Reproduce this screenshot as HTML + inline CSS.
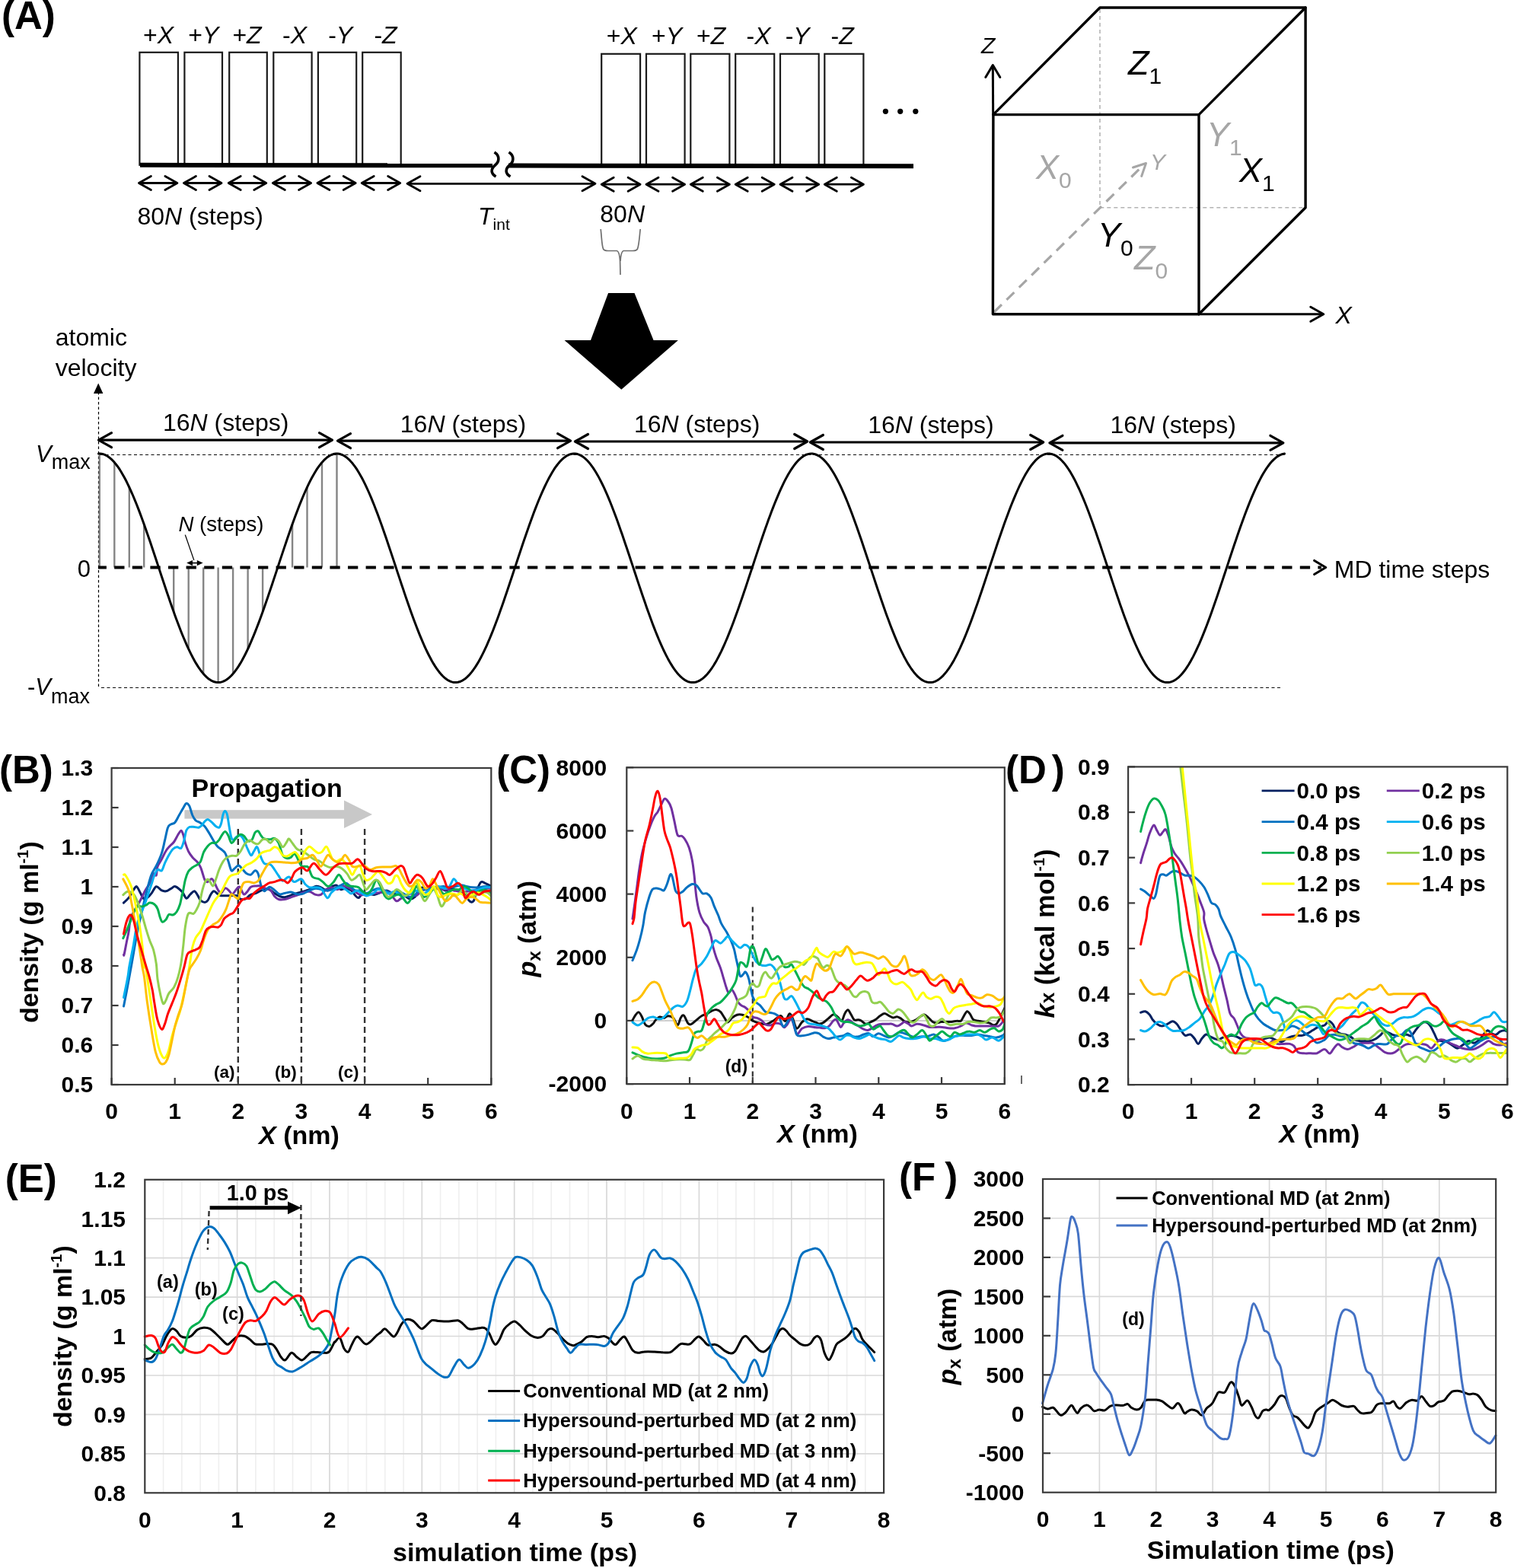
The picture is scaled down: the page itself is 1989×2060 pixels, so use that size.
<!DOCTYPE html>
<html><head><meta charset="utf-8"><style>
html,body{margin:0;padding:0;background:#fff;}
svg{display:block;}
text{font-family:'Liberation Sans', Arial, sans-serif;}
</style></head><body>
<svg width="1989" height="2060" viewBox="0 0 1989 2060">
<rect width="1989" height="2060" fill="#fff"/>
<text x="2.0" y="37.6" font-size="51" text-anchor="start" font-weight="bold" font-style="normal" fill="#000" >(A)</text>
<rect x="183.4" y="68.8" width="50.5" height="148" fill="none" stroke="#1a1a1a" stroke-width="2.2"/>
<rect x="242.4" y="68.8" width="49.6" height="148" fill="none" stroke="#1a1a1a" stroke-width="2.2"/>
<rect x="301.2" y="68.8" width="49.6" height="148" fill="none" stroke="#1a1a1a" stroke-width="2.2"/>
<rect x="359.3" y="68.8" width="50.3" height="148" fill="none" stroke="#1a1a1a" stroke-width="2.2"/>
<rect x="417.9" y="68.8" width="50.3" height="148" fill="none" stroke="#1a1a1a" stroke-width="2.2"/>
<rect x="476.2" y="68.8" width="50.5" height="148" fill="none" stroke="#1a1a1a" stroke-width="2.2"/>
<rect x="790.2" y="70.8" width="50.9" height="147" fill="none" stroke="#1a1a1a" stroke-width="2.2"/>
<rect x="849.0" y="70.8" width="50.6" height="147" fill="none" stroke="#1a1a1a" stroke-width="2.2"/>
<rect x="907.3" y="70.8" width="51.1" height="147" fill="none" stroke="#1a1a1a" stroke-width="2.2"/>
<rect x="966.2" y="70.8" width="51.0" height="147" fill="none" stroke="#1a1a1a" stroke-width="2.2"/>
<rect x="1025.0" y="70.8" width="50.7" height="147" fill="none" stroke="#1a1a1a" stroke-width="2.2"/>
<rect x="1083.3" y="70.8" width="51.1" height="147" fill="none" stroke="#1a1a1a" stroke-width="2.2"/>
<line x1="184.0" y1="216.8" x2="647.0" y2="217.3" stroke="#000" stroke-width="6" />
<line x1="668.0" y1="217.6" x2="1200.0" y2="218.3" stroke="#000" stroke-width="6" />
<path d="M649.5,200 C657.5,205 655.5,213 650.5,217 C644.5,222 644.5,228 651.5,232" fill="none" stroke="#000" stroke-width="3.6"/>
<path d="M668.5,200 C676.5,205 674.5,213 669.5,217 C663.5,222 663.5,228 670.5,232" fill="none" stroke="#000" stroke-width="3.6"/>
<text x="188.0" y="56.6" font-size="32">+<tspan font-style="italic">X</tspan></text>
<text x="247.3" y="56.6" font-size="32">+<tspan font-style="italic">Y</tspan></text>
<text x="305.4" y="56.6" font-size="32">+<tspan font-style="italic">Z</tspan></text>
<text x="371.0" y="56.6" font-size="32">-<tspan font-style="italic">X</tspan></text>
<text x="431.2" y="56.6" font-size="32">-<tspan font-style="italic">Y</tspan></text>
<text x="491.4" y="56.6" font-size="32">-<tspan font-style="italic">Z</tspan></text>
<text x="796.7" y="58.2" font-size="32">+<tspan font-style="italic">X</tspan></text>
<text x="856.1" y="58.2" font-size="32">+<tspan font-style="italic">Y</tspan></text>
<text x="915.1" y="58.2" font-size="32">+<tspan font-style="italic">Z</tspan></text>
<text x="980.5" y="58.2" font-size="32">-<tspan font-style="italic">X</tspan></text>
<text x="1031.7" y="58.2" font-size="32">-<tspan font-style="italic">Y</tspan></text>
<text x="1091.6" y="58.2" font-size="32">-<tspan font-style="italic">Z</tspan></text>
<line x1="183.4" y1="240.5" x2="231.9" y2="240.5" stroke="#000" stroke-width="2.8" />
<polyline points="198.4,249.5 182.4,240.5 198.4,231.5" stroke="#000" stroke-width="2.8" fill="none" stroke-linejoin="round" stroke-linecap="round" stroke-linecap="butt" stroke-linejoin="miter"/>
<polyline points="216.9,231.5 232.9,240.5 216.9,249.5" stroke="#000" stroke-width="2.8" fill="none" stroke-linejoin="round" stroke-linecap="round" stroke-linecap="butt" stroke-linejoin="miter"/>
<line x1="242.4" y1="240.5" x2="290.0" y2="240.5" stroke="#000" stroke-width="2.8" />
<polyline points="257.4,249.5 241.4,240.5 257.4,231.5" stroke="#000" stroke-width="2.8" fill="none" stroke-linejoin="round" stroke-linecap="round" stroke-linecap="butt" stroke-linejoin="miter"/>
<polyline points="275.0,231.5 291.0,240.5 275.0,249.5" stroke="#000" stroke-width="2.8" fill="none" stroke-linejoin="round" stroke-linecap="round" stroke-linecap="butt" stroke-linejoin="miter"/>
<line x1="301.2" y1="240.5" x2="348.8" y2="240.5" stroke="#000" stroke-width="2.8" />
<polyline points="316.2,249.5 300.2,240.5 316.2,231.5" stroke="#000" stroke-width="2.8" fill="none" stroke-linejoin="round" stroke-linecap="round" stroke-linecap="butt" stroke-linejoin="miter"/>
<polyline points="333.8,231.5 349.8,240.5 333.8,249.5" stroke="#000" stroke-width="2.8" fill="none" stroke-linejoin="round" stroke-linecap="round" stroke-linecap="butt" stroke-linejoin="miter"/>
<line x1="359.3" y1="240.5" x2="407.6" y2="240.5" stroke="#000" stroke-width="2.8" />
<polyline points="374.3,249.5 358.3,240.5 374.3,231.5" stroke="#000" stroke-width="2.8" fill="none" stroke-linejoin="round" stroke-linecap="round" stroke-linecap="butt" stroke-linejoin="miter"/>
<polyline points="392.6,231.5 408.6,240.5 392.6,249.5" stroke="#000" stroke-width="2.8" fill="none" stroke-linejoin="round" stroke-linecap="round" stroke-linecap="butt" stroke-linejoin="miter"/>
<line x1="417.9" y1="240.5" x2="466.2" y2="240.5" stroke="#000" stroke-width="2.8" />
<polyline points="432.9,249.5 416.9,240.5 432.9,231.5" stroke="#000" stroke-width="2.8" fill="none" stroke-linejoin="round" stroke-linecap="round" stroke-linecap="butt" stroke-linejoin="miter"/>
<polyline points="451.2,231.5 467.2,240.5 451.2,249.5" stroke="#000" stroke-width="2.8" fill="none" stroke-linejoin="round" stroke-linecap="round" stroke-linecap="butt" stroke-linejoin="miter"/>
<line x1="476.2" y1="240.5" x2="524.7" y2="240.5" stroke="#000" stroke-width="2.8" />
<polyline points="491.2,249.5 475.2,240.5 491.2,231.5" stroke="#000" stroke-width="2.8" fill="none" stroke-linejoin="round" stroke-linecap="round" stroke-linecap="butt" stroke-linejoin="miter"/>
<polyline points="509.7,231.5 525.7,240.5 509.7,249.5" stroke="#000" stroke-width="2.8" fill="none" stroke-linejoin="round" stroke-linecap="round" stroke-linecap="butt" stroke-linejoin="miter"/>
<line x1="791.2" y1="242.2" x2="840.1" y2="242.2" stroke="#000" stroke-width="2.8" />
<polyline points="806.2,251.2 790.2,242.2 806.2,233.2" stroke="#000" stroke-width="2.8" fill="none" stroke-linejoin="round" stroke-linecap="round" stroke-linecap="butt" stroke-linejoin="miter"/>
<polyline points="825.1,233.2 841.1,242.2 825.1,251.2" stroke="#000" stroke-width="2.8" fill="none" stroke-linejoin="round" stroke-linecap="round" stroke-linecap="butt" stroke-linejoin="miter"/>
<line x1="850.0" y1="242.2" x2="898.6" y2="242.2" stroke="#000" stroke-width="2.8" />
<polyline points="865.0,251.2 849.0,242.2 865.0,233.2" stroke="#000" stroke-width="2.8" fill="none" stroke-linejoin="round" stroke-linecap="round" stroke-linecap="butt" stroke-linejoin="miter"/>
<polyline points="883.6,233.2 899.6,242.2 883.6,251.2" stroke="#000" stroke-width="2.8" fill="none" stroke-linejoin="round" stroke-linecap="round" stroke-linecap="butt" stroke-linejoin="miter"/>
<line x1="908.3" y1="242.2" x2="957.4" y2="242.2" stroke="#000" stroke-width="2.8" />
<polyline points="923.3,251.2 907.3,242.2 923.3,233.2" stroke="#000" stroke-width="2.8" fill="none" stroke-linejoin="round" stroke-linecap="round" stroke-linecap="butt" stroke-linejoin="miter"/>
<polyline points="942.4,233.2 958.4,242.2 942.4,251.2" stroke="#000" stroke-width="2.8" fill="none" stroke-linejoin="round" stroke-linecap="round" stroke-linecap="butt" stroke-linejoin="miter"/>
<line x1="967.2" y1="242.2" x2="1016.2" y2="242.2" stroke="#000" stroke-width="2.8" />
<polyline points="982.2,251.2 966.2,242.2 982.2,233.2" stroke="#000" stroke-width="2.8" fill="none" stroke-linejoin="round" stroke-linecap="round" stroke-linecap="butt" stroke-linejoin="miter"/>
<polyline points="1001.2,233.2 1017.2,242.2 1001.2,251.2" stroke="#000" stroke-width="2.8" fill="none" stroke-linejoin="round" stroke-linecap="round" stroke-linecap="butt" stroke-linejoin="miter"/>
<line x1="1026.0" y1="242.2" x2="1074.7" y2="242.2" stroke="#000" stroke-width="2.8" />
<polyline points="1041.0,251.2 1025.0,242.2 1041.0,233.2" stroke="#000" stroke-width="2.8" fill="none" stroke-linejoin="round" stroke-linecap="round" stroke-linecap="butt" stroke-linejoin="miter"/>
<polyline points="1059.7,233.2 1075.7,242.2 1059.7,251.2" stroke="#000" stroke-width="2.8" fill="none" stroke-linejoin="round" stroke-linecap="round" stroke-linecap="butt" stroke-linejoin="miter"/>
<line x1="1084.3" y1="242.2" x2="1133.4" y2="242.2" stroke="#000" stroke-width="2.8" />
<polyline points="1099.3,251.2 1083.3,242.2 1099.3,233.2" stroke="#000" stroke-width="2.8" fill="none" stroke-linejoin="round" stroke-linecap="round" stroke-linecap="butt" stroke-linejoin="miter"/>
<polyline points="1118.4,233.2 1134.4,242.2 1118.4,251.2" stroke="#000" stroke-width="2.8" fill="none" stroke-linejoin="round" stroke-linecap="round" stroke-linecap="butt" stroke-linejoin="miter"/>
<line x1="536.0" y1="241.3" x2="781.0" y2="241.3" stroke="#000" stroke-width="2.8" />
<polyline points="552.0,250.8 535.0,241.3 552.0,231.8" stroke="#000" stroke-width="2.8" fill="none" stroke-linejoin="round" stroke-linecap="round" stroke-linecap="butt" stroke-linejoin="miter"/>
<polyline points="765.0,231.8 782.0,241.3 765.0,250.8" stroke="#000" stroke-width="2.8" fill="none" stroke-linejoin="round" stroke-linecap="round" stroke-linecap="butt" stroke-linejoin="miter"/>
<circle cx="1163.4" cy="146.3" r="3.6" fill="#000"/>
<circle cx="1182.7" cy="146.3" r="3.6" fill="#000"/>
<circle cx="1202.8" cy="146.3" r="3.6" fill="#000"/>
<text x="180.5" y="294.8" font-size="32">80<tspan font-style="italic">N</tspan> (steps)</text>
<text x="628" y="294.8" font-size="32" font-style="italic">T<tspan font-style="normal" font-size="21" dy="7">int</tspan></text>
<text x="788.3" y="291.5" font-size="32">80<tspan font-style="italic">N</tspan></text>
<path d="M789.2,301 C790.5,312 790.5,322 792.5,327 C793.5,329 796,329.5 799,329.5 L810.5,329.5 C813,330 814,335 814.6,343 L815,361 M815,343 C815.6,335 816.5,330 819,329.5 L831,329.5 C834,329.5 836.5,329 837.5,327 C839.5,322 840,312 841.2,301" fill="none" stroke="#6f6f6f" stroke-width="1.7"/>
<polygon points="799.1,384.9 833.5,384.9 858.6,447.0 890.9,447.0 816.3,511.8 741.6,447.0 776.0,447.0" fill="#000" />
<polyline points="1445,12 1445,272.7 1715,272.7" fill="none" stroke="#b3b3b3" stroke-width="1.6" stroke-dasharray="5,4"/>
<line x1="1306" y1="410" x2="1502" y2="217" stroke="#a6a6a6" stroke-width="3.2" stroke-dasharray="14,9"/>
<polyline points="1488.5,220.0 1505.5,214.5 1499.7,231.4" stroke="#a6a6a6" stroke-width="3" fill="none" stroke-linejoin="round" stroke-linecap="round" stroke-linecap="butt" stroke-linejoin="miter"/>
<polyline points="1304.9,150.6 1575.0,150.6 1575.0,412.8 1304.4,412.8 1304.9,150.6" stroke="#000" stroke-width="3.4" fill="none" stroke-linejoin="round" stroke-linecap="round" stroke-linecap="square"/>
<polyline points="1304.9,150.6 1445.0,10.0 1715.1,10.0 1575.0,150.6" stroke="#000" stroke-width="3.4" fill="none" stroke-linejoin="round" stroke-linecap="round" />
<polyline points="1715.1,10.0 1715.1,272.7 1575.0,412.8" stroke="#000" stroke-width="3.4" fill="none" stroke-linejoin="round" stroke-linecap="round" />
<line x1="1304.7" y1="150.6" x2="1304.3" y2="86.0" stroke="#000" stroke-width="3" />
<polyline points="1294.8,101.5 1304.3,85.5 1313.8,101.5" stroke="#000" stroke-width="3" fill="none" stroke-linejoin="round" stroke-linecap="round" stroke-linecap="butt" stroke-linejoin="miter"/>
<line x1="1575.0" y1="412.8" x2="1737.0" y2="412.8" stroke="#000" stroke-width="3" />
<polyline points="1721.8,403.3 1738.8,412.8 1721.8,422.3" stroke="#000" stroke-width="3" fill="none" stroke-linejoin="round" stroke-linecap="round" stroke-linecap="butt" stroke-linejoin="miter"/>
<text x="1289.0" y="70.0" font-size="30" text-anchor="start" font-weight="normal" font-style="italic" fill="#000" >Z</text>
<text x="1754.5" y="425.4" font-size="32" text-anchor="start" font-weight="normal" font-style="italic" fill="#000" >X</text>
<text x="1482" y="97.8" font-size="45" fill="#000" font-style="italic">Z<tspan font-style="normal" font-size="30" dy="12">1</tspan></text>
<text x="1361" y="235.2" font-size="45" fill="#a6a6a6" font-style="italic">X<tspan font-style="normal" font-size="30" dy="12">0</tspan></text>
<text x="1585" y="191.6" font-size="45" fill="#a6a6a6" font-style="italic">Y<tspan font-style="normal" font-size="30" dy="12">1</tspan></text>
<text x="1628" y="239.2" font-size="45" fill="#000" font-style="italic">X<tspan font-style="normal" font-size="30" dy="12">1</tspan></text>
<text x="1442" y="323.7" font-size="45" fill="#000" font-style="italic">Y<tspan font-style="normal" font-size="30" dy="12">0</tspan></text>
<text x="1490" y="354" font-size="45" fill="#a6a6a6" font-style="italic">Z<tspan font-style="normal" font-size="30" dy="12">0</tspan></text>
<text x="1511.0" y="223.3" font-size="30" text-anchor="start" font-weight="normal" font-style="italic" fill="#a6a6a6" >Y</text>
<line x1="129.5" y1="515" x2="129.5" y2="904" stroke="#000" stroke-width="1.2" stroke-dasharray="3.5,3"/>
<polygon points="129.2,503.5 123.0,517.0 135.4,517.0" fill="#000" />
<text x="72.7" y="454.4" font-size="32" text-anchor="start" font-weight="normal" font-style="normal" fill="#000" >atomic</text>
<text x="72.7" y="494.0" font-size="32" text-anchor="start" font-weight="normal" font-style="normal" fill="#000" >velocity</text>
<line x1="131" y1="597.5" x2="1688" y2="597.5" stroke="#000" stroke-width="1.1" stroke-dasharray="4,3.5"/>
<line x1="133" y1="903.5" x2="1682" y2="903.5" stroke="#000" stroke-width="1.1" stroke-dasharray="4,3.5"/>
<line x1="130.8" y1="745.5" x2="130.8" y2="596.0" stroke="#858585" stroke-width="2.4" />
<line x1="150.3" y1="745.5" x2="150.3" y2="607.4" stroke="#858585" stroke-width="2.4" />
<line x1="169.8" y1="745.5" x2="169.8" y2="640.0" stroke="#858585" stroke-width="2.4" />
<line x1="189.2" y1="745.5" x2="189.2" y2="688.8" stroke="#858585" stroke-width="2.4" />
<line x1="228.2" y1="745.5" x2="228.2" y2="803.8" stroke="#858585" stroke-width="2.4" />
<line x1="247.7" y1="745.5" x2="247.7" y2="852.6" stroke="#858585" stroke-width="2.4" />
<line x1="267.2" y1="745.5" x2="267.2" y2="885.2" stroke="#858585" stroke-width="2.4" />
<line x1="286.6" y1="745.5" x2="286.6" y2="896.6" stroke="#858585" stroke-width="2.4" />
<line x1="306.1" y1="745.5" x2="306.1" y2="885.2" stroke="#858585" stroke-width="2.4" />
<line x1="325.6" y1="745.5" x2="325.6" y2="852.6" stroke="#858585" stroke-width="2.4" />
<line x1="345.1" y1="745.5" x2="345.1" y2="803.8" stroke="#858585" stroke-width="2.4" />
<line x1="384.1" y1="745.5" x2="384.1" y2="688.8" stroke="#858585" stroke-width="2.4" />
<line x1="403.5" y1="745.5" x2="403.5" y2="640.0" stroke="#858585" stroke-width="2.4" />
<line x1="423.0" y1="745.5" x2="423.0" y2="607.4" stroke="#858585" stroke-width="2.4" />
<line x1="442.5" y1="745.5" x2="442.5" y2="596.0" stroke="#858585" stroke-width="2.4" />
<line x1="129" y1="745.5" x2="1736" y2="745.5" stroke="#000" stroke-width="4.2" stroke-dasharray="13.3,10.3" stroke-dashoffset="2.4"/>
<polyline points="1726.7,736.5 1741.7,745.5 1726.7,754.5" stroke="#000" stroke-width="3.2" fill="none" stroke-linejoin="round" stroke-linecap="round" stroke-linecap="butt" stroke-linejoin="miter"/>
<text x="1752.8" y="759.0" font-size="32" text-anchor="start" font-weight="normal" font-style="normal" fill="#000" >MD time steps</text>
<polyline points="129.5,596.1 131.5,596.0 133.5,596.2 135.5,596.7 137.5,597.4 139.5,598.3 141.5,599.5 143.5,600.9 145.5,602.6 147.5,604.4 149.5,606.6 151.5,608.9 153.5,611.5 155.5,614.2 157.5,617.2 159.5,620.5 161.5,623.9 163.5,627.5 165.5,631.3 167.5,635.3 169.5,639.5 171.5,643.8 173.5,648.3 175.5,653.0 177.5,657.8 179.5,662.8 181.5,667.9 183.5,673.1 185.5,678.5 187.5,683.9 189.5,689.5 191.5,695.2 193.5,700.9 195.5,706.7 197.5,712.6 199.5,718.5 201.5,724.5 203.5,730.5 205.5,736.5 207.5,742.6 209.5,748.6 211.5,754.7 213.5,760.7 215.5,766.8 217.5,772.7 219.5,778.7 221.5,784.6 223.5,790.4 225.5,796.2 227.5,801.8 229.5,807.4 231.5,812.9 233.5,818.3 235.5,823.5 237.5,828.7 239.5,833.7 241.5,838.5 243.5,843.2 245.5,847.8 247.5,852.2 249.5,856.4 251.5,860.4 253.5,864.3 255.5,867.9 257.5,871.4 259.5,874.6 261.5,877.7 263.5,880.5 265.5,883.1 267.5,885.5 269.5,887.7 271.5,889.6 273.5,891.4 275.5,892.8 277.5,894.1 279.5,895.0 281.5,895.8 283.5,896.3 285.5,896.6 287.5,896.6 289.5,896.4 291.5,895.9 293.5,895.2 295.5,894.2 297.5,893.0 299.5,891.6 301.5,889.9 303.5,888.0 305.5,885.9 307.5,883.5 309.5,880.9 311.5,878.1 313.5,875.1 315.5,871.9 317.5,868.5 319.5,864.8 321.5,861.0 323.5,857.0 325.5,852.8 327.5,848.5 329.5,843.9 331.5,839.2 333.5,834.4 335.5,829.4 337.5,824.3 339.5,819.1 341.5,813.7 343.5,808.2 345.5,802.7 347.5,797.0 349.5,791.3 351.5,785.5 353.5,779.6 355.5,773.6 357.5,767.7 359.5,761.6 361.5,755.6 363.5,749.6 365.5,743.5 367.5,737.4 369.5,731.4 371.5,725.4 373.5,719.4 375.5,713.5 377.5,707.6 379.5,701.8 381.5,696.0 383.5,690.3 385.5,684.8 387.5,679.3 389.5,673.9 391.5,668.7 393.5,663.5 395.5,658.6 397.5,653.7 399.5,649.0 401.5,644.5 403.5,640.1 405.5,635.9 407.5,631.9 409.5,628.0 411.5,624.4 413.5,621.0 415.5,617.7 417.5,614.7 419.5,611.9 421.5,609.3 423.5,606.9 425.5,604.7 427.5,602.8 429.5,601.1 431.5,599.7 433.5,598.5 435.5,597.5 437.5,596.8 439.5,596.3 441.5,596.0 443.5,596.0 445.5,596.3 447.5,596.8 449.5,597.5 451.5,598.5 453.5,599.7 455.5,601.1 457.5,602.8 459.5,604.7 461.5,606.9 463.5,609.3 465.5,611.9 467.5,614.7 469.5,617.7 471.5,621.0 473.5,624.4 475.5,628.0 477.5,631.9 479.5,635.9 481.5,640.1 483.5,644.5 485.5,649.0 487.5,653.7 489.5,658.6 491.5,663.5 493.5,668.7 495.5,673.9 497.5,679.3 499.5,684.8 501.5,690.3 503.5,696.0 505.5,701.8 507.5,707.6 509.5,713.5 511.5,719.4 513.5,725.4 515.5,731.4 517.5,737.4 519.5,743.5 521.5,749.6 523.5,755.6 525.5,761.6 527.5,767.7 529.5,773.6 531.5,779.6 533.5,785.5 535.5,791.3 537.5,797.0 539.5,802.7 541.5,808.2 543.5,813.7 545.5,819.1 547.5,824.3 549.5,829.4 551.5,834.4 553.5,839.2 555.5,843.9 557.5,848.5 559.5,852.8 561.5,857.0 563.5,861.0 565.5,864.8 567.5,868.5 569.5,871.9 571.5,875.1 573.5,878.1 575.5,880.9 577.5,883.5 579.5,885.9 581.5,888.0 583.5,889.9 585.5,891.6 587.5,893.0 589.5,894.2 591.5,895.2 593.5,895.9 595.5,896.4 597.5,896.6 599.5,896.6 601.5,896.3 603.5,895.8 605.5,895.0 607.5,894.1 609.5,892.8 611.5,891.4 613.5,889.6 615.5,887.7 617.5,885.5 619.5,883.1 621.5,880.5 623.5,877.7 625.5,874.6 627.5,871.4 629.5,867.9 631.5,864.3 633.5,860.4 635.5,856.4 637.5,852.2 639.5,847.8 641.5,843.2 643.5,838.5 645.5,833.7 647.5,828.7 649.5,823.5 651.5,818.3 653.5,812.9 655.5,807.4 657.5,801.8 659.5,796.2 661.5,790.4 663.5,784.6 665.5,778.7 667.5,772.7 669.5,766.8 671.5,760.7 673.5,754.7 675.5,748.6 677.5,742.6 679.5,736.5 681.5,730.5 683.5,724.5 685.5,718.5 687.5,712.6 689.5,706.7 691.5,700.9 693.5,695.2 695.5,689.5 697.5,683.9 699.5,678.5 701.5,673.1 703.5,667.9 705.5,662.8 707.5,657.8 709.5,653.0 711.5,648.3 713.5,643.8 715.5,639.5 717.5,635.3 719.5,631.3 721.5,627.5 723.5,623.9 725.5,620.5 727.5,617.2 729.5,614.2 731.5,611.5 733.5,608.9 735.5,606.6 737.5,604.4 739.5,602.6 741.5,600.9 743.5,599.5 745.5,598.3 747.5,597.4 749.5,596.7 751.5,596.2 753.5,596.0 755.5,596.1 757.5,596.3 759.5,596.9 761.5,597.6 763.5,598.6 765.5,599.9 767.5,601.4 769.5,603.1 771.5,605.0 773.5,607.2 775.5,609.6 777.5,612.3 779.5,615.1 781.5,618.2 783.5,621.5 785.5,624.9 787.5,628.6 789.5,632.5 791.5,636.5 793.5,640.7 795.5,645.1 797.5,649.7 799.5,654.4 801.5,659.3 803.5,664.3 805.5,669.5 807.5,674.7 809.5,680.1 811.5,685.6 813.5,691.2 815.5,696.9 817.5,702.6 819.5,708.5 821.5,714.4 823.5,720.3 825.5,726.3 827.5,732.3 829.5,738.4 831.5,744.4 833.5,750.5 835.5,756.5 837.5,762.6 839.5,768.6 841.5,774.5 843.5,780.5 845.5,786.3 847.5,792.1 849.5,797.9 851.5,803.5 853.5,809.1 855.5,814.5 857.5,819.9 859.5,825.1 861.5,830.2 863.5,835.1 865.5,840.0 867.5,844.6 869.5,849.1 871.5,853.5 873.5,857.6 875.5,861.6 877.5,865.4 879.5,869.0 881.5,872.4 883.5,875.6 885.5,878.6 887.5,881.3 889.5,883.9 891.5,886.2 893.5,888.3 895.5,890.2 897.5,891.8 899.5,893.2 901.5,894.4 903.5,895.3 905.5,896.0 907.5,896.4 909.5,896.6 911.5,896.5 913.5,896.2 915.5,895.7 917.5,894.9 919.5,893.9 921.5,892.6 923.5,891.1 925.5,889.4 927.5,887.4 929.5,885.2 931.5,882.8 933.5,880.1 935.5,877.3 937.5,874.2 939.5,870.9 941.5,867.4 943.5,863.7 945.5,859.8 947.5,855.8 949.5,851.5 951.5,847.1 953.5,842.5 955.5,837.8 957.5,832.9 959.5,827.9 961.5,822.8 963.5,817.5 965.5,812.1 967.5,806.6 969.5,801.0 971.5,795.3 973.5,789.5 975.5,783.7 977.5,777.8 979.5,771.9 981.5,765.9 983.5,759.8 985.5,753.8 987.5,747.7 989.5,741.7 991.5,735.6 993.5,729.6 995.5,723.6 997.5,717.6 999.5,711.7 1001.5,705.8 1003.5,700.0 1005.5,694.3 1007.5,688.7 1009.5,683.1 1011.5,677.7 1013.5,672.3 1015.5,667.1 1017.5,662.0 1019.5,657.1 1021.5,652.3 1023.5,647.6 1025.5,643.1 1027.5,638.8 1029.5,634.7 1031.5,630.7 1033.5,626.9 1035.5,623.3 1037.5,620.0 1039.5,616.8 1041.5,613.8 1043.5,611.1 1045.5,608.5 1047.5,606.2 1049.5,604.1 1051.5,602.3 1053.5,600.7 1055.5,599.3 1057.5,598.1 1059.5,597.2 1061.5,596.6 1063.5,596.2 1065.5,596.0 1067.5,596.1 1069.5,596.4 1071.5,597.0 1073.5,597.8 1075.5,598.8 1077.5,600.1 1079.5,601.6 1081.5,603.4 1083.5,605.4 1085.5,607.6 1087.5,610.0 1089.5,612.7 1091.5,615.6 1093.5,618.7 1095.5,622.0 1097.5,625.5 1099.5,629.2 1101.5,633.1 1103.5,637.1 1105.5,641.4 1107.5,645.8 1109.5,650.4 1111.5,655.1 1113.5,660.0 1115.5,665.1 1117.5,670.2 1119.5,675.5 1121.5,680.9 1123.5,686.4 1125.5,692.0 1127.5,697.7 1129.5,703.5 1131.5,709.3 1133.5,715.2 1135.5,721.2 1137.5,727.2 1139.5,733.2 1141.5,739.3 1143.5,745.3 1145.5,751.4 1147.5,757.4 1149.5,763.5 1151.5,769.5 1153.5,775.4 1155.5,781.3 1157.5,787.2 1159.5,793.0 1161.5,798.7 1163.5,804.4 1165.5,809.9 1167.5,815.3 1169.5,820.7 1171.5,825.9 1173.5,830.9 1175.5,835.9 1177.5,840.7 1179.5,845.3 1181.5,849.8 1183.5,854.1 1185.5,858.2 1187.5,862.2 1189.5,865.9 1191.5,869.5 1193.5,872.9 1195.5,876.0 1197.5,879.0 1199.5,881.7 1201.5,884.3 1203.5,886.5 1205.5,888.6 1207.5,890.4 1209.5,892.0 1211.5,893.4 1213.5,894.5 1215.5,895.4 1217.5,896.0 1219.5,896.4 1221.5,896.6 1223.5,896.5 1225.5,896.2 1227.5,895.6 1229.5,894.8 1231.5,893.7 1233.5,892.4 1235.5,890.9 1237.5,889.1 1239.5,887.1 1241.5,884.8 1243.5,882.4 1245.5,879.7 1247.5,876.8 1249.5,873.7 1251.5,870.4 1253.5,866.9 1255.5,863.1 1257.5,859.2 1259.5,855.1 1261.5,850.9 1263.5,846.4 1265.5,841.8 1267.5,837.1 1269.5,832.2 1271.5,827.1 1273.5,822.0 1275.5,816.7 1277.5,811.3 1279.5,805.8 1281.5,800.1 1283.5,794.4 1285.5,788.7 1287.5,782.8 1289.5,776.9 1291.5,771.0 1293.5,765.0 1295.5,758.9 1297.5,752.9 1299.5,746.8 1301.5,740.8 1303.5,734.7 1305.5,728.7 1307.5,722.7 1309.5,716.7 1311.5,710.8 1313.5,705.0 1315.5,699.2 1317.5,693.4 1319.5,687.8 1321.5,682.3 1323.5,676.9 1325.5,671.5 1327.5,666.3 1329.5,661.3 1331.5,656.4 1333.5,651.6 1335.5,647.0 1337.5,642.5 1339.5,638.2 1341.5,634.1 1343.5,630.1 1345.5,626.4 1347.5,622.8 1349.5,619.5 1351.5,616.3 1353.5,613.4 1355.5,610.7 1357.5,608.2 1359.5,605.9 1361.5,603.8 1363.5,602.0 1365.5,600.4 1367.5,599.1 1369.5,598.0 1371.5,597.1 1373.5,596.5 1375.5,596.1 1377.5,596.0 1379.5,596.1 1381.5,596.5 1383.5,597.1 1385.5,597.9 1387.5,599.0 1389.5,600.3 1391.5,601.9 1393.5,603.7 1395.5,605.7 1397.5,607.9 1399.5,610.4 1401.5,613.1 1403.5,616.0 1405.5,619.1 1407.5,622.5 1409.5,626.0 1411.5,629.7 1413.5,633.7 1415.5,637.8 1417.5,642.0 1419.5,646.5 1421.5,651.1 1423.5,655.9 1425.5,660.8 1427.5,665.8 1429.5,671.0 1431.5,676.3 1433.5,681.7 1435.5,687.3 1437.5,692.9 1439.5,698.6 1441.5,704.4 1443.5,710.2 1445.5,716.1 1447.5,722.1 1449.5,728.1 1451.5,734.1 1453.5,740.2 1455.5,746.2 1457.5,752.3 1459.5,758.3 1461.5,764.4 1463.5,770.4 1465.5,776.3 1467.5,782.2 1469.5,788.1 1471.5,793.9 1473.5,799.6 1475.5,805.2 1477.5,810.7 1479.5,816.1 1481.5,821.4 1483.5,826.6 1485.5,831.7 1487.5,836.6 1489.5,841.4 1491.5,846.0 1493.5,850.4 1495.5,854.7 1497.5,858.8 1499.5,862.8 1501.5,866.5 1503.5,870.0 1505.5,873.4 1507.5,876.5 1509.5,879.4 1511.5,882.1 1513.5,884.6 1515.5,886.9 1517.5,888.9 1519.5,890.7 1521.5,892.3 1523.5,893.6 1525.5,894.7 1527.5,895.5 1529.5,896.1 1531.5,896.5 1533.5,896.6 1535.5,896.5 1537.5,896.1 1539.5,895.5 1541.5,894.6 1543.5,893.5 1545.5,892.2 1547.5,890.6 1549.5,888.8 1551.5,886.8 1553.5,884.5 1555.5,882.0 1557.5,879.3 1559.5,876.3 1561.5,873.2 1563.5,869.9 1565.5,866.3 1567.5,862.6 1569.5,858.6 1571.5,854.5 1573.5,850.2 1575.5,845.8 1577.5,841.1 1579.5,836.4 1581.5,831.4 1583.5,826.4 1585.5,821.2 1587.5,815.9 1589.5,810.4 1591.5,804.9 1593.5,799.3 1595.5,793.6 1597.5,787.8 1599.5,781.9 1601.5,776.0 1603.5,770.1 1605.5,764.1 1607.5,758.0 1609.5,752.0 1611.5,745.9 1613.5,739.9 1615.5,733.8 1617.5,727.8 1619.5,721.8 1621.5,715.8 1623.5,709.9 1625.5,704.1 1627.5,698.3 1629.5,692.6 1631.5,687.0 1633.5,681.5 1635.5,676.1 1637.5,670.8 1639.5,665.6 1641.5,660.5 1643.5,655.6 1645.5,650.9 1647.5,646.3 1649.5,641.8 1651.5,637.6 1653.5,633.5 1655.5,629.6 1657.5,625.8 1659.5,622.3 1661.5,619.0 1663.5,615.9 1665.5,613.0 1667.5,610.3 1669.5,607.8 1671.5,605.6 1673.5,603.6 1675.5,601.8 1677.5,600.2 1679.5,598.9 1681.5,597.9 1683.5,597.0 1685.5,596.4 1687.5,596.1" stroke="#000" stroke-width="3" fill="none" stroke-linejoin="round" stroke-linecap="round" />
<line x1="130.5" y1="578.2" x2="435.5" y2="578.2" stroke="#000" stroke-width="3.2" />
<polyline points="146.5,587.7 129.5,578.2 146.5,568.7" stroke="#000" stroke-width="3.2" fill="none" stroke-linejoin="round" stroke-linecap="round" stroke-linecap="butt" stroke-linejoin="miter"/>
<polyline points="419.5,568.7 436.5,578.2 419.5,587.7" stroke="#000" stroke-width="3.2" fill="none" stroke-linejoin="round" stroke-linecap="round" stroke-linecap="butt" stroke-linejoin="miter"/>
<text x="214" y="565.5" font-size="32">16<tspan font-style="italic">N</tspan> (steps)</text>
<line x1="444.5" y1="579.2" x2="748.6" y2="579.2" stroke="#000" stroke-width="3.2" />
<polyline points="460.5,588.7 443.5,579.2 460.5,569.7" stroke="#000" stroke-width="3.2" fill="none" stroke-linejoin="round" stroke-linecap="round" stroke-linecap="butt" stroke-linejoin="miter"/>
<polyline points="732.6,569.7 749.6,579.2 732.6,588.7" stroke="#000" stroke-width="3.2" fill="none" stroke-linejoin="round" stroke-linecap="round" stroke-linecap="butt" stroke-linejoin="miter"/>
<text x="525.8" y="568.1" font-size="32">16<tspan font-style="italic">N</tspan> (steps)</text>
<line x1="756.5" y1="580.0" x2="1059.7" y2="580.0" stroke="#000" stroke-width="3.2" />
<polyline points="772.5,589.5 755.5,580.0 772.5,570.5" stroke="#000" stroke-width="3.2" fill="none" stroke-linejoin="round" stroke-linecap="round" stroke-linecap="butt" stroke-linejoin="miter"/>
<polyline points="1043.7,570.5 1060.7,580.0 1043.7,589.5" stroke="#000" stroke-width="3.2" fill="none" stroke-linejoin="round" stroke-linecap="round" stroke-linecap="butt" stroke-linejoin="miter"/>
<text x="832.9" y="568.3" font-size="32">16<tspan font-style="italic">N</tspan> (steps)</text>
<line x1="1065.4" y1="581.0" x2="1369.7" y2="581.0" stroke="#000" stroke-width="3.2" />
<polyline points="1081.4,590.5 1064.4,581.0 1081.4,571.5" stroke="#000" stroke-width="3.2" fill="none" stroke-linejoin="round" stroke-linecap="round" stroke-linecap="butt" stroke-linejoin="miter"/>
<polyline points="1353.7,571.5 1370.7,581.0 1353.7,590.5" stroke="#000" stroke-width="3.2" fill="none" stroke-linejoin="round" stroke-linecap="round" stroke-linecap="butt" stroke-linejoin="miter"/>
<text x="1140.2" y="568.8" font-size="32">16<tspan font-style="italic">N</tspan> (steps)</text>
<line x1="1379.9" y1="581.8" x2="1684.9" y2="581.8" stroke="#000" stroke-width="3.2" />
<polyline points="1395.9,591.3 1378.9,581.8 1395.9,572.3" stroke="#000" stroke-width="3.2" fill="none" stroke-linejoin="round" stroke-linecap="round" stroke-linecap="butt" stroke-linejoin="miter"/>
<polyline points="1668.9,572.3 1685.9,581.8 1668.9,591.3" stroke="#000" stroke-width="3.2" fill="none" stroke-linejoin="round" stroke-linecap="round" stroke-linecap="butt" stroke-linejoin="miter"/>
<text x="1458.4" y="568.8" font-size="32">16<tspan font-style="italic">N</tspan> (steps)</text>
<text x="234.5" y="698.1" font-size="27.6"><tspan font-style="italic">N</tspan> (steps)</text>
<line x1="243.3" y1="702.6" x2="254.8" y2="735.9" stroke="#000" stroke-width="1.3" />
<line x1="251.0" y1="739.6" x2="261.0" y2="739.6" stroke="#000" stroke-width="1.6" />
<polygon points="245.2,739.6 253.0,735.9 253.0,743.3" fill="#000" />
<polygon points="266.6,739.6 258.8,735.9 258.8,743.3" fill="#000" />
<text x="101.7" y="757.7" font-size="31" text-anchor="start" font-weight="normal" font-style="normal" fill="#000" >0</text>
<text x="47" y="606.5" font-size="31" font-style="italic">V<tspan font-style="normal" font-size="27" dy="9.5">max</tspan></text>
<text x="36" y="912.8" font-size="31">-<tspan font-style="italic">V</tspan><tspan font-size="27" dy="10.8">max</tspan></text>
<text x="-1.0" y="1029.3" font-size="51" text-anchor="start" font-weight="bold" font-style="normal" fill="#000" >(B)</text>
<rect x="242.4" y="1064.2" width="210.5" height="11.4" fill="#c8c8c8"/>
<polygon points="452.0,1051.4 489.0,1069.9 452.0,1088.0" fill="#c8c8c8" />
<text x="251.5" y="1047.4" font-size="34" text-anchor="start" font-weight="bold" font-style="normal" fill="#000" >Propagation</text>
<line x1="312.8" y1="1089" x2="312.8" y2="1424" stroke="#333" stroke-width="2.4" stroke-dasharray="8,5"/>
<line x1="395.9" y1="1089" x2="395.9" y2="1424" stroke="#333" stroke-width="2.4" stroke-dasharray="8,5"/>
<line x1="479.1" y1="1089" x2="479.1" y2="1424" stroke="#333" stroke-width="2.4" stroke-dasharray="8,5"/>
<text x="281.0" y="1416.0" font-size="22.5" text-anchor="start" font-weight="bold" font-style="normal" fill="#000" >(a)</text>
<text x="361.0" y="1416.0" font-size="22.5" text-anchor="start" font-weight="bold" font-style="normal" fill="#000" >(b)</text>
<text x="444.0" y="1416.0" font-size="22.5" text-anchor="start" font-weight="bold" font-style="normal" fill="#000" >(c)</text>
<line x1="146.6" y1="1009.0" x2="155.6" y2="1009.0" stroke="#3a3a3a" stroke-width="2.2" />
<text x="122.2" y="1019.3" font-size="30" text-anchor="end" font-weight="bold" font-style="normal" fill="#000" >1.3</text>
<line x1="146.6" y1="1061.0" x2="155.6" y2="1061.0" stroke="#3a3a3a" stroke-width="2.2" />
<text x="122.2" y="1071.3" font-size="30" text-anchor="end" font-weight="bold" font-style="normal" fill="#000" >1.2</text>
<line x1="146.6" y1="1113.0" x2="155.6" y2="1113.0" stroke="#3a3a3a" stroke-width="2.2" />
<text x="122.2" y="1123.3" font-size="30" text-anchor="end" font-weight="bold" font-style="normal" fill="#000" >1.1</text>
<line x1="146.6" y1="1165.0" x2="155.6" y2="1165.0" stroke="#3a3a3a" stroke-width="2.2" />
<text x="122.2" y="1175.3" font-size="30" text-anchor="end" font-weight="bold" font-style="normal" fill="#000" >1</text>
<line x1="146.6" y1="1217.0" x2="155.6" y2="1217.0" stroke="#3a3a3a" stroke-width="2.2" />
<text x="122.2" y="1227.3" font-size="30" text-anchor="end" font-weight="bold" font-style="normal" fill="#000" >0.9</text>
<line x1="146.6" y1="1269.0" x2="155.6" y2="1269.0" stroke="#3a3a3a" stroke-width="2.2" />
<text x="122.2" y="1279.3" font-size="30" text-anchor="end" font-weight="bold" font-style="normal" fill="#000" >0.8</text>
<line x1="146.6" y1="1321.0" x2="155.6" y2="1321.0" stroke="#3a3a3a" stroke-width="2.2" />
<text x="122.2" y="1331.3" font-size="30" text-anchor="end" font-weight="bold" font-style="normal" fill="#000" >0.7</text>
<line x1="146.6" y1="1373.0" x2="155.6" y2="1373.0" stroke="#3a3a3a" stroke-width="2.2" />
<text x="122.2" y="1383.3" font-size="30" text-anchor="end" font-weight="bold" font-style="normal" fill="#000" >0.6</text>
<line x1="146.6" y1="1425.0" x2="155.6" y2="1425.0" stroke="#3a3a3a" stroke-width="2.2" />
<text x="122.2" y="1435.3" font-size="30" text-anchor="end" font-weight="bold" font-style="normal" fill="#000" >0.5</text>
<line x1="146.6" y1="1425.0" x2="146.6" y2="1416.0" stroke="#3a3a3a" stroke-width="2.2" />
<text x="146.6" y="1469.6" font-size="30" text-anchor="middle" font-weight="bold" font-style="normal" fill="#000" >0</text>
<line x1="229.7" y1="1425.0" x2="229.7" y2="1416.0" stroke="#3a3a3a" stroke-width="2.2" />
<text x="229.7" y="1469.6" font-size="30" text-anchor="middle" font-weight="bold" font-style="normal" fill="#000" >1</text>
<line x1="312.8" y1="1425.0" x2="312.8" y2="1416.0" stroke="#3a3a3a" stroke-width="2.2" />
<text x="312.8" y="1469.6" font-size="30" text-anchor="middle" font-weight="bold" font-style="normal" fill="#000" >2</text>
<line x1="395.9" y1="1425.0" x2="395.9" y2="1416.0" stroke="#3a3a3a" stroke-width="2.2" />
<text x="395.9" y="1469.6" font-size="30" text-anchor="middle" font-weight="bold" font-style="normal" fill="#000" >3</text>
<line x1="479.1" y1="1425.0" x2="479.1" y2="1416.0" stroke="#3a3a3a" stroke-width="2.2" />
<text x="479.1" y="1469.6" font-size="30" text-anchor="middle" font-weight="bold" font-style="normal" fill="#000" >4</text>
<line x1="562.2" y1="1425.0" x2="562.2" y2="1416.0" stroke="#3a3a3a" stroke-width="2.2" />
<text x="562.2" y="1469.6" font-size="30" text-anchor="middle" font-weight="bold" font-style="normal" fill="#000" >5</text>
<line x1="645.3" y1="1425.0" x2="645.3" y2="1416.0" stroke="#3a3a3a" stroke-width="2.2" />
<text x="645.3" y="1469.6" font-size="30" text-anchor="middle" font-weight="bold" font-style="normal" fill="#000" >6</text>
<text x="340" y="1503.4" font-size="34" font-weight="bold"><tspan font-style="italic">X</tspan> (nm)</text>
<text transform="translate(49.7,1224.7) rotate(-90)" x="0" y="0" font-size="34" font-weight="bold" text-anchor="middle">density (g ml<tspan font-size="20" dy="-13">-1</tspan><tspan dy="13">)</tspan></text>
<text x="652.3" y="1029.3" font-size="51" text-anchor="start" font-weight="bold" font-style="normal" fill="#000" >(C)</text>
<line x1="823.3" y1="1340.9" x2="1319.8" y2="1340.9" stroke="#cfcfcf" stroke-width="2" />
<line x1="988.8" y1="1191.6" x2="988.8" y2="1424" stroke="#333" stroke-width="2.2" stroke-dasharray="7,5"/>
<text x="952.7" y="1409.0" font-size="23" text-anchor="start" font-weight="bold" font-style="normal" fill="#000" >(d)</text>
<line x1="823.3" y1="1008.3" x2="832.3" y2="1008.3" stroke="#3a3a3a" stroke-width="2.2" />
<text x="797.3" y="1018.6" font-size="30" text-anchor="end" font-weight="bold" font-style="normal" fill="#000" >8000</text>
<line x1="823.3" y1="1091.5" x2="832.3" y2="1091.5" stroke="#3a3a3a" stroke-width="2.2" />
<text x="797.3" y="1101.8" font-size="30" text-anchor="end" font-weight="bold" font-style="normal" fill="#000" >6000</text>
<line x1="823.3" y1="1174.6" x2="832.3" y2="1174.6" stroke="#3a3a3a" stroke-width="2.2" />
<text x="797.3" y="1184.9" font-size="30" text-anchor="end" font-weight="bold" font-style="normal" fill="#000" >4000</text>
<line x1="823.3" y1="1257.8" x2="832.3" y2="1257.8" stroke="#3a3a3a" stroke-width="2.2" />
<text x="797.3" y="1268.1" font-size="30" text-anchor="end" font-weight="bold" font-style="normal" fill="#000" >2000</text>
<line x1="823.3" y1="1340.9" x2="832.3" y2="1340.9" stroke="#3a3a3a" stroke-width="2.2" />
<text x="797.3" y="1351.2" font-size="30" text-anchor="end" font-weight="bold" font-style="normal" fill="#000" >0</text>
<line x1="823.3" y1="1424.1" x2="832.3" y2="1424.1" stroke="#3a3a3a" stroke-width="2.2" />
<text x="797.3" y="1434.4" font-size="30" text-anchor="end" font-weight="bold" font-style="normal" fill="#000" >-2000</text>
<line x1="823.3" y1="1424.1" x2="823.3" y2="1415.1" stroke="#3a3a3a" stroke-width="2.2" />
<text x="823.3" y="1469.6" font-size="30" text-anchor="middle" font-weight="bold" font-style="normal" fill="#000" >0</text>
<line x1="906.0" y1="1424.1" x2="906.0" y2="1415.1" stroke="#3a3a3a" stroke-width="2.2" />
<text x="906.0" y="1469.6" font-size="30" text-anchor="middle" font-weight="bold" font-style="normal" fill="#000" >1</text>
<line x1="988.8" y1="1424.1" x2="988.8" y2="1415.1" stroke="#3a3a3a" stroke-width="2.2" />
<text x="988.8" y="1469.6" font-size="30" text-anchor="middle" font-weight="bold" font-style="normal" fill="#000" >2</text>
<line x1="1071.5" y1="1424.1" x2="1071.5" y2="1415.1" stroke="#3a3a3a" stroke-width="2.2" />
<text x="1071.5" y="1469.6" font-size="30" text-anchor="middle" font-weight="bold" font-style="normal" fill="#000" >3</text>
<line x1="1154.3" y1="1424.1" x2="1154.3" y2="1415.1" stroke="#3a3a3a" stroke-width="2.2" />
<text x="1154.3" y="1469.6" font-size="30" text-anchor="middle" font-weight="bold" font-style="normal" fill="#000" >4</text>
<line x1="1237.0" y1="1424.1" x2="1237.0" y2="1415.1" stroke="#3a3a3a" stroke-width="2.2" />
<text x="1237.0" y="1469.6" font-size="30" text-anchor="middle" font-weight="bold" font-style="normal" fill="#000" >5</text>
<line x1="1319.8" y1="1424.1" x2="1319.8" y2="1415.1" stroke="#3a3a3a" stroke-width="2.2" />
<text x="1319.8" y="1469.6" font-size="30" text-anchor="middle" font-weight="bold" font-style="normal" fill="#000" >6</text>
<text x="1021" y="1500.6" font-size="34" font-weight="bold"><tspan font-style="italic">X</tspan> (nm)</text>
<text transform="translate(704.0,1220.2) rotate(-90)" x="0" y="0" font-size="34" font-weight="bold" text-anchor="middle"><tspan font-style="italic">p</tspan><tspan font-size="24" dy="6">x</tspan><tspan dy="-6"> (atm)</tspan></text>
<line x1="1342.0" y1="1413.0" x2="1342.0" y2="1424.0" stroke="#444" stroke-width="1.6" />
<text x="1321" y="1029.3" font-size="51" font-weight="bold">(D<tspan dx="7">)</tspan></text>
<line x1="1482.1" y1="1007.4" x2="1491.1" y2="1007.4" stroke="#3a3a3a" stroke-width="2.2" />
<text x="1457.6" y="1017.7" font-size="30" text-anchor="end" font-weight="bold" font-style="normal" fill="#000" >0.9</text>
<line x1="1482.1" y1="1067.1" x2="1491.1" y2="1067.1" stroke="#3a3a3a" stroke-width="2.2" />
<text x="1457.6" y="1077.4" font-size="30" text-anchor="end" font-weight="bold" font-style="normal" fill="#000" >0.8</text>
<line x1="1482.1" y1="1126.7" x2="1491.1" y2="1126.7" stroke="#3a3a3a" stroke-width="2.2" />
<text x="1457.6" y="1137.0" font-size="30" text-anchor="end" font-weight="bold" font-style="normal" fill="#000" >0.7</text>
<line x1="1482.1" y1="1186.4" x2="1491.1" y2="1186.4" stroke="#3a3a3a" stroke-width="2.2" />
<text x="1457.6" y="1196.7" font-size="30" text-anchor="end" font-weight="bold" font-style="normal" fill="#000" >0.6</text>
<line x1="1482.1" y1="1246.1" x2="1491.1" y2="1246.1" stroke="#3a3a3a" stroke-width="2.2" />
<text x="1457.6" y="1256.4" font-size="30" text-anchor="end" font-weight="bold" font-style="normal" fill="#000" >0.5</text>
<line x1="1482.1" y1="1305.8" x2="1491.1" y2="1305.8" stroke="#3a3a3a" stroke-width="2.2" />
<text x="1457.6" y="1316.1" font-size="30" text-anchor="end" font-weight="bold" font-style="normal" fill="#000" >0.4</text>
<line x1="1482.1" y1="1365.4" x2="1491.1" y2="1365.4" stroke="#3a3a3a" stroke-width="2.2" />
<text x="1457.6" y="1375.7" font-size="30" text-anchor="end" font-weight="bold" font-style="normal" fill="#000" >0.3</text>
<line x1="1482.1" y1="1425.1" x2="1491.1" y2="1425.1" stroke="#3a3a3a" stroke-width="2.2" />
<text x="1457.6" y="1435.4" font-size="30" text-anchor="end" font-weight="bold" font-style="normal" fill="#000" >0.2</text>
<line x1="1482.1" y1="1425.1" x2="1482.1" y2="1416.1" stroke="#3a3a3a" stroke-width="2.2" />
<text x="1482.1" y="1469.6" font-size="30" text-anchor="middle" font-weight="bold" font-style="normal" fill="#000" >0</text>
<line x1="1565.1" y1="1425.1" x2="1565.1" y2="1416.1" stroke="#3a3a3a" stroke-width="2.2" />
<text x="1565.1" y="1469.6" font-size="30" text-anchor="middle" font-weight="bold" font-style="normal" fill="#000" >1</text>
<line x1="1648.2" y1="1425.1" x2="1648.2" y2="1416.1" stroke="#3a3a3a" stroke-width="2.2" />
<text x="1648.2" y="1469.6" font-size="30" text-anchor="middle" font-weight="bold" font-style="normal" fill="#000" >2</text>
<line x1="1731.2" y1="1425.1" x2="1731.2" y2="1416.1" stroke="#3a3a3a" stroke-width="2.2" />
<text x="1731.2" y="1469.6" font-size="30" text-anchor="middle" font-weight="bold" font-style="normal" fill="#000" >3</text>
<line x1="1814.2" y1="1425.1" x2="1814.2" y2="1416.1" stroke="#3a3a3a" stroke-width="2.2" />
<text x="1814.2" y="1469.6" font-size="30" text-anchor="middle" font-weight="bold" font-style="normal" fill="#000" >4</text>
<line x1="1897.3" y1="1425.1" x2="1897.3" y2="1416.1" stroke="#3a3a3a" stroke-width="2.2" />
<text x="1897.3" y="1469.6" font-size="30" text-anchor="middle" font-weight="bold" font-style="normal" fill="#000" >5</text>
<line x1="1980.3" y1="1425.1" x2="1980.3" y2="1416.1" stroke="#3a3a3a" stroke-width="2.2" />
<text x="1980.3" y="1469.6" font-size="30" text-anchor="middle" font-weight="bold" font-style="normal" fill="#000" >6</text>
<text x="1680.5" y="1500.8" font-size="34" font-weight="bold"><tspan font-style="italic">X</tspan> (nm)</text>
<text transform="translate(1385.0,1226.5) rotate(-90)" x="0" y="0" font-size="34.5" font-weight="bold" text-anchor="middle"><tspan font-style="italic">k</tspan><tspan font-size="26" dy="0">x</tspan> (kcal mol<tspan font-size="20" dy="-13">-1</tspan><tspan dy="13">)</tspan></text>
<line x1="1657.6" y1="1038.9" x2="1700.6" y2="1038.9" stroke="#002060" stroke-width="2.8" />
<text x="1703.6" y="1049.2" font-size="29.6" text-anchor="start" font-weight="bold" font-style="normal" fill="#000" >0.0 ps</text>
<line x1="1821.8" y1="1038.9" x2="1864.8" y2="1038.9" stroke="#7030a0" stroke-width="2.8" />
<text x="1867.8" y="1049.2" font-size="29.6" text-anchor="start" font-weight="bold" font-style="normal" fill="#000" >0.2 ps</text>
<line x1="1657.6" y1="1079.6" x2="1700.6" y2="1079.6" stroke="#0070c0" stroke-width="2.8" />
<text x="1703.6" y="1089.9" font-size="29.6" text-anchor="start" font-weight="bold" font-style="normal" fill="#000" >0.4 ps</text>
<line x1="1821.8" y1="1079.6" x2="1864.8" y2="1079.6" stroke="#00b0f0" stroke-width="2.8" />
<text x="1867.8" y="1089.9" font-size="29.6" text-anchor="start" font-weight="bold" font-style="normal" fill="#000" >0.6 ps</text>
<line x1="1657.6" y1="1120.3" x2="1700.6" y2="1120.3" stroke="#00b050" stroke-width="2.8" />
<text x="1703.6" y="1130.6" font-size="29.6" text-anchor="start" font-weight="bold" font-style="normal" fill="#000" >0.8 ps</text>
<line x1="1821.8" y1="1120.3" x2="1864.8" y2="1120.3" stroke="#92d050" stroke-width="2.8" />
<text x="1867.8" y="1130.6" font-size="29.6" text-anchor="start" font-weight="bold" font-style="normal" fill="#000" >1.0 ps</text>
<line x1="1657.6" y1="1161.0" x2="1700.6" y2="1161.0" stroke="#ffff00" stroke-width="2.8" />
<text x="1703.6" y="1171.3" font-size="29.6" text-anchor="start" font-weight="bold" font-style="normal" fill="#000" >1.2 ps</text>
<line x1="1821.8" y1="1161.0" x2="1864.8" y2="1161.0" stroke="#ffc000" stroke-width="2.8" />
<text x="1867.8" y="1171.3" font-size="29.6" text-anchor="start" font-weight="bold" font-style="normal" fill="#000" >1.4 ps</text>
<line x1="1657.6" y1="1201.7" x2="1700.6" y2="1201.7" stroke="#ff0000" stroke-width="2.8" />
<text x="1703.6" y="1212.0" font-size="29.6" text-anchor="start" font-weight="bold" font-style="normal" fill="#000" >1.6 ps</text>
<line x1="214.6" y1="1549.8" x2="214.6" y2="1961.3" stroke="#efefef" stroke-width="1.6" />
<line x1="238.8" y1="1549.8" x2="238.8" y2="1961.3" stroke="#efefef" stroke-width="1.6" />
<line x1="263.1" y1="1549.8" x2="263.1" y2="1961.3" stroke="#efefef" stroke-width="1.6" />
<line x1="287.4" y1="1549.8" x2="287.4" y2="1961.3" stroke="#efefef" stroke-width="1.6" />
<line x1="335.9" y1="1549.8" x2="335.9" y2="1961.3" stroke="#efefef" stroke-width="1.6" />
<line x1="360.2" y1="1549.8" x2="360.2" y2="1961.3" stroke="#efefef" stroke-width="1.6" />
<line x1="384.5" y1="1549.8" x2="384.5" y2="1961.3" stroke="#efefef" stroke-width="1.6" />
<line x1="408.7" y1="1549.8" x2="408.7" y2="1961.3" stroke="#efefef" stroke-width="1.6" />
<line x1="457.3" y1="1549.8" x2="457.3" y2="1961.3" stroke="#efefef" stroke-width="1.6" />
<line x1="481.5" y1="1549.8" x2="481.5" y2="1961.3" stroke="#efefef" stroke-width="1.6" />
<line x1="505.8" y1="1549.8" x2="505.8" y2="1961.3" stroke="#efefef" stroke-width="1.6" />
<line x1="530.1" y1="1549.8" x2="530.1" y2="1961.3" stroke="#efefef" stroke-width="1.6" />
<line x1="578.6" y1="1549.8" x2="578.6" y2="1961.3" stroke="#efefef" stroke-width="1.6" />
<line x1="602.9" y1="1549.8" x2="602.9" y2="1961.3" stroke="#efefef" stroke-width="1.6" />
<line x1="627.2" y1="1549.8" x2="627.2" y2="1961.3" stroke="#efefef" stroke-width="1.6" />
<line x1="651.4" y1="1549.8" x2="651.4" y2="1961.3" stroke="#efefef" stroke-width="1.6" />
<line x1="700.0" y1="1549.8" x2="700.0" y2="1961.3" stroke="#efefef" stroke-width="1.6" />
<line x1="724.2" y1="1549.8" x2="724.2" y2="1961.3" stroke="#efefef" stroke-width="1.6" />
<line x1="748.5" y1="1549.8" x2="748.5" y2="1961.3" stroke="#efefef" stroke-width="1.6" />
<line x1="772.8" y1="1549.8" x2="772.8" y2="1961.3" stroke="#efefef" stroke-width="1.6" />
<line x1="821.3" y1="1549.8" x2="821.3" y2="1961.3" stroke="#efefef" stroke-width="1.6" />
<line x1="845.6" y1="1549.8" x2="845.6" y2="1961.3" stroke="#efefef" stroke-width="1.6" />
<line x1="869.9" y1="1549.8" x2="869.9" y2="1961.3" stroke="#efefef" stroke-width="1.6" />
<line x1="894.1" y1="1549.8" x2="894.1" y2="1961.3" stroke="#efefef" stroke-width="1.6" />
<line x1="942.7" y1="1549.8" x2="942.7" y2="1961.3" stroke="#efefef" stroke-width="1.6" />
<line x1="966.9" y1="1549.8" x2="966.9" y2="1961.3" stroke="#efefef" stroke-width="1.6" />
<line x1="991.2" y1="1549.8" x2="991.2" y2="1961.3" stroke="#efefef" stroke-width="1.6" />
<line x1="1015.5" y1="1549.8" x2="1015.5" y2="1961.3" stroke="#efefef" stroke-width="1.6" />
<line x1="1064.0" y1="1549.8" x2="1064.0" y2="1961.3" stroke="#efefef" stroke-width="1.6" />
<line x1="1088.3" y1="1549.8" x2="1088.3" y2="1961.3" stroke="#efefef" stroke-width="1.6" />
<line x1="1112.6" y1="1549.8" x2="1112.6" y2="1961.3" stroke="#efefef" stroke-width="1.6" />
<line x1="1136.8" y1="1549.8" x2="1136.8" y2="1961.3" stroke="#efefef" stroke-width="1.6" />
<line x1="311.6" y1="1549.8" x2="311.6" y2="1961.3" stroke="#d9d9d9" stroke-width="1.7" />
<line x1="433.0" y1="1549.8" x2="433.0" y2="1961.3" stroke="#d9d9d9" stroke-width="1.7" />
<line x1="554.3" y1="1549.8" x2="554.3" y2="1961.3" stroke="#d9d9d9" stroke-width="1.7" />
<line x1="675.7" y1="1549.8" x2="675.7" y2="1961.3" stroke="#d9d9d9" stroke-width="1.7" />
<line x1="797.0" y1="1549.8" x2="797.0" y2="1961.3" stroke="#d9d9d9" stroke-width="1.7" />
<line x1="918.4" y1="1549.8" x2="918.4" y2="1961.3" stroke="#d9d9d9" stroke-width="1.7" />
<line x1="1039.8" y1="1549.8" x2="1039.8" y2="1961.3" stroke="#d9d9d9" stroke-width="1.7" />
<line x1="190.3" y1="1909.9" x2="1161.1" y2="1909.9" stroke="#d9d9d9" stroke-width="1.7" />
<line x1="190.3" y1="1858.4" x2="1161.1" y2="1858.4" stroke="#d9d9d9" stroke-width="1.7" />
<line x1="190.3" y1="1807.0" x2="1161.1" y2="1807.0" stroke="#d9d9d9" stroke-width="1.7" />
<line x1="190.3" y1="1755.5" x2="1161.1" y2="1755.5" stroke="#d9d9d9" stroke-width="1.7" />
<line x1="190.3" y1="1704.1" x2="1161.1" y2="1704.1" stroke="#d9d9d9" stroke-width="1.7" />
<line x1="190.3" y1="1652.7" x2="1161.1" y2="1652.7" stroke="#d9d9d9" stroke-width="1.7" />
<line x1="190.3" y1="1601.2" x2="1161.1" y2="1601.2" stroke="#d9d9d9" stroke-width="1.7" />
<text x="6.7" y="1566.0" font-size="51" text-anchor="start" font-weight="bold" font-style="normal" fill="#000" >(E)</text>
<text x="165.0" y="1560.1" font-size="30" text-anchor="end" font-weight="bold" font-style="normal" fill="#000" >1.2</text>
<text x="165.0" y="1611.5" font-size="30" text-anchor="end" font-weight="bold" font-style="normal" fill="#000" >1.15</text>
<text x="165.0" y="1663.0" font-size="30" text-anchor="end" font-weight="bold" font-style="normal" fill="#000" >1.1</text>
<text x="165.0" y="1714.4" font-size="30" text-anchor="end" font-weight="bold" font-style="normal" fill="#000" >1.05</text>
<text x="165.0" y="1765.8" font-size="30" text-anchor="end" font-weight="bold" font-style="normal" fill="#000" >1</text>
<text x="165.0" y="1817.3" font-size="30" text-anchor="end" font-weight="bold" font-style="normal" fill="#000" >0.95</text>
<text x="165.0" y="1868.7" font-size="30" text-anchor="end" font-weight="bold" font-style="normal" fill="#000" >0.9</text>
<text x="165.0" y="1920.2" font-size="30" text-anchor="end" font-weight="bold" font-style="normal" fill="#000" >0.85</text>
<text x="165.0" y="1971.6" font-size="30" text-anchor="end" font-weight="bold" font-style="normal" fill="#000" >0.8</text>
<text x="190.3" y="2006.5" font-size="30" text-anchor="middle" font-weight="bold" font-style="normal" fill="#000" >0</text>
<text x="311.6" y="2006.5" font-size="30" text-anchor="middle" font-weight="bold" font-style="normal" fill="#000" >1</text>
<text x="433.0" y="2006.5" font-size="30" text-anchor="middle" font-weight="bold" font-style="normal" fill="#000" >2</text>
<text x="554.3" y="2006.5" font-size="30" text-anchor="middle" font-weight="bold" font-style="normal" fill="#000" >3</text>
<text x="675.7" y="2006.5" font-size="30" text-anchor="middle" font-weight="bold" font-style="normal" fill="#000" >4</text>
<text x="797.0" y="2006.5" font-size="30" text-anchor="middle" font-weight="bold" font-style="normal" fill="#000" >5</text>
<text x="918.4" y="2006.5" font-size="30" text-anchor="middle" font-weight="bold" font-style="normal" fill="#000" >6</text>
<text x="1039.8" y="2006.5" font-size="30" text-anchor="middle" font-weight="bold" font-style="normal" fill="#000" >7</text>
<text x="1161.1" y="2006.5" font-size="30" text-anchor="middle" font-weight="bold" font-style="normal" fill="#000" >8</text>
<text x="516.0" y="2051.2" font-size="34" text-anchor="start" font-weight="bold" font-style="normal" fill="#000" >simulation time (ps)</text>
<text transform="translate(94.0,1755.7) rotate(-90)" x="0" y="0" font-size="34" font-weight="bold" text-anchor="middle">density (g ml<tspan font-size="20" dy="-13">-1</tspan><tspan dy="13">)</tspan></text>
<line x1="1444.4" y1="1549.0" x2="1444.4" y2="1960.7" stroke="#d9d9d9" stroke-width="1.7" />
<line x1="1518.8" y1="1549.0" x2="1518.8" y2="1960.7" stroke="#d9d9d9" stroke-width="1.7" />
<line x1="1593.2" y1="1549.0" x2="1593.2" y2="1960.7" stroke="#d9d9d9" stroke-width="1.7" />
<line x1="1667.6" y1="1549.0" x2="1667.6" y2="1960.7" stroke="#d9d9d9" stroke-width="1.7" />
<line x1="1742.0" y1="1549.0" x2="1742.0" y2="1960.7" stroke="#d9d9d9" stroke-width="1.7" />
<line x1="1816.4" y1="1549.0" x2="1816.4" y2="1960.7" stroke="#d9d9d9" stroke-width="1.7" />
<line x1="1890.8" y1="1549.0" x2="1890.8" y2="1960.7" stroke="#d9d9d9" stroke-width="1.7" />
<line x1="1370.0" y1="1909.2" x2="1965.2" y2="1909.2" stroke="#d9d9d9" stroke-width="1.7" />
<line x1="1370.0" y1="1857.8" x2="1965.2" y2="1857.8" stroke="#d9d9d9" stroke-width="1.7" />
<line x1="1370.0" y1="1806.3" x2="1965.2" y2="1806.3" stroke="#d9d9d9" stroke-width="1.7" />
<line x1="1370.0" y1="1754.8" x2="1965.2" y2="1754.8" stroke="#d9d9d9" stroke-width="1.7" />
<line x1="1370.0" y1="1703.4" x2="1965.2" y2="1703.4" stroke="#d9d9d9" stroke-width="1.7" />
<line x1="1370.0" y1="1651.9" x2="1965.2" y2="1651.9" stroke="#d9d9d9" stroke-width="1.7" />
<line x1="1370.0" y1="1600.5" x2="1965.2" y2="1600.5" stroke="#d9d9d9" stroke-width="1.7" />
<text x="1181" y="1564" font-size="51" font-weight="bold">(F<tspan dx="12">)</tspan></text>
<text x="1345.4" y="1559.3" font-size="30" text-anchor="end" font-weight="bold" font-style="normal" fill="#000" >3000</text>
<text x="1345.4" y="1610.8" font-size="30" text-anchor="end" font-weight="bold" font-style="normal" fill="#000" >2500</text>
<text x="1345.4" y="1662.2" font-size="30" text-anchor="end" font-weight="bold" font-style="normal" fill="#000" >2000</text>
<text x="1345.4" y="1713.7" font-size="30" text-anchor="end" font-weight="bold" font-style="normal" fill="#000" >1500</text>
<text x="1345.4" y="1765.1" font-size="30" text-anchor="end" font-weight="bold" font-style="normal" fill="#000" >1000</text>
<text x="1345.4" y="1816.6" font-size="30" text-anchor="end" font-weight="bold" font-style="normal" fill="#000" >500</text>
<text x="1345.4" y="1868.1" font-size="30" text-anchor="end" font-weight="bold" font-style="normal" fill="#000" >0</text>
<text x="1345.4" y="1919.5" font-size="30" text-anchor="end" font-weight="bold" font-style="normal" fill="#000" >-500</text>
<text x="1345.4" y="1971.0" font-size="30" text-anchor="end" font-weight="bold" font-style="normal" fill="#000" >-1000</text>
<text x="1370.0" y="2005.5" font-size="30" text-anchor="middle" font-weight="bold" font-style="normal" fill="#000" >0</text>
<text x="1444.4" y="2005.5" font-size="30" text-anchor="middle" font-weight="bold" font-style="normal" fill="#000" >1</text>
<text x="1518.8" y="2005.5" font-size="30" text-anchor="middle" font-weight="bold" font-style="normal" fill="#000" >2</text>
<text x="1593.2" y="2005.5" font-size="30" text-anchor="middle" font-weight="bold" font-style="normal" fill="#000" >3</text>
<text x="1667.6" y="2005.5" font-size="30" text-anchor="middle" font-weight="bold" font-style="normal" fill="#000" >4</text>
<text x="1742.0" y="2005.5" font-size="30" text-anchor="middle" font-weight="bold" font-style="normal" fill="#000" >5</text>
<text x="1816.4" y="2005.5" font-size="30" text-anchor="middle" font-weight="bold" font-style="normal" fill="#000" >6</text>
<text x="1890.8" y="2005.5" font-size="30" text-anchor="middle" font-weight="bold" font-style="normal" fill="#000" >7</text>
<text x="1965.2" y="2005.5" font-size="30" text-anchor="middle" font-weight="bold" font-style="normal" fill="#000" >8</text>
<text x="1506.8" y="2048.0" font-size="34" text-anchor="start" font-weight="bold" font-style="normal" fill="#000" >Simulation time (ps)</text>
<text transform="translate(1256.0,1756.0) rotate(-90)" x="0" y="0" font-size="34" font-weight="bold" text-anchor="middle"><tspan font-style="italic">p</tspan><tspan font-size="24" dy="6">x</tspan><tspan dy="-6"> (atm)</tspan></text>
<path d="M1369.6,1848.3 C1370.7,1848.7 1373.7,1850.9 1376.0,1851.0 C1378.3,1851.2 1381.4,1848.7 1383.4,1849.2 C1385.4,1849.7 1386.3,1852.1 1388.0,1853.8 C1389.6,1855.5 1391.5,1859.0 1393.5,1859.3 C1395.5,1859.6 1397.6,1857.8 1399.9,1855.6 C1402.2,1853.5 1405.2,1847.1 1407.2,1846.4 C1409.2,1845.8 1410.4,1850.3 1411.8,1852.0 C1413.2,1853.6 1414.1,1856.9 1415.5,1856.5 C1416.9,1856.2 1418.1,1851.9 1420.1,1850.1 C1422.1,1848.4 1425.4,1846.4 1427.4,1846.1 C1429.4,1845.8 1430.3,1847.0 1432.0,1848.3 C1433.7,1849.6 1435.5,1853.2 1437.5,1853.8 C1439.5,1854.4 1441.7,1852.1 1444.0,1852.0 C1446.3,1851.8 1448.9,1853.6 1451.3,1852.9 C1453.8,1852.1 1456.2,1848.5 1458.6,1847.4 C1461.1,1846.2 1463.2,1846.2 1466.0,1846.1 C1468.7,1845.9 1472.6,1846.7 1475.2,1846.4 C1477.8,1846.2 1479.8,1844.2 1481.6,1844.6 C1483.4,1845.1 1484.2,1848.0 1486.2,1849.2 C1488.2,1850.4 1491.4,1852.0 1493.5,1852.0 C1495.7,1852.0 1497.2,1851.2 1499.0,1849.2 C1500.9,1847.2 1502.4,1841.7 1504.6,1840.0 C1506.7,1838.3 1509.4,1839.3 1511.9,1839.1 C1514.3,1839.0 1516.8,1838.8 1519.2,1839.1 C1521.7,1839.4 1524.1,1839.7 1526.6,1840.9 C1529.0,1842.2 1531.6,1844.9 1533.9,1846.4 C1536.2,1848.0 1538.2,1850.6 1540.4,1850.1 C1542.5,1849.7 1545.1,1844.3 1546.8,1843.7 C1548.5,1843.1 1548.9,1844.3 1550.5,1846.4 C1552.0,1848.6 1554.4,1855.2 1556.0,1856.5 C1557.5,1857.9 1558.1,1855.5 1559.6,1854.7 C1561.2,1853.9 1563.0,1852.1 1565.1,1852.0 C1567.3,1851.8 1570.2,1852.6 1572.5,1853.8 C1574.8,1855.0 1576.8,1859.9 1578.9,1859.3 C1581.1,1858.7 1583.0,1852.7 1585.3,1850.1 C1587.6,1847.5 1590.2,1847.1 1592.7,1843.7 C1595.1,1840.3 1598.2,1832.4 1600.0,1829.9 C1601.9,1827.5 1602.2,1829.2 1603.7,1829.0 C1605.2,1828.9 1607.1,1831.1 1609.2,1829.0 C1611.4,1826.9 1614.4,1817.5 1616.6,1816.2 C1618.7,1814.8 1620.2,1817.5 1622.1,1820.7 C1623.9,1824.0 1626.0,1831.1 1627.6,1835.4 C1629.1,1839.7 1629.4,1845.7 1631.3,1846.4 C1633.1,1847.2 1636.5,1839.7 1638.6,1840.0 C1640.7,1840.3 1642.4,1845.1 1644.1,1848.3 C1645.8,1851.5 1647.2,1856.9 1648.7,1859.3 C1650.2,1861.8 1651.6,1863.9 1653.3,1863.0 C1655.0,1862.1 1657.1,1855.6 1658.8,1853.8 C1660.5,1852.0 1662.2,1852.2 1663.7,1852.0 C1665.1,1851.8 1665.5,1853.6 1667.3,1852.4 C1669.2,1851.2 1672.5,1847.5 1674.7,1844.7 C1676.8,1841.8 1678.5,1837.3 1680.2,1835.5 C1681.9,1833.6 1683.3,1833.3 1684.8,1833.6 C1686.3,1834.0 1687.9,1834.6 1689.4,1837.3 C1690.9,1840.1 1692.4,1846.5 1694.0,1850.2 C1695.5,1853.8 1696.9,1857.4 1698.6,1859.4 C1700.3,1861.3 1702.4,1860.9 1704.1,1862.1 C1705.8,1863.3 1707.0,1864.9 1708.7,1866.7 C1710.4,1868.5 1712.5,1871.6 1714.2,1873.1 C1715.9,1874.7 1717.2,1876.7 1718.8,1875.9 C1720.3,1875.1 1721.8,1871.9 1723.4,1868.5 C1724.9,1865.2 1726.3,1858.7 1728.0,1855.7 C1729.6,1852.6 1731.3,1851.9 1733.5,1850.2 C1735.6,1848.5 1738.7,1847.0 1740.8,1845.6 C1743.0,1844.2 1744.6,1843.0 1746.3,1841.9 C1748.0,1840.8 1749.1,1839.0 1750.9,1839.2 C1752.7,1839.3 1755.3,1841.6 1757.3,1842.8 C1759.3,1844.1 1760.7,1845.6 1762.8,1846.5 C1765.0,1847.4 1767.6,1848.2 1770.2,1848.3 C1772.8,1848.5 1776.3,1846.8 1778.5,1847.4 C1780.6,1848.0 1781.4,1850.5 1783.0,1852.0 C1784.7,1853.5 1785.8,1855.9 1788.6,1856.6 C1791.3,1857.3 1797.1,1856.5 1799.6,1856.1 C1802.0,1855.6 1801.7,1855.6 1803.3,1853.8 C1804.8,1852.1 1806.9,1847.3 1808.8,1845.6 C1810.6,1843.9 1811.5,1844.1 1814.3,1843.7 C1817.0,1843.4 1822.5,1844.2 1825.3,1843.7 C1828.0,1843.3 1829.1,1840.2 1830.8,1841.0 C1832.5,1841.8 1833.9,1846.8 1835.4,1848.3 C1836.9,1849.9 1838.0,1851.1 1840.0,1850.2 C1842.0,1849.3 1844.9,1844.7 1847.3,1842.8 C1849.8,1841.0 1852.2,1839.6 1854.7,1839.2 C1857.1,1838.7 1859.9,1840.8 1862.0,1840.1 C1864.2,1839.3 1865.7,1834.4 1867.5,1834.6 C1869.4,1834.7 1871.2,1838.8 1873.0,1841.0 C1874.9,1843.1 1876.7,1846.5 1878.5,1847.4 C1880.4,1848.3 1882.2,1847.4 1884.1,1846.5 C1885.9,1845.6 1887.4,1843.0 1889.6,1841.9 C1891.7,1840.8 1894.8,1841.5 1896.9,1840.1 C1899.1,1838.7 1900.6,1835.6 1902.4,1833.6 C1904.3,1831.7 1905.8,1829.2 1907.9,1828.1 C1910.1,1827.1 1912.8,1827.1 1915.3,1827.2 C1917.7,1827.4 1920.2,1828.3 1922.6,1829.1 C1925.1,1829.8 1927.8,1831.5 1930.0,1831.8 C1932.1,1832.1 1933.6,1830.7 1935.5,1830.9 C1937.3,1831.0 1939.2,1831.3 1941.0,1832.7 C1942.8,1834.1 1944.7,1836.6 1946.5,1839.2 C1948.3,1841.8 1949.9,1846.0 1952.0,1848.3 C1954.2,1850.6 1957.2,1852.1 1959.4,1852.9 C1961.5,1853.8 1963.9,1853.4 1964.9,1853.5" fill="none" stroke="#000" stroke-width="3.0" stroke-linejoin="round" stroke-linecap="round"/>
<path d="M1369.6,1843.7 C1370.7,1839.9 1373.7,1828.2 1376.0,1820.7 C1378.3,1813.2 1381.5,1806.1 1383.4,1798.7 C1385.2,1791.4 1386.0,1787.4 1387.0,1776.7 C1388.1,1766.0 1388.9,1749.1 1389.8,1734.4 C1390.7,1719.8 1391.5,1700.5 1392.5,1688.5 C1393.6,1676.6 1394.7,1672.3 1396.2,1662.8 C1397.7,1653.3 1400.0,1641.7 1401.7,1631.6 C1403.4,1621.5 1405.1,1607.7 1406.3,1602.2 C1407.5,1596.8 1408.0,1598.3 1409.1,1598.9 C1410.1,1599.5 1411.5,1602.3 1412.7,1605.9 C1414.0,1609.5 1415.2,1611.1 1416.4,1620.6 C1417.6,1630.1 1418.9,1649.7 1420.1,1662.8 C1421.3,1676.0 1422.4,1687.6 1423.8,1699.6 C1425.1,1711.5 1426.8,1722.5 1428.3,1734.4 C1429.9,1746.4 1431.6,1760.8 1432.9,1771.2 C1434.3,1781.6 1435.4,1791.4 1436.6,1796.9 C1437.8,1802.4 1438.4,1801.2 1440.3,1804.2 C1442.1,1807.3 1445.5,1812.2 1447.6,1815.2 C1449.8,1818.3 1451.1,1819.8 1453.1,1822.6 C1455.1,1825.3 1457.9,1827.8 1459.6,1831.8 C1461.2,1835.7 1461.9,1840.9 1463.2,1846.4 C1464.6,1852.0 1466.1,1858.7 1467.8,1864.8 C1469.5,1870.9 1471.5,1877.4 1473.3,1883.2 C1475.2,1889.0 1477.2,1895.0 1478.8,1899.7 C1480.5,1904.4 1481.9,1910.7 1483.4,1911.6 C1485.0,1912.6 1486.3,1908.7 1488.0,1905.2 C1489.7,1901.7 1491.7,1896.0 1493.5,1890.5 C1495.4,1885.0 1497.2,1881.3 1499.0,1872.2 C1500.9,1863.0 1503.0,1849.2 1504.6,1835.4 C1506.1,1821.7 1507.0,1804.8 1508.2,1789.5 C1509.4,1774.2 1510.7,1758.9 1511.9,1743.6 C1513.1,1728.3 1514.0,1711.5 1515.6,1697.7 C1517.1,1683.9 1519.2,1670.8 1521.1,1661.0 C1522.9,1651.2 1524.6,1643.9 1526.6,1639.0 C1528.6,1634.1 1531.2,1631.6 1533.0,1631.6 C1534.8,1631.6 1535.9,1634.1 1537.6,1639.0 C1539.3,1643.9 1541.3,1652.7 1543.1,1661.0 C1544.9,1669.3 1546.8,1677.2 1548.6,1688.5 C1550.5,1699.9 1552.3,1716.1 1554.1,1728.9 C1556.0,1741.8 1557.8,1754.0 1559.6,1765.7 C1561.5,1777.3 1563.3,1788.6 1565.1,1798.7 C1567.0,1808.8 1568.5,1817.7 1570.7,1826.3 C1572.8,1834.8 1575.6,1842.5 1578.0,1850.1 C1580.4,1857.8 1582.9,1867.3 1585.3,1872.2 C1587.8,1877.1 1590.5,1877.4 1592.7,1879.5 C1594.8,1881.6 1596.4,1883.3 1598.2,1885.0 C1600.0,1886.7 1601.9,1888.7 1603.7,1889.6 C1605.5,1890.5 1607.4,1891.0 1609.2,1890.5 C1611.1,1890.1 1612.9,1893.0 1614.7,1886.8 C1616.6,1880.7 1618.4,1868.5 1620.2,1853.8 C1622.1,1839.1 1623.9,1811.6 1625.7,1798.7 C1627.6,1785.9 1629.4,1783.1 1631.3,1776.7 C1633.1,1770.2 1635.2,1766.3 1636.8,1760.1 C1638.3,1754.0 1639.2,1746.7 1640.4,1739.9 C1641.7,1733.2 1643.0,1724.3 1644.1,1719.8 C1645.2,1715.2 1645.6,1712.4 1646.9,1712.4 C1648.1,1712.4 1649.8,1716.1 1651.4,1719.8 C1653.1,1723.4 1655.4,1729.8 1657.0,1734.4 C1658.5,1739.0 1659.5,1744.8 1660.6,1747.3 C1661.7,1749.7 1662.6,1748.2 1663.7,1749.2 C1664.8,1750.1 1666.1,1750.1 1667.3,1752.8 C1668.6,1755.6 1669.6,1760.5 1671.0,1765.7 C1672.4,1770.9 1673.8,1779.2 1675.6,1784.1 C1677.4,1789.0 1680.4,1790.2 1682.0,1795.1 C1683.7,1800.0 1684.3,1806.7 1685.7,1813.4 C1687.1,1820.2 1688.5,1828.1 1690.3,1835.5 C1692.1,1842.8 1694.4,1850.2 1696.7,1857.5 C1699.0,1864.9 1701.9,1873.1 1704.1,1879.6 C1706.2,1886.0 1708.1,1891.3 1709.6,1896.1 C1711.1,1900.8 1711.7,1905.7 1713.3,1908.0 C1714.8,1910.3 1716.6,1909.1 1718.8,1909.9 C1720.9,1910.6 1724.0,1913.7 1726.1,1912.6 C1728.3,1911.5 1729.8,1908.6 1731.6,1903.4 C1733.5,1898.2 1735.6,1889.7 1737.1,1881.4 C1738.7,1873.1 1739.6,1863.0 1740.8,1853.8 C1742.0,1844.7 1743.0,1837.0 1744.5,1826.3 C1746.0,1815.6 1748.2,1801.8 1750.0,1789.6 C1751.8,1777.3 1753.7,1762.9 1755.5,1752.8 C1757.3,1742.7 1759.2,1734.3 1761.0,1729.0 C1762.8,1723.6 1764.4,1721.8 1766.5,1720.7 C1768.7,1719.6 1771.7,1721.3 1773.9,1722.5 C1776.0,1723.8 1777.8,1724.5 1779.4,1728.0 C1780.9,1731.6 1781.8,1737.4 1783.0,1743.7 C1784.3,1749.9 1785.5,1759.0 1786.7,1765.7 C1787.9,1772.4 1789.0,1778.2 1790.4,1784.1 C1791.8,1789.9 1793.1,1796.9 1795.0,1800.6 C1796.8,1804.3 1799.4,1802.7 1801.4,1806.1 C1803.4,1809.5 1805.4,1817.1 1806.9,1820.8 C1808.5,1824.5 1809.1,1825.7 1810.6,1828.1 C1812.1,1830.6 1814.3,1831.2 1816.1,1835.5 C1817.9,1839.8 1819.8,1847.7 1821.6,1853.8 C1823.5,1860.0 1825.3,1866.1 1827.1,1872.2 C1829.0,1878.3 1830.8,1884.5 1832.6,1890.6 C1834.5,1896.7 1836.3,1904.4 1838.1,1908.9 C1840.0,1913.5 1841.5,1917.5 1843.7,1918.1 C1845.8,1918.7 1848.9,1916.6 1851.0,1912.6 C1853.1,1908.6 1854.7,1904.0 1856.5,1894.3 C1858.3,1884.5 1860.2,1869.8 1862.0,1853.8 C1863.9,1837.9 1865.7,1817.1 1867.5,1798.8 C1869.4,1780.4 1871.2,1760.2 1873.0,1743.7 C1874.9,1727.1 1876.7,1712.4 1878.5,1699.6 C1880.4,1686.7 1882.1,1674.3 1884.1,1666.5 C1886.0,1658.7 1888.3,1651.8 1890.5,1652.7 C1892.6,1653.7 1894.6,1665.1 1896.9,1672.0 C1899.2,1678.9 1902.1,1685.2 1904.3,1694.1 C1906.4,1702.9 1907.9,1712.4 1909.8,1725.3 C1911.6,1738.1 1913.4,1755.9 1915.3,1771.2 C1917.1,1786.5 1918.6,1803.3 1920.8,1817.1 C1922.9,1830.9 1925.7,1843.4 1928.1,1853.8 C1930.6,1864.3 1933.0,1874.0 1935.5,1879.6 C1937.9,1885.1 1940.4,1884.8 1942.8,1886.9 C1945.3,1889.0 1947.7,1890.9 1950.2,1892.4 C1952.6,1893.9 1955.1,1897.2 1957.5,1896.1 C1960.0,1895.0 1963.6,1887.7 1964.9,1886.0" fill="none" stroke="#4472c4" stroke-width="3.0" stroke-linejoin="round" stroke-linecap="round"/>
<line x1="1466.5" y1="1574.1" x2="1507.6" y2="1574.1" stroke="#000" stroke-width="3" />
<line x1="1466.5" y1="1610.0" x2="1507.6" y2="1610.0" stroke="#4472c4" stroke-width="3" />
<text x="1513.2" y="1583.3" font-size="25.4" text-anchor="start" font-weight="bold" font-style="normal" fill="#000" >Conventional MD (at 2nm)</text>
<text x="1513.2" y="1619.2" font-size="25.4" text-anchor="start" font-weight="bold" font-style="normal" fill="#000" >Hypersound-perturbed MD (at 2nm)</text>
<text x="1474.3" y="1740.8" font-size="23" text-anchor="start" font-weight="bold" font-style="normal" fill="#000" >(d)</text>
<line x1="1370.0" y1="1600.5" x2="1380.0" y2="1600.5" stroke="#3a3a3a" stroke-width="2.2" />
<line x1="1370.0" y1="1651.9" x2="1380.0" y2="1651.9" stroke="#3a3a3a" stroke-width="2.2" />
<line x1="1370.0" y1="1703.4" x2="1380.0" y2="1703.4" stroke="#3a3a3a" stroke-width="2.2" />
<line x1="1370.0" y1="1754.8" x2="1380.0" y2="1754.8" stroke="#3a3a3a" stroke-width="2.2" />
<line x1="1370.0" y1="1806.3" x2="1380.0" y2="1806.3" stroke="#3a3a3a" stroke-width="2.2" />
<line x1="1370.0" y1="1857.8" x2="1380.0" y2="1857.8" stroke="#3a3a3a" stroke-width="2.2" />
<line x1="1370.0" y1="1909.2" x2="1380.0" y2="1909.2" stroke="#3a3a3a" stroke-width="2.2" />
<path d="M190.2,1785.5 C191.6,1785.3 196.2,1785.7 198.7,1784.1 C201.3,1782.5 203.3,1778.6 205.6,1775.9 C207.9,1773.1 210.2,1771.3 212.5,1767.7 C214.8,1764.0 217.1,1757.6 219.4,1753.9 C221.6,1750.2 224.2,1746.6 226.2,1745.7 C228.3,1744.7 229.9,1746.8 231.7,1748.4 C233.6,1750.0 235.2,1753.8 237.2,1755.3 C239.3,1756.8 241.8,1757.3 244.1,1757.3 C246.4,1757.3 248.4,1757.0 251.0,1755.3 C253.5,1753.6 256.5,1748.9 259.2,1747.0 C262.0,1745.2 264.7,1744.5 267.5,1744.3 C270.2,1744.1 272.9,1744.3 275.7,1745.7 C278.4,1747.0 281.2,1750.0 283.9,1752.5 C286.7,1755.1 289.7,1758.5 292.2,1760.8 C294.7,1763.1 296.8,1766.3 299.1,1766.3 C301.3,1766.3 303.6,1762.6 305.9,1760.8 C308.2,1758.9 310.3,1756.2 312.8,1755.3 C315.3,1754.4 318.5,1754.6 321.0,1755.3 C323.6,1756.0 325.6,1757.7 327.9,1759.4 C330.2,1761.1 332.3,1764.4 334.8,1765.6 C337.3,1766.7 340.5,1766.3 343.0,1766.3 C345.6,1766.3 347.4,1765.6 349.9,1765.6 C352.4,1765.6 355.9,1765.0 358.1,1766.3 C360.4,1767.5 361.8,1770.4 363.6,1773.1 C365.5,1775.9 367.3,1780.5 369.1,1782.8 C371.0,1785.1 372.3,1787.8 374.6,1786.9 C376.9,1786.0 380.4,1778.0 382.9,1777.3 C385.4,1776.6 387.5,1781.2 389.8,1782.8 C392.0,1784.4 394.3,1787.1 396.6,1786.9 C398.9,1786.7 401.4,1783.1 403.5,1781.4 C405.6,1779.7 406.7,1777.4 409.0,1776.6 C411.3,1775.8 414.5,1776.5 417.2,1776.6 C420.0,1776.7 423.0,1777.4 425.5,1777.3 C428.0,1777.2 430.1,1778.2 432.4,1775.9 C434.6,1773.6 438.0,1765.6 439.2,1763.5 C440.5,1761.4 438.8,1764.2 440.0,1763.3 C441.2,1762.3 444.4,1756.4 446.4,1757.8 C448.4,1759.2 450.1,1768.5 451.9,1771.5 C453.8,1774.6 455.8,1776.9 457.5,1776.1 C459.1,1775.4 460.1,1770.3 462.0,1767.0 C464.0,1763.6 466.2,1756.1 469.4,1755.9 C472.6,1755.8 477.0,1766.3 481.3,1766.0 C485.6,1765.7 492.0,1756.7 495.1,1754.1 C498.2,1751.5 498.3,1751.9 500.0,1750.5 C501.7,1749.2 503.7,1745.7 505.5,1745.7 C507.3,1745.7 509.0,1748.8 511.0,1750.5 C512.9,1752.3 515.3,1756.0 517.2,1756.0 C519.0,1756.0 520.3,1753.3 522.0,1750.5 C523.7,1747.8 525.4,1742.4 527.5,1739.6 C529.5,1736.7 531.8,1734.1 534.4,1733.4 C536.9,1732.7 540.1,1733.9 542.6,1735.4 C545.1,1736.9 547.5,1740.6 549.5,1742.3 C551.4,1744.0 552.4,1746.0 554.3,1745.7 C556.1,1745.5 558.3,1742.8 560.5,1740.9 C562.6,1739.1 564.8,1735.7 567.3,1734.7 C569.9,1733.8 571.9,1735.2 575.6,1735.4 C579.2,1735.7 585.0,1736.2 589.3,1736.1 C593.7,1736.0 598.5,1734.2 601.7,1734.7 C604.9,1735.3 606.3,1737.7 608.6,1739.6 C610.9,1741.4 612.9,1744.7 615.4,1745.7 C618.0,1746.8 620.9,1746.0 623.7,1745.7 C626.4,1745.5 629.6,1744.5 631.9,1744.4 C634.2,1744.2 635.6,1743.8 637.4,1745.1 C639.3,1746.3 641.3,1749.2 642.9,1751.9 C644.5,1754.7 645.7,1759.1 647.0,1761.5 C648.4,1763.9 649.6,1766.8 651.2,1766.4 C652.8,1765.9 654.8,1762.1 656.7,1758.8 C658.5,1755.5 660.1,1749.6 662.2,1746.4 C664.2,1743.2 666.7,1741.3 669.0,1739.6 C671.3,1737.8 673.6,1735.9 675.9,1736.1 C678.2,1736.3 680.5,1739.0 682.8,1740.9 C685.1,1742.9 687.1,1745.5 689.6,1747.8 C692.2,1750.1 695.1,1753.1 697.9,1754.7 C700.6,1756.3 703.6,1757.3 706.1,1757.4 C708.6,1757.5 710.7,1757.1 713.0,1755.4 C715.3,1753.6 717.8,1748.7 719.9,1747.1 C721.9,1745.5 723.3,1745.1 725.4,1745.7 C727.4,1746.4 729.9,1749.1 732.2,1751.2 C734.5,1753.4 736.8,1756.5 739.1,1758.8 C741.4,1761.1 743.7,1763.5 746.0,1765.0 C748.3,1766.5 751.3,1767.4 752.9,1767.7 C754.4,1768.1 753.7,1767.8 755.5,1767.0 C757.3,1766.2 761.2,1764.6 763.7,1762.9 C766.3,1761.2 768.3,1758.0 770.6,1756.7 C772.9,1755.5 775.0,1755.4 777.5,1755.4 C780.0,1755.4 783.0,1756.7 785.7,1756.7 C788.5,1756.7 791.7,1755.1 794.0,1755.4 C796.3,1755.6 797.6,1756.6 799.5,1758.1 C801.3,1759.6 803.4,1762.9 805.0,1764.3 C806.6,1765.7 807.5,1767.0 809.1,1766.4 C810.7,1765.7 812.8,1761.9 814.6,1760.2 C816.4,1758.4 818.3,1755.4 820.1,1756.0 C821.9,1756.7 823.7,1761.3 825.6,1764.3 C827.4,1767.3 829.0,1771.7 831.1,1773.9 C833.1,1776.1 835.4,1777.0 837.9,1777.3 C840.5,1777.7 842.5,1776.2 846.2,1776.0 C849.9,1775.7 855.8,1775.9 859.9,1776.0 C864.1,1776.1 867.5,1776.5 870.9,1776.7 C874.4,1776.8 877.8,1777.6 880.5,1776.7 C883.3,1775.7 885.1,1773.0 887.4,1771.2 C889.7,1769.3 892.2,1766.6 894.3,1765.7 C896.4,1764.7 897.7,1765.7 899.8,1765.7 C901.8,1765.7 904.4,1766.8 906.7,1765.7 C908.9,1764.5 911.6,1760.4 913.5,1758.8 C915.5,1757.2 916.5,1755.6 918.3,1756.0 C920.2,1756.5 922.6,1759.7 924.5,1761.5 C926.5,1763.4 927.5,1766.2 930.0,1767.0 C932.5,1767.8 937.1,1766.0 939.6,1766.4 C942.2,1766.7 943.1,1767.7 945.1,1769.1 C947.2,1770.5 949.5,1773.1 952.0,1774.6 C954.5,1776.1 958.0,1777.9 960.3,1778.0 C962.5,1778.2 963.7,1777.5 965.5,1775.4 C967.4,1773.3 969.4,1768.4 971.1,1765.4 C972.8,1762.4 974.1,1759.3 975.5,1757.6 C977.0,1756.0 978.3,1754.9 980.0,1755.4 C981.6,1756.0 983.5,1758.7 985.5,1761.0 C987.6,1763.2 990.2,1766.5 992.2,1768.7 C994.2,1770.9 995.9,1773.1 997.7,1774.3 C999.6,1775.5 1001.4,1776.3 1003.3,1775.9 C1005.1,1775.6 1007.0,1773.8 1008.8,1772.1 C1010.7,1770.3 1012.5,1768.2 1014.4,1765.4 C1016.2,1762.6 1018.3,1758.4 1019.9,1755.4 C1021.6,1752.4 1022.9,1749.3 1024.4,1747.6 C1025.9,1746.0 1027.3,1745.2 1028.8,1745.4 C1030.3,1745.6 1031.8,1747.3 1033.3,1748.7 C1034.7,1750.2 1035.8,1752.4 1037.7,1754.3 C1039.5,1756.1 1042.1,1758.0 1044.4,1759.8 C1046.6,1761.7 1048.8,1764.1 1051.0,1765.4 C1053.2,1766.7 1055.4,1767.6 1057.7,1767.6 C1059.9,1767.6 1062.3,1767.1 1064.3,1765.4 C1066.4,1763.7 1068.2,1759.3 1069.9,1757.6 C1071.5,1756.0 1072.8,1754.9 1074.3,1755.4 C1075.8,1756.0 1077.3,1757.3 1078.8,1761.0 C1080.2,1764.7 1081.5,1773.3 1083.2,1777.6 C1084.9,1781.9 1087.1,1786.1 1088.7,1786.5 C1090.4,1786.9 1091.5,1783.2 1093.2,1779.8 C1094.9,1776.5 1096.9,1769.5 1098.7,1766.5 C1100.6,1763.5 1102.2,1763.5 1104.3,1762.1 C1106.3,1760.6 1108.9,1759.3 1110.9,1757.6 C1113.0,1756.0 1115.0,1753.7 1116.5,1752.1 C1118.0,1750.4 1118.5,1748.7 1119.8,1747.6 C1121.1,1746.5 1122.8,1745.0 1124.3,1745.4 C1125.7,1745.8 1127.2,1747.5 1128.7,1749.9 C1130.2,1752.3 1131.3,1756.9 1133.1,1759.8 C1135.0,1762.8 1137.2,1764.8 1139.8,1767.6 C1142.4,1770.4 1147.2,1775.0 1148.7,1776.5" fill="none" stroke="#000" stroke-width="3.0" stroke-linejoin="round" stroke-linecap="round"/>
<path d="M190.2,1786.9 C191.6,1787.3 196.4,1789.9 198.7,1789.6 C201.1,1789.4 202.4,1788.5 204.2,1785.5 C206.1,1782.5 207.9,1776.8 209.7,1771.8 C211.6,1766.7 213.4,1759.4 215.2,1755.3 C217.1,1751.2 218.9,1750.2 220.7,1747.0 C222.6,1743.8 224.6,1739.9 226.2,1736.0 C227.8,1732.2 229.0,1728.0 230.3,1723.7 C231.7,1719.3 232.9,1715.7 234.5,1709.9 C236.1,1704.2 238.1,1695.7 240.0,1689.3 C241.8,1682.9 243.6,1677.4 245.5,1671.5 C247.3,1665.5 249.1,1659.1 251.0,1653.6 C252.8,1648.1 254.6,1643.1 256.5,1638.5 C258.3,1633.9 260.1,1629.8 262.0,1626.1 C263.8,1622.4 265.4,1618.9 267.5,1616.5 C269.5,1614.1 272.0,1612.1 274.3,1611.7 C276.6,1611.2 278.9,1612.0 281.2,1613.7 C283.5,1615.5 285.8,1619.0 288.1,1622.0 C290.4,1625.0 292.6,1627.9 294.9,1631.6 C297.2,1635.3 299.7,1639.6 301.8,1644.0 C303.9,1648.3 305.5,1653.1 307.3,1657.7 C309.1,1662.3 310.7,1666.4 312.8,1671.5 C314.9,1676.5 317.6,1682.5 319.7,1687.9 C321.7,1693.4 323.3,1699.9 325.2,1704.4 C327.0,1709.0 328.8,1711.8 330.7,1715.4 C332.5,1719.1 334.3,1722.5 336.2,1726.4 C338.0,1730.3 339.8,1734.4 341.7,1738.8 C343.5,1743.1 345.3,1747.5 347.2,1752.5 C349.0,1757.6 350.8,1763.8 352.7,1769.0 C354.5,1774.3 356.3,1780.2 358.1,1784.1 C360.0,1788.0 361.6,1790.3 363.6,1792.4 C365.7,1794.4 368.3,1795.1 370.5,1796.5 C372.7,1797.9 374.4,1799.7 376.7,1800.6 C379.0,1801.5 381.6,1802.5 384.3,1802.0 C386.9,1801.5 390.0,1799.3 392.5,1797.9 C395.0,1796.5 396.9,1795.4 399.4,1793.8 C401.9,1792.2 404.4,1790.3 407.6,1788.3 C410.8,1786.2 415.4,1783.9 418.6,1781.4 C421.8,1778.9 424.6,1776.1 426.9,1773.1 C429.1,1770.2 430.8,1768.3 432.4,1763.5 C434.0,1758.7 435.2,1750.6 436.5,1744.3 C437.8,1738.0 438.8,1733.2 440.0,1725.6 C441.2,1718.1 442.1,1706.8 443.7,1699.0 C445.2,1691.2 446.7,1685.2 449.2,1678.8 C451.6,1672.4 455.3,1664.7 458.4,1660.4 C461.4,1656.1 464.8,1654.6 467.6,1653.1 C470.3,1651.5 472.1,1650.9 474.9,1651.2 C477.7,1651.5 480.7,1652.5 484.1,1654.9 C487.5,1657.4 492.5,1663.3 495.1,1665.9 C497.8,1668.6 498.0,1667.7 500.0,1670.8 C502.0,1674.0 504.6,1679.3 506.9,1684.6 C509.2,1689.9 511.7,1697.2 513.7,1702.5 C515.8,1707.7 516.9,1711.6 519.2,1716.2 C521.5,1720.8 524.7,1725.4 527.5,1729.9 C530.2,1734.5 533.2,1739.1 535.7,1743.7 C538.2,1748.3 540.5,1752.8 542.6,1757.4 C544.7,1762.0 546.3,1766.6 548.1,1771.2 C549.9,1775.7 551.8,1781.5 553.6,1784.9 C555.4,1788.3 557.0,1789.7 559.1,1791.8 C561.2,1793.8 563.4,1795.2 566.0,1797.3 C568.5,1799.3 571.5,1802.2 574.2,1804.1 C577.0,1806.1 579.9,1808.3 582.5,1809.0 C585.0,1809.6 587.0,1810.4 589.3,1808.3 C591.6,1806.1 593.9,1799.6 596.2,1795.9 C598.5,1792.2 600.8,1786.7 603.1,1786.3 C605.4,1785.8 607.9,1791.3 609.9,1793.1 C612.0,1795.0 613.1,1797.5 615.4,1797.3 C617.7,1797.0 621.2,1794.5 623.7,1791.8 C626.2,1789.0 628.3,1785.6 630.5,1780.8 C632.8,1776.0 635.4,1769.6 637.4,1762.9 C639.5,1756.3 641.3,1748.3 642.9,1740.9 C644.5,1733.6 645.7,1725.4 647.0,1718.9 C648.4,1712.5 649.3,1708.2 651.2,1702.5 C653.0,1696.7 655.7,1689.9 658.0,1684.6 C660.3,1679.3 662.6,1675.2 664.9,1670.8 C667.2,1666.5 669.7,1661.7 671.8,1658.5 C673.8,1655.3 675.2,1652.7 677.3,1651.6 C679.3,1650.5 681.6,1651.2 684.1,1651.9 C686.7,1652.6 689.9,1653.9 692.4,1655.7 C694.9,1657.5 697.0,1658.9 699.3,1662.6 C701.5,1666.3 704.1,1672.4 706.1,1677.7 C708.2,1683.0 709.8,1689.9 711.6,1694.2 C713.5,1698.6 715.3,1700.6 717.1,1703.8 C719.0,1707.0 720.8,1709.1 722.6,1713.4 C724.5,1717.8 726.3,1723.8 728.1,1729.9 C729.9,1736.1 731.8,1745.1 733.6,1750.5 C735.4,1756.0 737.3,1759.5 739.1,1762.9 C740.9,1766.4 742.9,1768.8 744.6,1771.2 C746.3,1773.6 747.8,1777.1 749.4,1777.3 C751.0,1777.6 753.2,1773.6 754.2,1772.5 C755.2,1771.5 754.4,1772.2 755.5,1771.2 C756.6,1770.1 758.5,1767.2 761.0,1766.4 C763.5,1765.5 766.7,1766.4 770.6,1766.4 C774.5,1766.4 780.5,1766.0 784.4,1766.4 C788.2,1766.7 791.5,1768.8 794.0,1768.4 C796.5,1768.1 797.6,1767.0 799.5,1764.3 C801.3,1761.5 803.1,1755.4 805.0,1751.9 C806.8,1748.5 808.2,1747.1 810.5,1743.7 C812.8,1740.2 816.4,1735.9 818.7,1731.3 C821.0,1726.7 822.6,1721.5 824.2,1716.2 C825.8,1710.9 827.0,1705.0 828.3,1699.7 C829.7,1694.4 830.8,1688.0 832.5,1684.6 C834.1,1681.2 835.9,1680.7 837.9,1679.1 C840.0,1677.5 843.0,1677.5 844.8,1675.0 C846.7,1672.4 847.6,1668.3 848.9,1664.0 C850.3,1659.6 851.5,1652.5 853.1,1648.9 C854.7,1645.2 857.0,1642.7 858.6,1642.0 C860.2,1641.3 861.1,1643.0 862.7,1644.7 C864.3,1646.5 866.3,1650.8 868.2,1652.3 C870.0,1653.8 871.6,1653.6 873.7,1653.7 C875.7,1653.8 878.3,1652.4 880.5,1653.0 C882.8,1653.6 884.9,1654.8 887.4,1657.1 C889.9,1659.4 892.9,1662.8 895.7,1666.7 C898.4,1670.6 901.4,1675.4 903.9,1680.5 C906.4,1685.5 908.7,1691.9 910.8,1697.0 C912.8,1702.0 914.4,1705.4 916.3,1710.7 C918.1,1716.0 919.9,1722.1 921.8,1728.6 C923.6,1735.0 925.4,1743.0 927.3,1749.2 C929.1,1755.4 930.7,1761.1 932.8,1765.7 C934.8,1770.2 937.3,1773.9 939.6,1776.7 C941.9,1779.4 944.2,1780.6 946.5,1782.2 C948.8,1783.8 951.1,1783.8 953.4,1786.3 C955.7,1788.8 958.2,1794.5 960.3,1797.3 C962.3,1800.1 963.7,1800.9 965.5,1803.1 C967.4,1805.4 969.2,1808.7 971.1,1810.9 C972.9,1813.1 975.0,1816.4 976.6,1816.4 C978.3,1816.4 979.6,1814.4 981.1,1810.9 C982.6,1807.4 983.9,1799.4 985.5,1795.4 C987.2,1791.3 989.4,1786.9 991.1,1786.5 C992.7,1786.1 994.2,1790.2 995.5,1793.1 C996.8,1796.1 997.7,1801.8 998.8,1804.2 C1000.0,1806.6 1000.9,1808.7 1002.2,1807.6 C1003.5,1806.5 1005.0,1803.3 1006.6,1797.6 C1008.3,1791.8 1010.3,1780.0 1012.2,1773.2 C1014.0,1766.3 1015.7,1761.9 1017.7,1756.5 C1019.7,1751.2 1022.2,1746.0 1024.4,1741.0 C1026.6,1736.0 1028.8,1731.9 1031.0,1726.5 C1033.3,1721.2 1035.8,1715.1 1037.7,1708.8 C1039.5,1702.5 1040.7,1695.3 1042.1,1688.8 C1043.6,1682.3 1045.1,1676.0 1046.6,1669.9 C1048.1,1663.8 1049.5,1656.3 1051.0,1652.2 C1052.5,1648.1 1053.4,1647.2 1055.4,1645.5 C1057.5,1643.9 1060.6,1643.1 1063.2,1642.2 C1065.8,1641.3 1068.8,1640.0 1071.0,1640.0 C1073.2,1640.0 1074.7,1640.5 1076.5,1642.2 C1078.4,1643.9 1080.2,1646.8 1082.1,1650.0 C1083.9,1653.1 1085.8,1657.4 1087.6,1661.1 C1089.5,1664.8 1091.3,1667.7 1093.2,1672.2 C1095.0,1676.6 1096.9,1682.5 1098.7,1687.7 C1100.6,1692.9 1102.4,1698.2 1104.3,1703.2 C1106.1,1708.2 1108.0,1712.9 1109.8,1717.7 C1111.7,1722.5 1113.7,1727.5 1115.4,1732.1 C1117.0,1736.7 1118.5,1741.3 1119.8,1745.4 C1121.1,1749.5 1121.9,1753.7 1123.2,1756.5 C1124.4,1759.3 1125.9,1760.8 1127.6,1762.1 C1129.3,1763.4 1131.3,1763.0 1133.1,1764.3 C1135.0,1765.6 1137.0,1767.6 1138.7,1769.8 C1140.4,1772.1 1141.5,1774.6 1143.1,1777.6 C1144.8,1780.6 1147.8,1785.9 1148.7,1787.6" fill="none" stroke="#0070c0" stroke-width="3.0" stroke-linejoin="round" stroke-linecap="round"/>
<path d="M190.2,1767.0 C191.2,1767.9 193.9,1770.9 196.0,1772.5 C198.1,1774.1 200.1,1775.8 202.9,1776.6 C205.6,1777.4 209.5,1778.3 212.5,1777.3 C215.5,1776.2 218.4,1772.2 220.7,1770.4 C223.0,1768.6 224.4,1766.0 226.2,1766.3 C228.1,1766.5 229.9,1769.9 231.7,1771.8 C233.6,1773.6 235.6,1777.0 237.2,1777.3 C238.8,1777.5 240.0,1776.4 241.3,1773.1 C242.7,1769.9 244.1,1762.6 245.5,1758.0 C246.8,1753.5 247.8,1748.6 249.6,1745.7 C251.4,1742.7 254.4,1741.7 256.5,1740.2 C258.5,1738.7 260.1,1738.6 262.0,1736.7 C263.8,1734.9 265.6,1732.5 267.5,1729.2 C269.3,1725.9 270.7,1720.2 272.9,1716.8 C275.2,1713.4 278.4,1710.7 281.2,1708.6 C283.9,1706.4 286.7,1705.6 289.4,1703.8 C292.2,1701.9 295.4,1700.7 297.7,1697.6 C300.0,1694.5 301.6,1690.0 303.2,1685.2 C304.8,1680.4 305.7,1672.8 307.3,1668.7 C308.9,1664.6 311.0,1662.1 312.8,1660.5 C314.6,1658.9 316.5,1658.6 318.3,1659.1 C320.1,1659.5 322.2,1660.7 323.8,1663.2 C325.4,1665.7 326.5,1670.3 327.9,1674.2 C329.3,1678.1 330.7,1683.1 332.0,1686.6 C333.4,1690.0 334.6,1693.1 336.2,1694.8 C337.8,1696.5 339.6,1697.1 341.7,1696.9 C343.7,1696.7 346.2,1695.2 348.5,1693.4 C350.8,1691.7 353.3,1688.2 355.4,1686.6 C357.5,1685.0 359.1,1683.6 360.9,1683.8 C362.7,1684.1 364.3,1686.1 366.4,1687.9 C368.5,1689.8 370.5,1692.5 373.3,1694.8 C376.0,1697.1 380.1,1699.2 382.9,1701.7 C385.6,1704.2 387.7,1707.0 389.8,1709.9 C391.8,1712.9 393.4,1716.1 395.3,1719.6 C397.1,1723.0 398.9,1726.7 400.7,1730.5 C402.6,1734.4 404.4,1740.3 406.2,1742.9 C408.1,1745.5 409.7,1746.0 411.7,1746.4 C413.8,1746.7 416.6,1744.2 418.6,1745.0 C420.7,1745.8 422.3,1748.5 424.1,1751.2 C425.9,1753.8 428.0,1758.1 429.6,1760.8 C431.2,1763.4 433.0,1765.9 433.7,1767.0" fill="none" stroke="#00b050" stroke-width="3.0" stroke-linejoin="round" stroke-linecap="round"/>
<path d="M190.2,1756.0 C191.6,1755.7 196.4,1754.3 198.7,1754.6 C201.1,1754.9 202.6,1755.6 204.2,1758.0 C205.8,1760.4 207.0,1766.0 208.4,1769.0 C209.7,1772.0 211.1,1774.8 212.5,1775.9 C213.9,1777.0 215.2,1777.7 216.6,1775.9 C218.0,1774.1 219.1,1768.1 220.7,1764.9 C222.3,1761.7 224.4,1757.6 226.2,1756.7 C228.1,1755.7 229.9,1757.8 231.7,1759.4 C233.6,1761.0 235.4,1764.2 237.2,1766.3 C239.1,1768.3 240.7,1770.2 242.7,1771.8 C244.8,1773.4 246.8,1775.0 249.6,1775.9 C252.3,1776.8 256.2,1777.5 259.2,1777.3 C262.2,1777.0 264.9,1776.2 267.5,1774.5 C270.0,1772.8 272.0,1767.7 274.3,1767.0 C276.6,1766.3 278.7,1768.7 281.2,1770.4 C283.7,1772.1 286.7,1776.0 289.4,1777.3 C292.2,1778.5 295.4,1778.6 297.7,1778.0 C300.0,1777.3 301.3,1775.8 303.2,1773.1 C305.0,1770.5 306.6,1766.3 308.7,1762.2 C310.7,1758.0 313.3,1752.5 315.5,1748.4 C317.8,1744.3 320.1,1739.7 322.4,1737.4 C324.7,1735.1 327.0,1735.0 329.3,1734.7 C331.6,1734.3 333.6,1736.3 336.2,1735.4 C338.7,1734.4 342.1,1731.3 344.4,1729.2 C346.7,1727.0 348.1,1725.5 349.9,1722.3 C351.7,1719.1 353.6,1712.9 355.4,1709.9 C357.2,1707.0 359.1,1704.7 360.9,1704.4 C362.7,1704.2 364.3,1707.0 366.4,1708.6 C368.5,1710.2 371.0,1714.2 373.3,1714.1 C375.6,1713.9 377.8,1709.7 380.1,1707.9 C382.4,1706.0 384.7,1704.0 387.0,1703.1 C389.3,1702.1 391.8,1701.5 393.9,1702.4 C395.9,1703.3 397.5,1704.6 399.4,1708.6 C401.2,1712.6 403.0,1721.8 404.9,1726.4 C406.7,1731.0 408.1,1736.0 410.4,1736.0 C412.7,1736.0 415.9,1728.7 418.6,1726.4 C421.4,1724.1 424.3,1722.6 426.9,1722.3 C429.4,1722.0 431.7,1721.8 433.7,1724.4 C435.8,1726.9 438.2,1734.9 439.2,1737.4 C440.3,1739.9 438.8,1736.2 440.0,1739.4 C441.2,1742.6 443.5,1755.9 446.4,1756.9 C449.3,1757.8 455.6,1746.9 457.5,1744.9" fill="none" stroke="#ff0000" stroke-width="3.0" stroke-linejoin="round" stroke-linecap="round"/>
<line x1="274.6" y1="1591" x2="272.8" y2="1642" stroke="#333" stroke-width="2.4" stroke-dasharray="7,5"/>
<line x1="395.4" y1="1583" x2="395.4" y2="1729" stroke="#333" stroke-width="2.4" stroke-dasharray="7,5"/>
<line x1="275.6" y1="1586.8" x2="380.0" y2="1586.8" stroke="#000" stroke-width="5" />
<polygon points="378.0,1578.5 395.7,1586.8 378.0,1595.2" fill="#000" />
<text x="297.8" y="1577.3" font-size="28.7" text-anchor="start" font-weight="bold" font-style="normal" fill="#000" >1.0 ps</text>
<text x="206.0" y="1692.2" font-size="23.5" text-anchor="start" font-weight="bold" font-style="normal" fill="#000" >(a)</text>
<text x="255.8" y="1701.9" font-size="23.5" text-anchor="start" font-weight="bold" font-style="normal" fill="#000" >(b)</text>
<text x="292.1" y="1733.8" font-size="23.5" text-anchor="start" font-weight="bold" font-style="normal" fill="#000" >(c)</text>
<line x1="641.2" y1="1827.6" x2="683.1" y2="1827.6" stroke="#000" stroke-width="3" />
<text x="687.3" y="1836.4" font-size="25.6" text-anchor="start" font-weight="bold" font-style="normal" fill="#000" >Conventional MD (at 2 nm)</text>
<line x1="641.2" y1="1866.6" x2="683.1" y2="1866.6" stroke="#0070c0" stroke-width="3" />
<text x="687.3" y="1875.4" font-size="25.6" text-anchor="start" font-weight="bold" font-style="normal" fill="#000" >Hypersound-perturbed MD (at 2 nm)</text>
<line x1="641.2" y1="1906.3" x2="683.1" y2="1906.3" stroke="#00b050" stroke-width="3" />
<text x="687.3" y="1915.1" font-size="25.6" text-anchor="start" font-weight="bold" font-style="normal" fill="#000" >Hypersound-perturbed MD (at 3 nm)</text>
<line x1="641.2" y1="1945.0" x2="683.1" y2="1945.0" stroke="#ff0000" stroke-width="3" />
<text x="687.3" y="1953.8" font-size="25.6" text-anchor="start" font-weight="bold" font-style="normal" fill="#000" >Hypersound-perturbed MD (at 4 nm)</text>
<g clip-path="url(#clipB)">
<path d="M162.4,1186.1 C163.5,1185.0 166.9,1182.4 169.2,1179.4 C171.4,1176.5 174.2,1170.9 175.9,1168.4 C177.6,1166.0 178.2,1163.9 179.6,1164.7 C181.0,1165.5 183.0,1170.7 184.5,1173.3 C186.0,1175.9 187.2,1179.7 188.8,1180.6 C190.4,1181.5 192.6,1180.0 194.3,1178.8 C196.0,1177.6 197.4,1175.6 199.2,1173.3 C201.0,1171.0 203.2,1165.3 205.3,1164.7 C207.4,1164.1 209.9,1168.6 212.0,1169.6 C214.1,1170.6 216.0,1171.1 218.1,1170.8 C220.2,1170.5 222.2,1168.7 224.3,1167.7 C226.4,1166.7 227.9,1164.0 230.4,1164.7 C232.9,1165.4 237.2,1169.4 239.6,1172.0 C242.0,1174.6 243.0,1179.7 244.7,1180.2 C246.5,1180.6 248.3,1176.3 250.1,1174.8 C251.9,1173.2 253.9,1170.5 255.5,1170.7 C257.1,1171.0 258.2,1174.1 259.6,1176.1 C260.9,1178.1 262.0,1181.3 263.6,1182.9 C265.2,1184.4 267.4,1185.6 269.0,1185.6 C270.6,1185.6 271.7,1184.7 273.0,1182.9 C274.4,1181.1 275.7,1176.8 277.1,1174.8 C278.4,1172.7 279.5,1170.7 281.1,1170.7 C282.7,1170.7 284.9,1173.8 286.5,1174.8 C288.1,1175.8 286.3,1176.5 290.6,1176.8 C294.8,1177.1 308.1,1176.1 312.1,1176.8 C316.2,1177.5 313.0,1180.2 314.8,1180.8 C316.6,1181.5 320.7,1181.6 322.9,1180.8 C325.1,1180.0 326.0,1177.4 328.3,1176.1 C330.5,1174.9 333.7,1174.5 336.4,1173.4 C339.1,1172.3 341.8,1170.3 344.5,1169.4 C347.2,1168.5 349.9,1167.4 352.5,1168.0 C355.2,1168.7 358.2,1171.9 360.6,1173.4 C363.1,1175.0 365.1,1176.6 367.4,1177.5 C369.6,1178.4 371.6,1179.0 374.1,1178.8 C376.6,1178.6 379.5,1177.0 382.2,1176.1 C384.9,1175.2 387.6,1174.2 390.3,1173.4 C393.0,1172.6 395.5,1172.1 398.2,1171.3 C400.9,1170.5 403.7,1169.7 406.5,1168.6 C409.2,1167.4 412.2,1164.9 414.7,1164.4 C417.3,1164.0 419.1,1164.9 421.6,1165.8 C424.1,1166.7 427.3,1170.2 429.9,1169.9 C432.4,1169.7 434.7,1165.6 436.7,1164.4 C438.8,1163.3 440.4,1162.4 442.2,1163.1 C444.1,1163.8 445.7,1167.9 447.7,1168.6 C449.8,1169.2 452.3,1167.0 454.6,1167.2 C456.9,1167.4 459.4,1168.3 461.5,1169.9 C463.5,1171.5 465.4,1175.2 467.0,1176.8 C468.6,1178.4 469.7,1179.8 471.1,1179.6 C472.5,1179.3 473.1,1176.3 475.2,1175.4 C477.3,1174.5 480.7,1174.1 483.4,1174.1 C486.2,1174.1 488.9,1175.7 491.7,1175.4 C494.4,1175.2 497.2,1173.6 499.9,1172.7 C502.7,1171.8 505.4,1169.7 508.2,1169.9 C510.9,1170.2 513.7,1173.6 516.4,1174.1 C519.2,1174.5 522.2,1172.2 524.7,1172.7 C527.2,1173.1 529.3,1175.4 531.5,1176.8 C533.8,1178.2 536.1,1180.7 538.4,1180.9 C540.7,1181.2 543.2,1180.2 545.3,1178.2 C547.3,1176.1 548.9,1170.6 550.8,1168.6 C552.6,1166.5 554.4,1165.8 556.3,1165.8 C558.1,1165.8 559.7,1168.6 561.8,1168.6 C563.8,1168.6 566.1,1166.3 568.6,1165.8 C571.2,1165.4 574.1,1165.1 576.9,1165.8 C579.6,1166.5 582.4,1169.7 585.1,1169.9 C587.9,1170.2 590.6,1167.2 593.4,1167.2 C596.1,1167.2 598.9,1168.8 601.6,1169.9 C604.4,1171.1 607.4,1171.8 609.9,1174.1 C612.4,1176.3 614.7,1182.1 616.7,1183.7 C618.8,1185.3 620.6,1186.0 622.2,1183.7 C623.8,1181.4 624.8,1174.1 626.4,1169.9 C628.0,1165.8 630.0,1160.5 631.9,1158.9 C633.7,1157.3 635.0,1159.4 637.4,1160.3 C639.7,1161.2 644.5,1163.8 645.9,1164.4" fill="none" stroke="#002060" stroke-width="3.0" stroke-linejoin="round" stroke-linecap="round"/>
<path d="M162.5,1253.9 C162.6,1253.9 162.5,1256.5 163.1,1254.0 C163.7,1251.5 165.1,1243.8 166.1,1238.7 C167.1,1233.6 168.2,1229.0 169.2,1223.4 C170.2,1217.8 169.8,1211.4 172.2,1205.0 C174.5,1198.6 180.2,1190.7 183.3,1184.9 C186.4,1179.1 188.2,1174.6 190.6,1170.2 C193.0,1165.8 196.1,1162.3 197.9,1158.6 C199.7,1154.9 200.4,1149.3 201.6,1147.8 C202.8,1146.4 204.4,1151.6 205.3,1150.0 C206.2,1148.4 205.8,1141.9 207.0,1138.4 C208.2,1134.9 210.6,1132.3 212.4,1128.9 C214.2,1125.6 216.0,1121.1 217.8,1118.2 C219.6,1115.2 221.4,1113.5 223.2,1111.4 C225.0,1109.4 226.8,1108.5 228.6,1106.0 C230.4,1103.6 232.4,1099.1 233.9,1096.6 C235.5,1094.1 236.9,1091.2 238.0,1091.2 C239.1,1091.2 239.8,1093.9 240.7,1096.6 C241.6,1099.3 242.3,1103.8 243.4,1107.4 C244.5,1111.0 245.9,1115.0 247.4,1118.2 C249.0,1121.3 250.8,1123.8 252.8,1126.3 C254.8,1128.7 257.8,1130.7 259.6,1133.0 C261.4,1135.2 262.5,1137.3 263.6,1139.7 C264.7,1142.2 265.4,1145.1 266.3,1147.8 C267.2,1150.5 267.9,1154.1 269.0,1155.9 C270.1,1157.7 271.5,1158.8 273.0,1158.6 C274.6,1158.4 276.9,1154.1 278.4,1154.6 C280.0,1155.0 281.1,1158.8 282.5,1161.3 C283.8,1163.8 285.2,1167.4 286.5,1169.4 C287.9,1171.4 289.0,1173.9 290.6,1173.4 C292.1,1173.0 294.1,1167.1 295.9,1166.7 C297.7,1166.2 299.8,1169.4 301.3,1170.7 C302.9,1172.1 303.8,1175.2 305.4,1174.8 C306.9,1174.3 309.2,1169.6 310.8,1168.0 C312.3,1166.5 313.2,1164.2 314.8,1165.3 C316.4,1166.5 318.6,1173.6 320.2,1174.8 C321.8,1175.9 322.7,1173.6 324.2,1172.1 C325.8,1170.5 327.6,1166.7 329.6,1165.3 C331.7,1164.0 334.4,1164.2 336.4,1164.0 C338.4,1163.8 340.0,1163.5 341.8,1164.0 C343.6,1164.4 344.9,1165.8 347.2,1166.7 C349.4,1167.6 353.0,1167.6 355.2,1169.4 C357.5,1171.2 358.8,1175.4 360.6,1177.5 C362.4,1179.5 363.8,1180.8 366.0,1181.5 C368.3,1182.2 371.4,1182.0 374.1,1181.5 C376.8,1181.1 379.5,1179.7 382.2,1178.8 C384.9,1177.9 387.6,1177.1 390.3,1176.1 C393.0,1175.1 395.5,1173.5 398.2,1172.7 C400.9,1171.9 403.7,1170.9 406.5,1171.3 C409.2,1171.8 412.2,1174.7 414.7,1175.4 C417.3,1176.1 419.3,1176.6 421.6,1175.4 C423.9,1174.3 426.2,1170.2 428.5,1168.6 C430.8,1167.0 432.8,1165.8 435.3,1165.8 C437.9,1165.8 441.1,1168.8 443.6,1168.6 C446.1,1168.3 448.2,1164.9 450.5,1164.4 C452.8,1164.0 455.0,1164.9 457.3,1165.8 C459.6,1166.7 461.7,1168.3 464.2,1169.9 C466.7,1171.5 469.9,1174.5 472.5,1175.4 C475.0,1176.3 476.6,1175.7 479.3,1175.4 C482.1,1175.2 485.7,1174.5 488.9,1174.1 C492.1,1173.6 495.6,1172.9 498.6,1172.7 C501.5,1172.5 504.3,1172.2 506.8,1172.7 C509.3,1173.1 511.4,1173.6 513.7,1175.4 C516.0,1177.3 518.5,1182.8 520.5,1183.7 C522.6,1184.6 524.0,1182.1 526.0,1180.9 C528.1,1179.8 530.6,1178.0 532.9,1176.8 C535.2,1175.7 537.5,1174.1 539.8,1174.1 C542.1,1174.1 544.1,1177.5 546.7,1176.8 C549.2,1176.1 552.2,1171.3 554.9,1169.9 C557.7,1168.6 560.4,1169.0 563.1,1168.6 C565.9,1168.1 568.6,1167.2 571.4,1167.2 C574.1,1167.2 576.9,1168.3 579.6,1168.6 C582.4,1168.8 585.1,1168.3 587.9,1168.6 C590.6,1168.8 593.4,1169.5 596.1,1169.9 C598.9,1170.4 601.6,1171.1 604.4,1171.3 C607.1,1171.5 609.9,1171.5 612.6,1171.3 C615.4,1171.1 618.1,1170.4 620.9,1169.9 C623.6,1169.5 626.4,1169.0 629.1,1168.6 C631.9,1168.1 634.6,1167.4 637.4,1167.2 C640.1,1167.0 644.5,1167.2 645.9,1167.2" fill="none" stroke="#7030a0" stroke-width="3.0" stroke-linejoin="round" stroke-linecap="round"/>
<path d="M162.5,1322.0 C163.4,1317.4 166.1,1303.9 167.9,1294.3 C169.7,1284.8 171.5,1274.8 173.3,1264.7 C175.1,1254.6 177.1,1242.2 178.7,1233.7 C180.3,1225.2 181.6,1218.8 182.7,1213.5 C183.9,1208.1 184.3,1206.6 185.4,1201.7 C186.6,1196.8 188.4,1188.7 189.5,1184.2 C190.5,1179.7 190.3,1180.2 191.8,1174.5 C193.3,1168.8 196.3,1156.2 198.6,1150.0 C200.9,1143.8 203.3,1141.9 205.6,1137.0 C207.9,1132.2 210.6,1126.3 212.4,1120.9 C214.2,1115.5 215.1,1110.3 216.4,1104.7 C217.8,1099.1 219.1,1090.8 220.5,1087.2 C221.8,1083.6 222.9,1084.2 224.5,1083.1 C226.1,1082.0 228.1,1082.5 229.9,1080.4 C231.7,1078.4 233.5,1074.1 235.3,1071.0 C237.1,1067.9 239.1,1064.1 240.7,1061.6 C242.3,1059.0 243.4,1055.9 244.7,1055.5 C246.1,1055.0 247.4,1056.3 248.8,1058.9 C250.1,1061.5 251.5,1067.9 252.8,1071.0 C254.2,1074.1 255.3,1076.2 256.9,1077.7 C258.4,1079.3 260.2,1079.1 262.3,1080.4 C264.3,1081.8 267.0,1083.6 269.0,1085.8 C271.0,1088.1 272.6,1091.0 274.4,1093.9 C276.2,1096.8 278.0,1100.4 279.8,1103.3 C281.6,1106.3 283.1,1109.2 285.2,1111.4 C287.2,1113.7 290.1,1115.2 291.9,1116.8 C293.7,1118.4 294.6,1118.4 295.9,1120.9 C297.3,1123.3 298.6,1127.8 300.0,1131.6 C301.3,1135.5 302.7,1142.2 304.0,1143.8 C305.4,1145.3 306.5,1142.2 308.1,1141.1 C309.6,1140.0 311.7,1136.8 313.5,1137.0 C315.3,1137.3 317.1,1140.6 318.9,1142.4 C320.7,1144.2 322.4,1146.7 324.2,1147.8 C326.0,1148.9 327.8,1149.8 329.6,1149.2 C331.4,1148.5 333.5,1144.0 335.0,1143.8 C336.6,1143.5 337.7,1144.4 339.1,1147.8 C340.4,1151.2 341.8,1160.2 343.1,1164.0 C344.5,1167.8 345.4,1170.5 347.2,1170.7 C349.0,1171.0 351.6,1165.6 353.9,1165.3 C356.1,1165.1 358.4,1167.8 360.6,1169.4 C362.9,1171.0 365.1,1174.1 367.4,1174.8 C369.6,1175.4 371.6,1173.9 374.1,1173.4 C376.6,1173.0 379.5,1171.9 382.2,1172.1 C384.9,1172.3 387.6,1174.4 390.3,1174.8 C393.0,1175.1 395.5,1174.9 398.2,1174.1 C400.9,1173.3 403.7,1171.1 406.5,1169.9 C409.2,1168.8 412.0,1167.4 414.7,1167.2 C417.5,1167.0 420.2,1168.1 423.0,1168.6 C425.7,1169.0 428.5,1170.2 431.2,1169.9 C434.0,1169.7 436.7,1168.3 439.5,1167.2 C442.2,1166.0 445.2,1164.2 447.7,1163.1 C450.2,1161.9 452.5,1160.1 454.6,1160.3 C456.6,1160.5 458.0,1162.8 460.1,1164.4 C462.1,1166.0 464.7,1169.0 467.0,1169.9 C469.2,1170.9 471.5,1169.2 473.8,1169.9 C476.1,1170.6 478.2,1174.1 480.7,1174.1 C483.2,1174.1 486.2,1171.1 488.9,1169.9 C491.7,1168.8 494.4,1167.2 497.2,1167.2 C499.9,1167.2 502.7,1169.0 505.4,1169.9 C508.2,1170.9 510.9,1172.5 513.7,1172.7 C516.4,1172.9 519.2,1171.1 521.9,1171.3 C524.7,1171.5 527.6,1172.9 530.2,1174.1 C532.7,1175.2 534.7,1177.7 537.0,1178.2 C539.3,1178.6 541.8,1178.0 543.9,1176.8 C546.0,1175.7 547.1,1172.7 549.4,1171.3 C551.7,1169.9 554.9,1169.2 557.7,1168.6 C560.4,1167.9 563.1,1167.6 565.9,1167.2 C568.6,1166.7 571.4,1166.3 574.1,1165.8 C576.9,1165.4 579.6,1164.4 582.4,1164.4 C585.1,1164.4 587.9,1165.8 590.6,1165.8 C593.4,1165.8 596.1,1164.9 598.9,1164.4 C601.6,1164.0 604.8,1163.1 607.1,1163.1 C609.4,1163.1 610.3,1164.0 612.6,1164.4 C614.9,1164.9 618.1,1165.6 620.9,1165.8 C623.6,1166.0 626.4,1166.0 629.1,1165.8 C631.9,1165.6 634.6,1164.4 637.4,1164.4 C640.1,1164.4 644.5,1165.6 645.9,1165.8" fill="none" stroke="#0070c0" stroke-width="3.0" stroke-linejoin="round" stroke-linecap="round"/>
<path d="M162.5,1310.5 C163.4,1306.0 166.7,1290.3 167.9,1283.6 C169.1,1276.8 168.6,1277.0 169.8,1270.0 C171.0,1263.0 173.6,1251.1 175.3,1241.8 C177.0,1232.5 177.8,1223.0 180.2,1214.3 C182.5,1205.6 187.1,1196.2 189.4,1189.8 C191.8,1183.4 192.6,1180.8 194.3,1175.7 C196.0,1170.6 198.4,1163.5 199.8,1159.2 C201.2,1154.9 201.6,1152.8 202.8,1150.0 C204.0,1147.2 205.4,1143.5 207.0,1142.4 C208.6,1141.4 210.8,1145.1 212.4,1143.8 C214.0,1142.4 214.9,1137.7 216.4,1134.3 C218.0,1131.0 220.0,1126.7 221.8,1123.6 C223.6,1120.4 225.4,1117.3 227.2,1115.5 C229.0,1113.7 230.8,1113.0 232.6,1112.8 C234.4,1112.6 236.4,1115.7 238.0,1114.1 C239.6,1112.6 240.9,1107.2 242.0,1103.3 C243.2,1099.5 243.6,1094.0 244.7,1091.2 C245.9,1088.4 247.0,1087.3 248.8,1086.5 C250.6,1085.7 253.5,1086.4 255.5,1086.5 C257.5,1086.6 259.3,1087.5 260.9,1087.2 C262.5,1086.8 263.6,1085.8 264.9,1084.5 C266.3,1083.1 267.6,1080.4 269.0,1079.1 C270.3,1077.7 271.5,1076.2 273.0,1076.4 C274.6,1076.6 276.6,1078.9 278.4,1080.4 C280.2,1082.0 282.2,1084.7 283.8,1085.8 C285.4,1086.9 286.7,1087.8 287.9,1087.2 C289.0,1086.5 289.7,1084.7 290.6,1081.8 C291.5,1078.9 292.3,1072.3 293.2,1069.6 C294.1,1067.0 295.0,1065.4 295.9,1065.6 C296.8,1065.8 297.7,1067.4 298.6,1071.0 C299.5,1074.6 300.4,1082.2 301.3,1087.2 C302.2,1092.1 303.1,1098.0 304.0,1100.6 C304.9,1103.3 305.6,1103.6 306.7,1103.3 C307.8,1103.1 309.2,1100.2 310.8,1099.3 C312.3,1098.4 314.6,1097.3 316.2,1098.0 C317.7,1098.6 318.9,1100.9 320.2,1103.3 C321.5,1105.8 322.7,1109.4 324.2,1112.8 C325.8,1116.1 328.1,1122.7 329.6,1123.6 C331.2,1124.5 332.3,1120.0 333.7,1118.2 C335.0,1116.4 336.4,1111.9 337.7,1112.8 C339.1,1113.7 340.2,1120.0 341.8,1123.6 C343.3,1127.2 344.9,1132.3 347.2,1134.3 C349.4,1136.4 353.0,1134.3 355.2,1135.7 C357.5,1137.0 358.8,1140.0 360.6,1142.4 C362.4,1144.9 364.2,1148.0 366.0,1150.5 C367.8,1153.0 369.2,1157.0 371.4,1157.3 C373.7,1157.5 377.0,1151.6 379.5,1151.9 C382.0,1152.1 383.6,1158.1 386.2,1158.6 C388.9,1159.1 393.0,1154.3 395.5,1154.8 C398.0,1155.3 399.2,1159.9 401.0,1161.7 C402.8,1163.5 404.4,1165.1 406.5,1165.8 C408.6,1166.5 410.8,1165.6 413.4,1165.8 C415.9,1166.0 418.9,1164.9 421.6,1167.2 C424.4,1169.5 427.6,1178.6 429.9,1179.6 C432.1,1180.5 433.3,1174.7 435.3,1172.7 C437.4,1170.6 439.9,1168.3 442.2,1167.2 C444.5,1166.0 446.8,1165.4 449.1,1165.8 C451.4,1166.3 453.9,1168.6 456.0,1169.9 C458.0,1171.3 459.4,1174.1 461.5,1174.1 C463.5,1174.1 466.3,1170.2 468.3,1169.9 C470.4,1169.7 471.8,1171.5 473.8,1172.7 C475.9,1173.8 478.6,1176.3 480.7,1176.8 C482.8,1177.3 484.4,1176.1 486.2,1175.4 C488.0,1174.7 490.1,1173.8 491.7,1172.7 C493.3,1171.5 494.0,1169.0 495.8,1168.6 C497.6,1168.1 500.2,1169.0 502.7,1169.9 C505.2,1170.9 508.4,1173.8 510.9,1174.1 C513.4,1174.3 515.7,1171.3 517.8,1171.3 C519.9,1171.3 521.5,1172.9 523.3,1174.1 C525.1,1175.2 527.0,1178.0 528.8,1178.2 C530.6,1178.4 532.2,1176.3 534.3,1175.4 C536.4,1174.5 538.9,1173.6 541.2,1172.7 C543.5,1171.8 545.5,1169.7 548.0,1169.9 C550.6,1170.2 553.8,1174.1 556.3,1174.1 C558.8,1174.1 561.1,1170.9 563.1,1169.9 C565.2,1169.0 566.8,1169.5 568.6,1168.6 C570.5,1167.6 572.3,1164.9 574.1,1164.4 C576.0,1164.0 577.8,1165.4 579.6,1165.8 C581.5,1166.3 583.3,1167.4 585.1,1167.2 C587.0,1167.0 588.8,1166.5 590.6,1164.4 C592.5,1162.4 594.3,1155.3 596.1,1154.8 C598.0,1154.4 599.8,1159.9 601.6,1161.7 C603.5,1163.5 605.1,1164.7 607.1,1165.8 C609.2,1167.0 611.7,1167.9 614.0,1168.6 C616.3,1169.2 618.3,1169.9 620.9,1169.9 C623.4,1169.9 626.4,1169.2 629.1,1168.6 C631.9,1167.9 634.6,1166.3 637.4,1165.8 C640.1,1165.4 644.5,1165.8 645.9,1165.8" fill="none" stroke="#00b0f0" stroke-width="3.0" stroke-linejoin="round" stroke-linecap="round"/>
<path d="M161.8,1232.6 C162.7,1230.6 165.6,1224.5 167.3,1220.4 C169.0,1216.3 170.6,1212.2 172.2,1208.1 C173.8,1204.0 175.6,1198.9 177.1,1195.9 C178.6,1193.0 179.9,1191.2 181.4,1190.4 C182.9,1189.6 184.6,1191.2 186.3,1191.0 C188.0,1190.8 190.1,1190.0 191.8,1189.2 C193.5,1188.4 194.9,1186.3 196.7,1186.1 C198.5,1185.9 201.1,1186.7 202.8,1188.0 C204.5,1189.3 205.9,1191.2 207.1,1194.1 C208.3,1196.9 209.2,1202.2 210.2,1205.1 C211.2,1207.9 211.9,1210.7 213.2,1211.2 C214.5,1211.7 216.7,1209.7 218.1,1208.1 C219.5,1206.5 220.3,1202.4 221.8,1201.4 C223.3,1200.4 225.6,1202.6 227.3,1202.0 C229.0,1201.4 230.7,1200.0 232.2,1197.7 C233.7,1195.4 235.3,1191.8 236.5,1188.0 C237.7,1184.2 238.8,1176.8 239.3,1174.8 C239.9,1172.7 238.9,1178.8 239.6,1175.7 C240.3,1172.6 242.1,1161.0 243.4,1155.9 C244.7,1150.8 245.9,1147.8 247.4,1145.1 C249.0,1142.4 250.8,1141.3 252.8,1139.7 C254.8,1138.2 257.8,1137.0 259.6,1135.7 C261.4,1134.3 262.3,1134.3 263.6,1131.6 C264.9,1128.9 266.1,1122.9 267.6,1119.5 C269.2,1116.1 271.2,1113.5 273.0,1111.4 C274.8,1109.4 276.6,1108.1 278.4,1107.4 C280.2,1106.7 282.2,1108.1 283.8,1107.4 C285.4,1106.7 286.5,1105.1 287.9,1103.3 C289.2,1101.5 290.6,1098.4 291.9,1096.6 C293.2,1094.8 294.6,1092.3 295.9,1092.6 C297.3,1092.8 298.6,1095.5 300.0,1098.0 C301.3,1100.4 302.5,1106.7 304.0,1107.4 C305.6,1108.1 307.6,1103.8 309.4,1102.0 C311.2,1100.2 313.0,1097.3 314.8,1096.6 C316.6,1095.9 318.4,1096.6 320.2,1098.0 C322.0,1099.3 323.8,1103.8 325.6,1104.7 C327.4,1105.6 329.4,1105.1 331.0,1103.3 C332.6,1101.5 333.7,1095.8 335.0,1093.9 C336.4,1092.0 337.7,1091.2 339.1,1091.9 C340.4,1092.6 341.8,1096.3 343.1,1098.0 C344.5,1099.6 345.1,1101.2 347.2,1102.0 C349.2,1102.8 353.0,1102.8 355.2,1102.7 C357.5,1102.6 358.8,1100.5 360.6,1101.3 C362.4,1102.1 364.2,1103.7 366.0,1107.4 C367.8,1111.1 369.6,1120.2 371.4,1123.6 C373.2,1126.9 375.0,1127.2 376.8,1127.6 C378.6,1128.1 380.4,1127.2 382.2,1126.3 C384.0,1125.4 385.4,1120.4 387.6,1122.2 C389.8,1124.0 393.3,1134.3 395.5,1137.0 C397.7,1139.6 399.4,1137.9 401.0,1138.3 C402.6,1138.8 403.5,1137.4 405.1,1139.7 C406.7,1142.0 408.3,1149.6 410.6,1152.1 C412.9,1154.6 416.6,1153.7 418.9,1154.8 C421.1,1156.0 422.3,1157.3 424.4,1158.9 C426.4,1160.5 428.9,1164.4 431.2,1164.4 C433.5,1164.4 435.8,1161.5 438.1,1158.9 C440.4,1156.4 442.9,1149.8 445.0,1149.3 C447.0,1148.9 448.6,1153.9 450.5,1156.2 C452.3,1158.5 453.7,1161.7 456.0,1163.1 C458.3,1164.4 461.7,1164.0 464.2,1164.4 C466.7,1164.9 469.0,1164.7 471.1,1165.8 C473.1,1167.0 474.5,1169.9 476.6,1171.3 C478.6,1172.7 481.4,1174.7 483.4,1174.1 C485.5,1173.4 487.1,1170.2 488.9,1167.2 C490.8,1164.2 492.6,1156.7 494.4,1156.2 C496.3,1155.7 498.1,1161.0 499.9,1164.4 C501.8,1167.9 503.6,1174.1 505.4,1176.8 C507.3,1179.6 508.9,1180.9 510.9,1180.9 C513.0,1180.9 515.5,1177.7 517.8,1176.8 C520.1,1175.9 522.6,1174.7 524.7,1175.4 C526.7,1176.1 528.3,1179.1 530.2,1180.9 C532.0,1182.8 533.8,1186.9 535.7,1186.4 C537.5,1186.0 539.3,1181.8 541.2,1178.2 C543.0,1174.5 545.1,1165.8 546.7,1164.4 C548.3,1163.1 549.2,1167.6 550.8,1169.9 C552.4,1172.2 554.2,1177.3 556.3,1178.2 C558.3,1179.1 561.1,1177.0 563.1,1175.4 C565.2,1173.8 566.8,1170.2 568.6,1168.6 C570.5,1167.0 571.9,1164.9 574.1,1165.8 C576.4,1166.7 580.1,1172.9 582.4,1174.1 C584.7,1175.2 585.6,1173.6 587.9,1172.7 C590.2,1171.8 593.6,1169.2 596.1,1168.6 C598.6,1167.9 600.7,1169.2 603.0,1168.6 C605.3,1167.9 607.6,1164.4 609.9,1164.4 C612.2,1164.4 614.5,1167.0 616.7,1168.6 C619.0,1170.2 621.1,1173.8 623.6,1174.1 C626.1,1174.3 629.1,1170.6 631.9,1169.9 C634.6,1169.2 637.8,1169.2 640.1,1169.9 C642.4,1170.6 644.9,1173.4 645.9,1174.1" fill="none" stroke="#00b050" stroke-width="3.0" stroke-linejoin="round" stroke-linecap="round"/>
<path d="M161.8,1175.7 C162.7,1175.0 165.1,1171.6 167.3,1171.4 C169.6,1171.2 173.2,1172.5 175.3,1174.5 C177.5,1176.5 178.7,1180.1 180.2,1183.7 C181.7,1187.3 183.3,1192.4 184.5,1195.9 C185.7,1199.5 186.3,1200.9 187.5,1205.0 C188.7,1209.1 190.3,1215.3 191.8,1220.4 C193.3,1225.5 195.1,1231.1 196.7,1235.7 C198.3,1240.3 200.2,1242.8 201.6,1247.9 C203.0,1253.0 204.4,1259.9 205.3,1266.3 C206.2,1272.7 206.0,1279.3 207.0,1286.3 C208.0,1293.2 209.8,1302.4 211.0,1307.8 C212.3,1313.2 213.3,1317.5 214.4,1318.6 C215.5,1319.7 216.5,1316.8 217.8,1314.6 C219.0,1312.3 220.0,1308.0 221.8,1305.1 C223.6,1302.2 226.5,1300.6 228.6,1297.0 C230.6,1293.4 232.4,1288.9 233.9,1283.6 C235.5,1278.2 236.9,1271.4 238.0,1264.7 C239.1,1258.0 239.8,1251.0 240.7,1243.1 C241.6,1235.3 242.3,1224.6 243.4,1217.5 C244.5,1210.4 245.6,1203.2 247.4,1200.4 C249.2,1197.5 252.4,1201.3 254.2,1200.4 C256.0,1199.5 256.9,1197.5 258.2,1195.0 C259.6,1192.5 260.9,1190.0 262.3,1185.6 C263.6,1181.1 264.9,1172.7 266.3,1168.0 C267.6,1163.3 269.0,1159.3 270.3,1157.3 C271.7,1155.2 272.8,1154.8 274.4,1155.9 C276.0,1157.0 278.2,1164.2 279.8,1164.0 C281.3,1163.8 282.5,1158.1 283.8,1154.6 C285.2,1151.0 286.3,1146.2 287.9,1142.4 C289.4,1138.6 291.5,1134.3 293.2,1131.6 C295.0,1128.9 296.6,1127.5 298.6,1126.3 C300.7,1125.0 303.4,1124.6 305.4,1124.2 C307.4,1123.9 309.0,1125.2 310.8,1124.2 C312.6,1123.2 314.4,1120.8 316.2,1118.2 C318.0,1115.6 319.5,1111.1 321.5,1108.7 C323.6,1106.4 326.3,1104.2 328.3,1104.0 C330.3,1103.8 331.9,1106.6 333.7,1107.4 C335.5,1108.2 337.3,1109.4 339.1,1108.7 C340.9,1108.1 342.7,1104.4 344.5,1103.3 C346.3,1102.3 348.1,1102.0 349.9,1102.7 C351.6,1103.3 353.4,1107.5 355.2,1107.4 C357.0,1107.3 358.8,1102.4 360.6,1102.0 C362.4,1101.5 364.2,1102.9 366.0,1104.7 C367.8,1106.5 369.6,1112.6 371.4,1112.8 C373.2,1113.0 375.5,1107.8 376.8,1106.0 C378.2,1104.2 378.2,1101.5 379.5,1102.0 C380.8,1102.4 383.1,1106.5 384.9,1108.7 C386.7,1111.0 388.5,1114.0 390.3,1115.5 C392.1,1117.0 393.7,1116.9 395.5,1117.7 C397.3,1118.5 399.2,1119.3 401.0,1120.5 C402.8,1121.6 404.7,1123.2 406.5,1124.6 C408.3,1126.0 409.7,1127.6 412.0,1128.7 C414.3,1129.9 417.7,1130.1 420.2,1131.5 C422.8,1132.8 424.8,1135.6 427.1,1137.0 C429.4,1138.3 431.5,1139.5 434.0,1139.7 C436.5,1139.9 439.7,1138.1 442.2,1138.3 C444.7,1138.6 446.8,1139.5 449.1,1141.1 C451.4,1142.7 453.9,1145.4 456.0,1147.9 C458.0,1150.5 459.6,1155.3 461.5,1156.2 C463.3,1157.1 465.1,1154.6 467.0,1153.4 C468.8,1152.3 470.8,1148.4 472.5,1149.3 C474.1,1150.2 475.2,1155.7 476.6,1158.9 C477.9,1162.1 479.1,1167.9 480.7,1168.6 C482.3,1169.2 484.1,1165.1 486.2,1163.1 C488.3,1161.0 491.0,1156.9 493.1,1156.2 C495.1,1155.5 496.7,1156.7 498.6,1158.9 C500.4,1161.2 502.2,1166.7 504.1,1169.9 C505.9,1173.1 507.7,1177.3 509.6,1178.2 C511.4,1179.1 513.2,1177.0 515.1,1175.4 C516.9,1173.8 518.7,1169.2 520.5,1168.6 C522.4,1167.9 524.2,1169.9 526.0,1171.3 C527.9,1172.7 529.7,1176.3 531.5,1176.8 C533.4,1177.3 535.4,1175.7 537.0,1174.1 C538.6,1172.5 539.6,1169.7 541.2,1167.2 C542.8,1164.7 544.8,1158.0 546.7,1158.9 C548.5,1159.9 550.3,1168.6 552.2,1172.7 C554.0,1176.8 555.8,1183.0 557.7,1183.7 C559.5,1184.4 561.3,1179.6 563.1,1176.8 C565.0,1174.1 566.8,1167.4 568.6,1167.2 C570.5,1167.0 572.3,1171.5 574.1,1175.4 C576.0,1179.3 577.8,1189.2 579.6,1190.5 C581.5,1191.9 583.3,1186.4 585.1,1183.7 C587.0,1180.9 588.8,1175.2 590.6,1174.1 C592.5,1172.9 594.3,1176.6 596.1,1176.8 C598.0,1177.0 599.8,1176.6 601.6,1175.4 C603.5,1174.3 605.3,1170.2 607.1,1169.9 C609.0,1169.7 610.8,1172.7 612.6,1174.1 C614.5,1175.4 616.3,1177.7 618.1,1178.2 C619.9,1178.6 621.3,1177.7 623.6,1176.8 C625.9,1175.9 629.1,1173.4 631.9,1172.7 C634.6,1172.0 637.8,1171.8 640.1,1172.7 C642.4,1173.6 644.9,1177.3 645.9,1178.2" fill="none" stroke="#92d050" stroke-width="3.0" stroke-linejoin="round" stroke-linecap="round"/>
<path d="M162.5,1149.2 C162.9,1149.3 163.3,1147.5 164.9,1150.0 C166.5,1152.5 170.1,1158.0 172.2,1164.1 C174.3,1170.2 176.0,1178.8 177.7,1186.7 C179.4,1194.6 181.1,1202.0 182.6,1211.2 C184.1,1220.4 185.8,1232.0 186.9,1241.8 C188.0,1251.6 188.7,1265.7 189.4,1270.0 C190.1,1274.3 189.9,1263.3 190.8,1267.4 C191.7,1271.4 193.5,1285.4 194.9,1294.3 C196.2,1303.3 197.6,1312.3 198.9,1321.3 C200.3,1330.3 201.4,1339.3 203.0,1348.2 C204.5,1357.2 206.5,1368.5 208.3,1375.2 C210.1,1381.9 212.2,1386.4 213.7,1388.7 C215.3,1390.9 216.4,1390.3 217.8,1388.7 C219.1,1387.1 220.5,1383.7 221.8,1379.2 C223.2,1374.8 224.3,1367.6 225.9,1361.7 C227.4,1355.9 229.5,1349.8 231.3,1344.2 C233.1,1338.6 235.1,1333.6 236.6,1328.0 C238.2,1322.4 239.3,1316.6 240.7,1310.5 C242.0,1304.4 243.4,1298.4 244.7,1291.6 C246.1,1284.9 247.4,1277.9 248.8,1270.1 C250.1,1262.2 251.5,1250.8 252.8,1244.5 C254.2,1238.2 255.1,1235.9 256.9,1232.3 C258.7,1228.8 261.6,1226.5 263.6,1222.9 C265.6,1219.3 266.3,1216.8 269.0,1210.8 C271.7,1204.8 276.9,1192.5 279.8,1186.9 C282.7,1181.3 284.5,1180.4 286.5,1177.5 C288.5,1174.5 290.3,1172.1 291.9,1169.4 C293.5,1166.7 294.4,1164.2 295.9,1161.3 C297.5,1158.4 299.5,1153.9 301.3,1151.9 C303.1,1149.8 304.9,1149.8 306.7,1149.2 C308.5,1148.5 310.5,1148.7 312.1,1147.8 C313.7,1146.9 314.4,1145.6 316.2,1143.8 C318.0,1142.0 320.4,1138.8 322.9,1137.0 C325.4,1135.2 328.5,1134.6 331.0,1133.0 C333.5,1131.4 335.7,1129.6 337.7,1127.6 C339.7,1125.6 341.1,1122.4 343.1,1120.9 C345.1,1119.3 347.8,1118.8 349.9,1118.2 C351.9,1117.5 353.4,1117.7 355.2,1116.8 C357.0,1115.9 358.8,1113.0 360.6,1112.8 C362.4,1112.6 364.2,1113.7 366.0,1115.5 C367.8,1117.3 369.6,1122.0 371.4,1123.6 C373.2,1125.1 375.0,1125.1 376.8,1124.9 C378.6,1124.7 380.4,1123.1 382.2,1122.2 C384.0,1121.3 386.0,1119.3 387.6,1119.5 C389.2,1119.7 390.3,1122.0 391.6,1123.6 C392.9,1125.1 393.9,1129.7 395.5,1128.7 C397.1,1127.7 399.2,1120.5 401.0,1117.7 C402.8,1115.0 404.7,1112.4 406.5,1112.2 C408.3,1112.0 410.2,1115.0 412.0,1116.3 C413.8,1117.7 415.7,1120.0 417.5,1120.5 C419.3,1120.9 421.1,1120.5 423.0,1119.1 C424.8,1117.7 426.9,1112.2 428.5,1112.2 C430.1,1112.2 431.2,1116.3 432.6,1119.1 C434.0,1121.8 435.1,1126.6 436.7,1128.7 C438.3,1130.8 440.4,1131.5 442.2,1131.5 C444.1,1131.5 445.9,1128.5 447.7,1128.7 C449.5,1128.9 451.4,1130.5 453.2,1132.8 C455.0,1135.1 457.1,1139.7 458.7,1142.5 C460.3,1145.2 461.5,1149.3 462.8,1149.3 C464.2,1149.3 465.4,1144.5 467.0,1142.5 C468.6,1140.4 470.8,1136.0 472.5,1137.0 C474.1,1137.9 475.2,1144.7 476.6,1147.9 C477.9,1151.2 479.1,1155.0 480.7,1156.2 C482.3,1157.3 484.4,1156.0 486.2,1154.8 C488.0,1153.7 489.9,1150.9 491.7,1149.3 C493.5,1147.7 495.1,1144.5 497.2,1145.2 C499.2,1145.9 502.0,1150.9 504.1,1153.4 C506.1,1156.0 507.7,1159.4 509.6,1160.3 C511.4,1161.2 513.4,1160.5 515.1,1158.9 C516.7,1157.3 517.8,1151.8 519.2,1150.7 C520.5,1149.6 521.9,1150.2 523.3,1152.1 C524.7,1153.9 525.8,1158.7 527.4,1161.7 C529.0,1164.7 531.1,1168.1 532.9,1169.9 C534.7,1171.8 536.8,1173.1 538.4,1172.7 C540.0,1172.2 540.9,1169.7 542.5,1167.2 C544.1,1164.7 546.2,1157.1 548.0,1157.6 C549.9,1158.0 551.7,1167.0 553.5,1169.9 C555.4,1172.9 557.2,1175.0 559.0,1175.4 C560.9,1175.9 562.7,1174.5 564.5,1172.7 C566.4,1170.9 568.2,1163.8 570.0,1164.4 C571.9,1165.1 573.7,1174.5 575.5,1176.8 C577.3,1179.1 579.2,1178.4 581.0,1178.2 C582.8,1178.0 584.4,1176.1 586.5,1175.4 C588.6,1174.7 591.1,1174.1 593.4,1174.1 C595.7,1174.1 598.2,1175.4 600.3,1175.4 C602.3,1175.4 603.7,1173.6 605.7,1174.1 C607.8,1174.5 610.1,1178.0 612.6,1178.2 C615.1,1178.4 618.3,1176.3 620.9,1175.4 C623.4,1174.5 625.4,1172.7 627.7,1172.7 C630.0,1172.7 632.3,1174.3 634.6,1175.4 C636.9,1176.6 639.6,1178.2 641.5,1179.6 C643.4,1180.9 645.1,1183.0 645.9,1183.7" fill="none" stroke="#ffff00" stroke-width="3.0" stroke-linejoin="round" stroke-linecap="round"/>
<path d="M161.8,1154.9 C163.0,1157.5 167.1,1163.9 169.2,1170.2 C171.2,1176.5 172.6,1185.0 174.1,1192.8 C175.6,1200.6 177.0,1209.1 178.4,1217.3 C179.8,1225.5 181.2,1233.0 182.6,1241.8 C184.0,1250.6 185.8,1263.0 186.9,1270.0 C188.0,1277.0 188.4,1275.7 189.5,1283.6 C190.6,1291.4 191.9,1305.8 193.5,1317.3 C195.1,1328.7 197.1,1341.5 198.9,1352.3 C200.7,1363.1 202.5,1374.8 204.3,1381.9 C206.1,1389.1 208.1,1392.7 209.7,1395.4 C211.3,1398.1 212.4,1398.1 213.7,1398.1 C215.1,1398.1 216.4,1397.4 217.8,1395.4 C219.1,1393.4 220.5,1390.7 221.8,1386.0 C223.2,1381.3 224.5,1373.4 225.9,1367.1 C227.2,1360.8 228.6,1353.6 229.9,1348.2 C231.3,1342.9 232.4,1339.7 233.9,1334.8 C235.5,1329.8 237.5,1325.8 239.3,1318.6 C241.1,1311.4 243.2,1299.1 244.7,1291.6 C246.3,1284.2 247.4,1278.2 248.8,1274.1 C250.1,1270.1 251.2,1269.9 252.8,1267.4 C254.4,1264.9 256.4,1262.4 258.2,1259.3 C260.0,1256.2 262.0,1252.6 263.6,1248.5 C265.2,1244.5 266.1,1239.5 267.6,1235.0 C269.2,1230.5 271.0,1224.9 273.0,1221.6 C275.1,1218.2 277.5,1216.6 279.8,1214.8 C282.0,1213.0 284.3,1213.0 286.5,1210.8 C288.8,1208.6 291.5,1204.6 293.2,1201.7 C295.0,1198.9 295.9,1197.0 297.3,1193.6 C298.6,1190.3 300.2,1184.7 301.3,1181.5 C302.5,1178.4 302.7,1175.2 304.0,1174.8 C305.4,1174.3 307.8,1177.9 309.4,1178.8 C311.0,1179.7 312.3,1181.7 313.5,1180.2 C314.6,1178.6 315.0,1172.7 316.2,1169.4 C317.3,1166.0 318.4,1161.7 320.2,1159.9 C322.0,1158.1 324.7,1158.6 326.9,1158.6 C329.2,1158.6 331.7,1160.2 333.7,1159.9 C335.7,1159.7 337.3,1159.3 339.1,1157.3 C340.9,1155.2 342.7,1151.0 344.5,1147.8 C346.3,1144.7 348.1,1140.9 349.9,1138.4 C351.6,1135.9 353.0,1134.0 355.2,1133.0 C357.5,1132.0 360.2,1132.3 363.3,1132.3 C366.5,1132.3 371.0,1132.8 374.1,1133.0 C377.3,1133.2 379.5,1133.7 382.2,1133.7 C384.9,1133.7 387.8,1133.8 390.3,1133.0 C392.7,1132.2 394.6,1129.7 396.9,1128.7 C399.1,1127.8 401.5,1128.3 403.7,1127.3 C406.0,1126.4 408.6,1122.8 410.6,1123.2 C412.7,1123.7 414.3,1127.6 416.1,1130.1 C417.9,1132.6 419.8,1138.6 421.6,1138.3 C423.4,1138.1 425.5,1131.2 427.1,1128.7 C428.7,1126.2 429.6,1123.2 431.2,1123.2 C432.8,1123.2 434.7,1127.1 436.7,1128.7 C438.8,1130.3 441.5,1132.8 443.6,1132.8 C445.7,1132.8 447.5,1130.3 449.1,1128.7 C450.7,1127.1 451.6,1123.0 453.2,1123.2 C454.8,1123.4 457.1,1127.6 458.7,1130.1 C460.3,1132.6 461.0,1137.0 462.8,1138.3 C464.7,1139.7 467.2,1138.6 469.7,1138.3 C472.2,1138.1 475.2,1136.3 477.9,1137.0 C480.7,1137.6 483.4,1142.0 486.2,1142.5 C488.9,1142.9 491.5,1140.3 494.4,1139.7 C497.4,1139.1 500.9,1139.1 504.1,1139.0 C507.3,1138.9 510.9,1139.2 513.7,1139.0 C516.4,1138.8 518.7,1137.1 520.5,1137.6 C522.4,1138.2 523.3,1140.3 524.7,1142.5 C526.0,1144.6 527.2,1147.7 528.8,1150.7 C530.4,1153.7 532.7,1158.0 534.3,1160.3 C535.9,1162.6 537.0,1164.0 538.4,1164.4 C539.8,1164.9 540.9,1164.4 542.5,1163.1 C544.1,1161.7 546.2,1156.9 548.0,1156.2 C549.9,1155.5 551.7,1157.1 553.5,1158.9 C555.4,1160.8 557.2,1166.5 559.0,1167.2 C560.9,1167.9 562.9,1165.1 564.5,1163.1 C566.1,1161.0 567.0,1154.6 568.6,1154.8 C570.2,1155.0 572.3,1161.0 574.1,1164.4 C576.0,1167.9 577.8,1172.2 579.6,1175.4 C581.5,1178.6 583.3,1182.8 585.1,1183.7 C587.0,1184.6 588.8,1182.3 590.6,1180.9 C592.5,1179.6 594.3,1175.4 596.1,1175.4 C598.0,1175.4 599.8,1179.1 601.6,1180.9 C603.5,1182.8 605.3,1186.4 607.1,1186.4 C609.0,1186.4 610.8,1182.3 612.6,1180.9 C614.5,1179.6 616.3,1178.4 618.1,1178.2 C619.9,1178.0 621.6,1178.4 623.6,1179.6 C625.7,1180.7 628.2,1184.0 630.5,1185.1 C632.8,1186.1 634.8,1185.5 637.4,1185.7 C639.9,1186.0 644.5,1186.3 645.9,1186.4" fill="none" stroke="#ffc000" stroke-width="3.0" stroke-linejoin="round" stroke-linecap="round"/>
<path d="M162.4,1227.1 C163.0,1224.4 164.7,1215.4 166.1,1211.2 C167.5,1207.0 169.5,1202.5 171.0,1202.0 C172.5,1201.5 173.8,1203.5 175.3,1208.1 C176.8,1212.7 178.5,1223.0 180.2,1229.6 C181.9,1236.2 183.8,1241.3 185.7,1247.9 C187.6,1254.5 190.0,1263.4 191.8,1269.3 C193.6,1275.2 194.8,1278.3 196.2,1283.6 C197.6,1288.9 199.1,1295.2 200.3,1301.1 C201.4,1306.9 201.8,1312.1 203.0,1318.6 C204.1,1325.1 205.4,1334.5 207.0,1340.2 C208.6,1345.8 210.8,1351.4 212.4,1352.3 C214.0,1353.2 215.1,1348.9 216.4,1345.6 C217.8,1342.2 218.9,1336.6 220.5,1332.1 C222.0,1327.6 224.1,1323.1 225.9,1318.6 C227.7,1314.1 229.5,1310.1 231.3,1305.1 C233.1,1300.2 234.8,1294.8 236.6,1288.9 C238.4,1283.1 240.5,1275.9 242.0,1270.1 C243.6,1264.2 244.5,1257.3 246.1,1253.9 C247.7,1250.5 249.7,1250.9 251.5,1249.9 C253.3,1248.9 255.1,1248.7 256.9,1247.8 C258.7,1246.9 260.7,1246.6 262.3,1244.5 C263.8,1242.3 264.9,1238.6 266.3,1235.0 C267.6,1231.4 269.0,1225.6 270.3,1222.9 C271.7,1220.2 272.8,1219.8 274.4,1218.9 C276.0,1218.0 277.7,1217.6 279.8,1217.5 C281.8,1217.4 284.7,1218.6 286.5,1218.2 C288.3,1217.7 289.2,1216.7 290.6,1214.8 C291.9,1212.9 292.8,1208.9 294.6,1206.7 C296.4,1204.6 299.3,1203.0 301.3,1201.7 C303.4,1200.4 304.9,1200.8 306.7,1199.0 C308.5,1197.2 310.3,1193.6 312.1,1190.9 C313.9,1188.2 315.7,1184.7 317.5,1182.9 C319.3,1181.1 321.1,1180.6 322.9,1180.2 C324.7,1179.7 326.5,1181.3 328.3,1180.2 C330.1,1179.0 331.7,1175.4 333.7,1173.4 C335.7,1171.4 338.2,1169.6 340.4,1168.0 C342.7,1166.5 344.9,1165.3 347.2,1164.0 C349.4,1162.6 351.6,1160.8 353.9,1159.9 C356.1,1159.0 358.2,1159.3 360.6,1158.6 C363.1,1157.9 366.5,1156.1 368.7,1155.9 C371.0,1155.7 372.5,1156.6 374.1,1157.3 C375.7,1157.9 376.6,1160.6 378.2,1159.9 C379.7,1159.3 382.0,1155.7 383.5,1153.2 C385.1,1150.7 385.4,1147.4 387.6,1145.1 C389.8,1142.9 394.2,1139.9 396.9,1139.7 C399.6,1139.5 401.2,1144.7 403.7,1143.8 C406.3,1142.9 409.2,1134.4 412.0,1134.2 C414.7,1134.0 417.5,1139.9 420.2,1142.5 C423.0,1145.0 425.7,1149.6 428.5,1149.3 C431.2,1149.1 434.0,1143.5 436.7,1141.1 C439.5,1138.7 442.0,1136.0 445.0,1134.9 C447.9,1133.7 451.6,1134.3 454.6,1134.2 C457.6,1134.1 460.3,1135.1 462.8,1134.2 C465.4,1133.3 467.6,1128.7 469.7,1128.7 C471.8,1128.7 473.4,1132.1 475.2,1134.2 C477.0,1136.3 478.4,1139.4 480.7,1141.1 C483.0,1142.8 485.7,1143.9 488.9,1144.5 C492.1,1145.1 497.0,1144.2 499.9,1144.5 C502.9,1144.9 504.7,1145.8 506.8,1146.6 C508.9,1147.4 510.2,1150.0 512.3,1149.3 C514.4,1148.6 516.9,1144.4 519.2,1142.5 C521.5,1140.5 524.2,1138.1 526.0,1137.6 C527.9,1137.2 528.8,1137.5 530.2,1139.7 C531.5,1141.9 532.9,1147.3 534.3,1150.7 C535.7,1154.1 537.0,1159.6 538.4,1160.3 C539.8,1161.0 540.9,1156.7 542.5,1154.8 C544.1,1153.0 546.0,1149.6 548.0,1149.3 C550.1,1149.1 552.6,1150.9 554.9,1153.4 C557.2,1156.0 559.7,1163.1 561.8,1164.4 C563.8,1165.8 565.4,1163.5 567.3,1161.7 C569.1,1159.9 570.9,1156.3 572.8,1153.4 C574.6,1150.6 576.4,1144.1 578.3,1144.5 C580.1,1145.0 582.2,1152.6 583.8,1156.2 C585.4,1159.7 586.1,1164.4 587.9,1165.8 C589.7,1167.2 592.5,1165.4 594.8,1164.4 C597.0,1163.5 599.6,1160.1 601.6,1160.3 C603.7,1160.5 605.5,1162.6 607.1,1165.8 C608.7,1169.0 609.6,1178.2 611.2,1179.6 C612.8,1180.9 614.9,1175.4 616.7,1174.1 C618.6,1172.7 620.2,1171.1 622.2,1171.3 C624.3,1171.5 626.8,1175.4 629.1,1175.4 C631.4,1175.4 633.2,1172.2 636.0,1171.3 C638.8,1170.4 644.2,1170.2 645.9,1169.9" fill="none" stroke="#ff0000" stroke-width="3.0" stroke-linejoin="round" stroke-linecap="round"/>
</g>
<clipPath id="clipB"><rect x="146.6" y="1009.0" width="498.69999999999993" height="416.0"/></clipPath>
<clipPath id="clipC"><rect x="823.3" y="1008.3" width="496.5" height="415.79999999999995"/></clipPath>
<g clip-path="url(#clipC)">
<path d="M831.0,1340.2 C831.7,1339.0 833.7,1335.0 835.1,1333.3 C836.5,1331.6 837.9,1329.4 839.2,1329.9 C840.6,1330.3 842.0,1333.4 843.4,1336.0 C844.7,1338.7 845.9,1343.6 847.5,1345.7 C849.1,1347.7 851.1,1348.6 853.0,1348.4 C854.8,1348.2 857.1,1345.7 858.5,1344.3 C859.9,1342.9 859.9,1341.5 861.2,1340.2 C862.6,1338.8 864.9,1336.5 866.7,1336.0 C868.6,1335.6 870.4,1337.6 872.2,1337.4 C874.1,1337.2 875.7,1334.7 877.7,1334.7 C879.8,1334.7 882.5,1335.4 884.6,1337.4 C886.6,1339.5 888.5,1347.0 890.1,1347.0 C891.7,1347.0 892.8,1339.6 894.2,1337.4 C895.6,1335.2 896.7,1332.8 898.3,1334.0 C899.9,1335.1 902.2,1342.3 903.8,1344.3 C905.4,1346.2 906.1,1346.4 907.9,1345.7 C909.8,1345.0 912.5,1342.0 914.8,1340.2 C917.1,1338.3 919.4,1336.0 921.7,1334.7 C924.0,1333.3 926.3,1333.1 928.6,1331.9 C930.9,1330.8 933.4,1328.7 935.4,1327.8 C937.5,1326.9 939.1,1326.2 940.9,1326.4 C942.8,1326.7 944.6,1327.3 946.4,1329.2 C948.3,1331.0 950.3,1335.1 951.9,1337.4 C953.5,1339.7 954.4,1342.9 956.0,1342.9 C957.6,1342.9 959.5,1339.0 961.5,1337.4 C963.6,1335.8 966.1,1334.0 968.4,1333.3 C970.7,1332.6 973.0,1332.8 975.3,1333.3 C977.6,1333.8 980.1,1334.9 982.2,1336.0 C984.2,1337.2 985.8,1339.0 987.7,1340.2 C989.5,1341.3 991.3,1342.2 993.1,1342.9 C995.0,1343.6 996.4,1343.8 998.6,1344.3 C1000.9,1344.7 1004.1,1346.1 1006.9,1345.7 C1009.6,1345.2 1012.8,1342.9 1015.1,1341.5 C1017.4,1340.2 1018.8,1338.6 1020.6,1337.4 C1022.5,1336.3 1024.3,1334.0 1026.1,1334.7 C1028.0,1335.4 1029.8,1342.0 1031.6,1341.5 C1033.5,1341.1 1035.5,1332.6 1037.1,1331.9 C1038.7,1331.2 1039.6,1334.2 1041.2,1337.4 C1042.8,1340.6 1044.7,1350.2 1046.7,1351.2 C1048.8,1352.1 1051.3,1345.0 1053.6,1342.9 C1055.9,1340.9 1058.2,1339.0 1060.5,1338.8 C1062.8,1338.6 1065.1,1340.6 1067.4,1341.5 C1069.6,1342.5 1072.9,1343.7 1074.2,1344.3 C1075.6,1344.9 1074.4,1345.3 1075.5,1345.3 C1076.6,1345.2 1078.9,1345.1 1081.0,1343.9 C1083.1,1342.8 1085.6,1340.2 1087.9,1338.4 C1090.2,1336.6 1092.7,1333.4 1094.7,1332.9 C1096.8,1332.5 1098.4,1334.3 1100.2,1335.7 C1102.1,1337.0 1104.1,1341.8 1105.7,1341.2 C1107.3,1340.5 1108.5,1333.9 1109.9,1331.5 C1111.2,1329.1 1112.6,1326.5 1114.0,1326.7 C1115.3,1327.0 1116.7,1330.7 1118.1,1332.9 C1119.5,1335.1 1120.6,1338.6 1122.2,1339.8 C1123.8,1340.9 1126.1,1339.6 1127.7,1339.8 C1129.3,1340.0 1130.2,1340.2 1131.8,1341.2 C1133.4,1342.1 1135.3,1345.1 1137.3,1345.3 C1139.4,1345.5 1142.1,1343.5 1144.2,1342.5 C1146.3,1341.6 1147.6,1341.2 1149.7,1339.8 C1151.8,1338.4 1154.5,1335.7 1156.6,1334.3 C1158.6,1332.9 1160.2,1331.5 1162.1,1331.5 C1163.9,1331.5 1165.7,1333.4 1167.6,1334.3 C1169.4,1335.2 1171.2,1336.8 1173.1,1337.0 C1174.9,1337.3 1176.7,1335.4 1178.6,1335.7 C1180.4,1335.9 1182.2,1337.3 1184.1,1338.4 C1185.9,1339.6 1187.5,1341.8 1189.6,1342.5 C1191.6,1343.2 1194.1,1343.0 1196.4,1342.5 C1198.7,1342.1 1201.2,1340.9 1203.3,1339.8 C1205.4,1338.6 1207.0,1336.8 1208.8,1335.7 C1210.6,1334.5 1212.5,1332.7 1214.3,1332.9 C1216.1,1333.1 1218.0,1335.4 1219.8,1337.0 C1221.6,1338.6 1223.5,1341.4 1225.3,1342.5 C1227.1,1343.7 1228.9,1343.9 1230.8,1343.9 C1232.6,1343.9 1234.2,1342.8 1236.3,1342.5 C1238.3,1342.3 1240.9,1342.5 1243.1,1342.5 C1245.4,1342.5 1247.7,1342.8 1250.0,1342.5 C1252.3,1342.3 1254.8,1341.4 1256.9,1341.2 C1259.0,1340.9 1260.8,1342.3 1262.4,1341.2 C1264.0,1340.0 1265.1,1336.4 1266.5,1334.3 C1267.9,1332.2 1269.3,1329.0 1270.6,1328.8 C1272.0,1328.6 1273.4,1331.1 1274.8,1332.9 C1276.1,1334.7 1277.0,1338.4 1278.9,1339.8 C1280.7,1341.2 1283.5,1340.7 1285.7,1341.2 C1288.0,1341.6 1290.3,1342.1 1292.6,1342.5 C1294.9,1343.0 1297.4,1343.2 1299.5,1343.9 C1301.6,1344.6 1303.4,1346.4 1305.0,1346.7 C1306.6,1346.9 1307.5,1347.1 1309.1,1345.3 C1310.7,1343.5 1312.7,1339.3 1314.6,1335.7 C1316.5,1332.0 1319.4,1325.4 1320.4,1323.3" fill="none" stroke="#111111" stroke-width="3.0" stroke-linejoin="round" stroke-linecap="round"/>
<path d="M831.0,1207.0 C831.7,1202.2 833.7,1188.1 835.1,1178.0 C836.5,1167.9 837.9,1155.8 839.2,1146.4 C840.6,1137.0 841.8,1129.2 843.4,1121.7 C845.0,1114.1 847.0,1107.3 848.9,1101.1 C850.7,1094.9 852.5,1089.4 854.4,1084.6 C856.2,1079.8 858.2,1075.2 859.9,1072.2 C861.5,1069.2 862.6,1069.0 864.0,1066.7 C865.3,1064.4 866.6,1061.3 868.1,1058.5 C869.6,1055.6 871.3,1050.5 872.9,1049.5 C874.5,1048.6 876.2,1051.0 877.7,1053.0 C879.2,1054.9 880.5,1056.9 881.8,1061.2 C883.2,1065.6 884.6,1073.1 886.0,1079.1 C887.3,1085.0 888.5,1093.7 890.1,1097.0 C891.7,1100.2 894.0,1097.4 895.6,1098.3 C897.2,1099.2 898.1,1099.9 899.7,1102.5 C901.3,1105.0 903.6,1108.9 905.2,1113.4 C906.8,1118.0 908.2,1123.8 909.3,1129.9 C910.5,1136.1 911.2,1142.5 912.1,1150.5 C913.0,1158.6 913.7,1170.0 914.8,1178.0 C916.0,1186.0 917.3,1193.2 918.9,1198.6 C920.5,1204.1 922.6,1207.8 924.4,1211.0 C926.3,1214.2 928.3,1214.7 929.9,1217.9 C931.5,1221.1 932.9,1225.9 934.1,1230.2 C935.2,1234.6 935.7,1239.4 936.8,1244.0 C938.0,1248.6 939.3,1253.1 940.9,1257.7 C942.5,1262.3 944.8,1266.9 946.4,1271.5 C948.0,1276.0 949.2,1280.6 950.5,1285.2 C951.9,1289.8 953.5,1295.7 954.7,1298.9 C955.8,1302.1 956.3,1304.2 957.4,1304.4 C958.6,1304.7 960.2,1299.9 961.5,1300.3 C962.9,1300.8 964.3,1304.4 965.7,1307.2 C967.0,1309.9 968.4,1314.5 969.8,1316.8 C971.2,1319.1 972.3,1319.8 973.9,1320.9 C975.5,1322.1 977.6,1322.3 979.4,1323.7 C981.2,1325.1 983.3,1327.1 984.9,1329.2 C986.5,1331.2 987.4,1334.7 989.0,1336.0 C990.6,1337.4 992.7,1336.7 994.5,1337.4 C996.4,1338.1 998.2,1338.8 1000.0,1340.2 C1001.9,1341.5 1003.5,1344.5 1005.5,1345.7 C1007.6,1346.8 1010.1,1347.3 1012.4,1347.0 C1014.7,1346.8 1017.0,1344.5 1019.3,1344.3 C1021.5,1344.1 1024.3,1344.7 1026.1,1345.7 C1028.0,1346.6 1028.9,1349.8 1030.3,1349.8 C1031.6,1349.8 1032.8,1347.5 1034.4,1345.7 C1036.0,1343.8 1037.8,1336.7 1039.9,1338.8 C1041.9,1340.9 1044.5,1356.0 1046.7,1358.0 C1049.0,1360.1 1051.1,1352.8 1053.6,1351.2 C1056.1,1349.6 1058.9,1348.6 1061.9,1348.4 C1064.8,1348.2 1069.0,1349.5 1071.5,1349.8 C1074.0,1350.1 1074.8,1349.9 1076.9,1350.1 C1078.9,1350.3 1081.7,1351.1 1083.7,1350.8 C1085.8,1350.4 1087.4,1349.6 1089.2,1348.0 C1091.1,1346.4 1093.1,1342.5 1094.7,1341.2 C1096.3,1339.8 1097.3,1338.4 1098.9,1339.8 C1100.5,1341.2 1102.8,1348.7 1104.4,1349.4 C1106.0,1350.1 1106.9,1345.5 1108.5,1343.9 C1110.1,1342.3 1111.9,1339.8 1114.0,1339.8 C1116.0,1339.8 1118.6,1342.5 1120.8,1343.9 C1123.1,1345.3 1125.4,1346.7 1127.7,1348.0 C1130.0,1349.4 1132.5,1351.2 1134.6,1352.2 C1136.6,1353.1 1138.3,1353.8 1140.1,1353.5 C1141.9,1353.3 1143.5,1351.9 1145.6,1350.8 C1147.6,1349.6 1150.2,1347.6 1152.5,1346.7 C1154.7,1345.7 1157.0,1345.5 1159.3,1345.3 C1161.6,1345.1 1164.1,1345.3 1166.2,1345.3 C1168.3,1345.3 1169.6,1344.8 1171.7,1345.3 C1173.8,1345.7 1176.5,1348.0 1178.6,1348.0 C1180.6,1348.0 1182.5,1346.2 1184.1,1345.3 C1185.7,1344.4 1186.6,1342.5 1188.2,1342.5 C1189.8,1342.5 1192.1,1344.4 1193.7,1345.3 C1195.3,1346.2 1196.0,1348.0 1197.8,1348.0 C1199.6,1348.0 1202.2,1345.5 1204.7,1345.3 C1207.2,1345.1 1210.2,1346.0 1212.9,1346.7 C1215.7,1347.3 1218.4,1348.9 1221.2,1349.4 C1223.9,1349.9 1226.7,1349.4 1229.4,1349.4 C1232.2,1349.4 1234.9,1349.2 1237.7,1349.4 C1240.4,1349.6 1243.1,1350.6 1245.9,1350.8 C1248.6,1351.0 1251.4,1351.2 1254.1,1350.8 C1256.9,1350.3 1259.9,1349.2 1262.4,1348.0 C1264.9,1346.9 1267.0,1344.1 1269.3,1343.9 C1271.5,1343.7 1274.1,1346.0 1276.1,1346.7 C1278.2,1347.3 1279.6,1347.8 1281.6,1348.0 C1283.7,1348.3 1286.2,1348.0 1288.5,1348.0 C1290.8,1348.0 1292.8,1348.0 1295.4,1348.0 C1297.9,1348.0 1300.9,1348.0 1303.6,1348.0 C1306.4,1348.0 1309.6,1348.9 1311.9,1348.0 C1314.1,1347.1 1315.9,1344.1 1317.4,1342.5 C1318.8,1340.9 1319.9,1339.1 1320.4,1338.4" fill="none" stroke="#7030a0" stroke-width="3.0" stroke-linejoin="round" stroke-linecap="round"/>
<path d="M831.0,1261.8 C831.9,1259.5 834.9,1252.7 836.5,1248.1 C838.1,1243.5 839.2,1239.6 840.6,1234.4 C842.0,1229.1 843.6,1222.4 844.7,1216.5 C845.9,1210.5 846.1,1205.1 847.5,1198.6 C848.9,1192.2 851.4,1183.1 853.0,1178.0 C854.6,1173.0 855.5,1170.2 857.1,1168.4 C858.7,1166.6 860.8,1167.0 862.6,1167.0 C864.4,1167.0 866.5,1168.0 868.1,1168.4 C869.7,1168.9 870.8,1170.9 872.2,1169.8 C873.6,1168.6 875.0,1165.0 876.3,1161.5 C877.7,1158.1 879.3,1150.8 880.5,1149.2 C881.6,1147.6 882.1,1148.5 883.2,1151.9 C884.4,1155.4 886.0,1166.1 887.3,1169.8 C888.7,1173.5 889.9,1173.7 891.5,1173.9 C893.1,1174.1 895.1,1172.5 897.0,1171.2 C898.8,1169.8 900.4,1167.3 902.5,1165.7 C904.5,1164.1 907.3,1162.0 909.3,1161.5 C911.4,1161.1 913.2,1161.8 914.8,1162.9 C916.4,1164.1 917.6,1166.6 918.9,1168.4 C920.3,1170.2 921.5,1173.0 923.1,1173.9 C924.7,1174.8 926.7,1173.0 928.6,1173.9 C930.4,1174.8 932.5,1176.7 934.1,1179.4 C935.7,1182.2 936.6,1186.5 938.2,1190.4 C939.8,1194.3 942.1,1198.9 943.7,1202.8 C945.3,1206.7 946.0,1210.1 947.8,1213.7 C949.6,1217.4 952.6,1221.1 954.7,1224.7 C956.7,1228.4 958.6,1232.1 960.2,1235.7 C961.8,1239.4 963.1,1242.8 964.3,1246.7 C965.4,1250.6 966.1,1255.0 967.0,1259.1 C968.0,1263.2 968.9,1267.6 969.8,1271.5 C970.7,1275.4 971.4,1281.1 972.5,1282.5 C973.7,1283.8 975.5,1280.6 976.7,1279.7 C977.8,1278.8 978.3,1276.0 979.4,1277.0 C980.6,1277.9 982.4,1281.5 983.5,1285.2 C984.7,1288.9 985.4,1294.8 986.3,1298.9 C987.2,1303.1 987.9,1307.0 989.0,1309.9 C990.2,1312.9 991.5,1315.0 993.1,1316.8 C994.8,1318.6 996.6,1318.9 998.6,1320.9 C1000.7,1323.0 1003.2,1327.6 1005.5,1329.2 C1007.8,1330.8 1010.3,1330.1 1012.4,1330.5 C1014.4,1331.0 1016.1,1331.0 1017.9,1331.9 C1019.7,1332.8 1021.5,1333.3 1023.4,1336.0 C1025.2,1338.8 1027.0,1347.3 1028.9,1348.4 C1030.7,1349.6 1032.8,1345.2 1034.4,1342.9 C1036.0,1340.6 1037.1,1334.4 1038.5,1334.7 C1039.9,1334.9 1041.2,1340.2 1042.6,1344.3 C1044.0,1348.4 1044.9,1356.7 1046.7,1359.4 C1048.6,1362.2 1051.1,1360.8 1053.6,1360.8 C1056.1,1360.8 1059.1,1360.1 1061.9,1359.4 C1064.6,1358.7 1067.8,1357.0 1070.1,1356.7 C1072.4,1356.4 1073.7,1356.8 1075.5,1357.7 C1077.3,1358.5 1078.9,1360.6 1081.0,1361.8 C1083.1,1362.9 1085.6,1364.3 1087.9,1364.5 C1090.2,1364.8 1092.4,1363.6 1094.7,1363.1 C1097.0,1362.7 1099.3,1362.2 1101.6,1361.8 C1103.9,1361.3 1106.4,1361.1 1108.5,1360.4 C1110.5,1359.7 1111.9,1357.4 1114.0,1357.7 C1116.0,1357.9 1118.6,1361.1 1120.8,1361.8 C1123.1,1362.5 1125.4,1362.2 1127.7,1361.8 C1130.0,1361.3 1132.3,1359.7 1134.6,1359.0 C1136.9,1358.3 1139.4,1357.2 1141.5,1357.7 C1143.5,1358.1 1144.9,1361.8 1147.0,1361.8 C1149.0,1361.8 1151.5,1357.9 1153.8,1357.7 C1156.1,1357.4 1158.4,1359.5 1160.7,1360.4 C1163.0,1361.3 1165.3,1363.1 1167.6,1363.1 C1169.9,1363.1 1172.1,1361.5 1174.4,1360.4 C1176.7,1359.3 1179.0,1356.7 1181.3,1356.3 C1183.6,1355.8 1185.9,1357.0 1188.2,1357.7 C1190.5,1358.3 1192.8,1359.5 1195.1,1360.4 C1197.3,1361.3 1199.4,1362.9 1201.9,1363.1 C1204.4,1363.4 1207.4,1362.0 1210.2,1361.8 C1212.9,1361.5 1215.7,1362.2 1218.4,1361.8 C1221.2,1361.3 1224.1,1358.8 1226.7,1359.0 C1229.2,1359.3 1231.5,1361.8 1233.5,1363.1 C1235.6,1364.5 1237.0,1366.8 1239.0,1367.3 C1241.1,1367.7 1243.6,1366.8 1245.9,1365.9 C1248.2,1365.0 1250.5,1362.7 1252.8,1361.8 C1255.1,1360.9 1257.1,1360.6 1259.6,1360.4 C1262.2,1360.2 1265.1,1360.4 1267.9,1360.4 C1270.6,1360.4 1273.4,1360.6 1276.1,1360.4 C1278.9,1360.2 1281.6,1359.0 1284.4,1359.0 C1287.1,1359.0 1289.9,1359.9 1292.6,1360.4 C1295.4,1360.9 1298.1,1361.3 1300.9,1361.8 C1303.6,1362.2 1306.4,1363.4 1309.1,1363.1 C1311.9,1362.9 1315.5,1361.3 1317.4,1360.4 C1319.2,1359.5 1319.9,1358.1 1320.4,1357.7" fill="none" stroke="#0070c0" stroke-width="3.0" stroke-linejoin="round" stroke-linecap="round"/>
<path d="M831.0,1342.9 C832.1,1343.6 835.6,1347.0 837.9,1347.0 C840.2,1347.0 842.4,1344.5 844.7,1342.9 C847.0,1341.3 849.3,1338.6 851.6,1337.4 C853.9,1336.3 856.2,1335.8 858.5,1336.0 C860.8,1336.3 863.3,1338.6 865.3,1338.8 C867.4,1339.0 868.8,1338.8 870.8,1337.4 C872.9,1336.0 875.4,1332.8 877.7,1330.5 C880.0,1328.3 882.5,1325.3 884.6,1323.7 C886.6,1322.1 888.0,1321.2 890.1,1320.9 C892.1,1320.7 894.9,1323.2 897.0,1322.3 C899.0,1321.4 900.8,1318.9 902.5,1315.4 C904.1,1312.0 905.2,1306.7 906.6,1301.7 C907.9,1296.7 909.3,1290.0 910.7,1285.2 C912.1,1280.4 913.0,1276.0 914.8,1272.8 C916.7,1269.6 919.4,1268.7 921.7,1266.0 C924.0,1263.2 926.5,1259.8 928.6,1256.3 C930.6,1252.9 932.2,1248.8 934.1,1245.3 C935.9,1241.9 937.5,1236.8 939.6,1235.7 C941.6,1234.7 944.4,1239.4 946.4,1239.2 C948.5,1238.9 950.3,1235.8 951.9,1234.4 C953.5,1232.9 954.4,1230.0 956.0,1230.2 C957.6,1230.5 959.7,1233.9 961.5,1235.7 C963.4,1237.6 965.2,1239.6 967.0,1241.2 C968.9,1242.8 970.7,1245.3 972.5,1245.3 C974.4,1245.3 976.2,1241.5 978.0,1241.2 C979.9,1241.0 981.9,1242.1 983.5,1244.0 C985.1,1245.8 986.0,1249.0 987.7,1252.2 C989.3,1255.4 991.3,1260.7 993.1,1263.2 C995.0,1265.7 996.6,1266.4 998.6,1267.3 C1000.7,1268.3 1003.2,1268.7 1005.5,1268.7 C1007.8,1268.7 1010.3,1266.6 1012.4,1267.3 C1014.4,1268.0 1016.3,1270.5 1017.9,1272.8 C1019.5,1275.1 1020.6,1277.2 1022.0,1281.1 C1023.4,1285.0 1024.8,1291.2 1026.1,1296.2 C1027.5,1301.2 1028.9,1308.6 1030.3,1311.3 C1031.6,1314.1 1032.8,1313.1 1034.4,1312.7 C1036.0,1312.2 1038.0,1307.9 1039.9,1308.6 C1041.7,1309.2 1043.5,1313.6 1045.4,1316.8 C1047.2,1320.0 1049.0,1324.1 1050.9,1327.8 C1052.7,1331.5 1054.5,1336.0 1056.4,1338.8 C1058.2,1341.5 1059.6,1343.1 1061.9,1344.3 C1064.1,1345.4 1067.8,1345.3 1070.1,1345.7 C1072.4,1346.1 1073.7,1346.3 1075.5,1346.7 C1077.3,1347.1 1078.9,1347.3 1081.0,1348.0 C1083.1,1348.7 1085.8,1349.4 1087.9,1350.8 C1089.9,1352.2 1091.5,1354.2 1093.4,1356.3 C1095.2,1358.3 1097.0,1361.5 1098.9,1363.1 C1100.7,1364.8 1102.3,1366.4 1104.4,1365.9 C1106.4,1365.4 1109.2,1361.3 1111.2,1360.4 C1113.3,1359.5 1114.9,1359.9 1116.7,1360.4 C1118.6,1360.9 1120.2,1362.5 1122.2,1363.1 C1124.3,1363.8 1126.8,1364.8 1129.1,1364.5 C1131.4,1364.3 1133.7,1362.7 1136.0,1361.8 C1138.3,1360.9 1140.8,1359.0 1142.8,1359.0 C1144.9,1359.0 1146.3,1360.9 1148.3,1361.8 C1150.4,1362.7 1152.7,1363.8 1155.2,1364.5 C1157.7,1365.2 1160.9,1365.2 1163.4,1365.9 C1166.0,1366.6 1168.3,1368.9 1170.3,1368.6 C1172.4,1368.4 1174.0,1365.9 1175.8,1364.5 C1177.6,1363.1 1179.5,1360.6 1181.3,1360.4 C1183.1,1360.2 1184.7,1362.5 1186.8,1363.1 C1188.9,1363.8 1191.2,1364.3 1193.7,1364.5 C1196.2,1364.8 1199.4,1364.8 1201.9,1364.5 C1204.4,1364.3 1206.7,1363.6 1208.8,1363.1 C1210.9,1362.7 1212.2,1361.5 1214.3,1361.8 C1216.4,1362.0 1218.6,1364.1 1221.2,1364.5 C1223.7,1365.0 1226.7,1364.1 1229.4,1364.5 C1232.2,1365.0 1234.9,1367.0 1237.7,1367.3 C1240.4,1367.5 1243.1,1366.8 1245.9,1365.9 C1248.6,1365.0 1251.4,1362.7 1254.1,1361.8 C1256.9,1360.9 1259.9,1360.9 1262.4,1360.4 C1264.9,1359.9 1266.7,1359.3 1269.3,1359.0 C1271.8,1358.8 1275.0,1359.0 1277.5,1359.0 C1280.0,1359.0 1282.3,1358.6 1284.4,1359.0 C1286.4,1359.5 1288.0,1360.6 1289.9,1361.8 C1291.7,1362.9 1293.1,1365.7 1295.4,1365.9 C1297.7,1366.1 1300.9,1362.9 1303.6,1363.1 C1306.4,1363.4 1309.6,1367.3 1311.9,1367.3 C1314.1,1367.3 1315.9,1364.5 1317.4,1363.1 C1318.8,1361.8 1319.9,1359.7 1320.4,1359.0" fill="none" stroke="#00b0f0" stroke-width="3.0" stroke-linejoin="round" stroke-linecap="round"/>
<path d="M831.0,1382.8 C832.6,1383.5 837.4,1385.7 840.6,1386.9 C843.8,1388.0 846.8,1389.0 850.2,1389.6 C853.7,1390.3 857.6,1390.9 861.2,1391.0 C864.9,1391.1 869.0,1391.0 872.2,1390.3 C875.4,1389.6 877.7,1387.9 880.5,1386.9 C883.2,1385.9 886.0,1384.8 888.7,1384.1 C891.5,1383.5 894.4,1383.2 897.0,1382.8 C899.5,1382.3 902.0,1383.2 903.8,1381.4 C905.7,1379.6 906.6,1375.7 907.9,1371.8 C909.3,1367.9 910.7,1360.8 912.1,1358.0 C913.4,1355.3 914.6,1356.0 916.2,1355.3 C917.8,1354.6 920.1,1356.2 921.7,1353.9 C923.3,1351.6 924.4,1345.4 925.8,1341.5 C927.2,1337.6 928.3,1333.5 929.9,1330.5 C931.5,1327.6 933.6,1325.5 935.4,1323.7 C937.3,1321.8 939.1,1320.7 940.9,1319.6 C942.8,1318.4 944.6,1318.2 946.4,1316.8 C948.3,1315.4 950.1,1313.4 951.9,1311.3 C953.8,1309.2 955.6,1307.0 957.4,1304.4 C959.3,1301.9 961.3,1298.9 962.9,1296.2 C964.5,1293.4 965.9,1291.6 967.0,1287.9 C968.2,1284.3 968.9,1278.1 969.8,1274.2 C970.7,1270.3 971.4,1266.0 972.5,1264.6 C973.7,1263.2 975.3,1265.0 976.7,1266.0 C978.0,1266.9 979.6,1271.0 980.8,1270.1 C981.9,1269.2 982.6,1264.6 983.5,1260.5 C984.4,1256.3 985.2,1248.1 986.3,1245.3 C987.3,1242.6 988.6,1242.4 989.7,1244.0 C990.9,1245.6 991.9,1251.1 993.1,1255.0 C994.4,1258.9 995.9,1266.9 997.3,1267.3 C998.6,1267.8 1000.0,1261.2 1001.4,1257.7 C1002.8,1254.3 1004.1,1247.6 1005.5,1246.7 C1006.9,1245.8 1008.3,1249.9 1009.6,1252.2 C1011.0,1254.5 1012.4,1259.3 1013.8,1260.5 C1015.1,1261.6 1016.5,1259.8 1017.9,1259.1 C1019.3,1258.4 1020.6,1255.9 1022.0,1256.3 C1023.4,1256.8 1024.8,1259.5 1026.1,1261.8 C1027.5,1264.1 1028.6,1268.7 1030.3,1270.1 C1031.9,1271.5 1034.1,1270.5 1035.7,1270.1 C1037.4,1269.6 1038.3,1266.2 1039.9,1267.3 C1041.5,1268.5 1043.5,1273.5 1045.4,1277.0 C1047.2,1280.4 1049.0,1284.7 1050.9,1287.9 C1052.7,1291.2 1054.5,1294.4 1056.4,1296.2 C1058.2,1298.0 1060.0,1297.8 1061.9,1298.9 C1063.7,1300.1 1065.5,1301.5 1067.4,1303.1 C1069.2,1304.7 1071.5,1307.3 1072.9,1308.6 C1074.2,1309.9 1074.1,1310.1 1075.5,1310.9 C1076.9,1311.8 1079.2,1312.8 1081.0,1313.7 C1082.8,1314.6 1084.7,1314.8 1086.5,1316.4 C1088.3,1318.0 1090.2,1320.3 1092.0,1323.3 C1093.8,1326.3 1095.7,1331.5 1097.5,1334.3 C1099.3,1337.0 1101.1,1338.4 1103.0,1339.8 C1104.8,1341.2 1106.6,1342.1 1108.5,1342.5 C1110.3,1343.0 1112.1,1342.3 1114.0,1342.5 C1115.8,1342.8 1117.6,1343.2 1119.5,1343.9 C1121.3,1344.6 1123.1,1346.0 1125.0,1346.7 C1126.8,1347.3 1128.6,1348.0 1130.5,1348.0 C1132.3,1348.0 1134.1,1347.1 1136.0,1346.7 C1137.8,1346.2 1139.6,1344.4 1141.5,1345.3 C1143.3,1346.2 1145.1,1351.5 1147.0,1352.2 C1148.8,1352.8 1150.8,1350.1 1152.5,1349.4 C1154.1,1348.7 1155.2,1347.3 1156.6,1348.0 C1157.9,1348.7 1159.1,1351.5 1160.7,1353.5 C1162.3,1355.6 1164.4,1359.0 1166.2,1360.4 C1168.0,1361.8 1169.9,1362.0 1171.7,1361.8 C1173.5,1361.5 1175.4,1360.2 1177.2,1359.0 C1179.0,1357.9 1180.9,1355.8 1182.7,1354.9 C1184.5,1354.0 1186.3,1352.8 1188.2,1353.5 C1190.0,1354.2 1192.1,1357.4 1193.7,1359.0 C1195.3,1360.6 1196.0,1363.1 1197.8,1363.1 C1199.6,1363.1 1202.4,1360.6 1204.7,1359.0 C1207.0,1357.4 1209.5,1353.3 1211.5,1353.5 C1213.6,1353.8 1215.4,1358.1 1217.0,1360.4 C1218.6,1362.7 1219.6,1366.8 1221.2,1367.3 C1222.8,1367.7 1224.8,1364.5 1226.7,1363.1 C1228.5,1361.8 1230.3,1360.4 1232.2,1359.0 C1234.0,1357.7 1235.8,1354.9 1237.7,1354.9 C1239.5,1354.9 1241.3,1357.9 1243.1,1359.0 C1245.0,1360.2 1246.8,1362.2 1248.6,1361.8 C1250.5,1361.3 1252.1,1356.7 1254.1,1356.3 C1256.2,1355.8 1258.7,1359.0 1261.0,1359.0 C1263.3,1359.0 1265.8,1357.0 1267.9,1356.3 C1269.9,1355.6 1271.3,1354.9 1273.4,1354.9 C1275.4,1354.9 1278.0,1356.5 1280.3,1356.3 C1282.5,1356.0 1284.8,1353.5 1287.1,1353.5 C1289.4,1353.5 1291.7,1356.5 1294.0,1356.3 C1296.3,1356.0 1298.8,1353.1 1300.9,1352.2 C1302.9,1351.2 1304.5,1350.3 1306.4,1350.8 C1308.2,1351.2 1310.0,1354.7 1311.9,1354.9 C1313.7,1355.1 1315.9,1354.2 1317.4,1352.2 C1318.8,1350.1 1319.9,1344.1 1320.4,1342.5" fill="none" stroke="#00b050" stroke-width="3.0" stroke-linejoin="round" stroke-linecap="round"/>
<path d="M831.0,1391.0 C832.1,1390.3 835.6,1386.9 837.9,1386.9 C840.2,1386.9 842.0,1390.1 844.7,1391.0 C847.5,1391.9 851.1,1392.0 854.4,1392.4 C857.6,1392.7 860.5,1392.8 864.0,1393.1 C867.4,1393.3 871.8,1393.9 875.0,1393.8 C878.2,1393.6 880.2,1392.7 883.2,1392.4 C886.2,1392.0 889.6,1391.7 892.8,1391.7 C896.0,1391.7 900.2,1392.3 902.5,1392.4 C904.7,1392.5 905.2,1393.5 906.6,1392.4 C907.9,1391.2 909.3,1387.8 910.7,1385.5 C912.1,1383.2 913.2,1379.6 914.8,1378.6 C916.4,1377.7 918.7,1380.2 920.3,1380.0 C921.9,1379.8 923.1,1379.3 924.4,1377.3 C925.8,1375.2 927.0,1370.2 928.6,1367.7 C930.2,1365.1 932.2,1364.0 934.1,1362.2 C935.9,1360.3 937.5,1358.5 939.6,1356.7 C941.6,1354.8 944.1,1353.2 946.4,1351.2 C948.7,1349.1 951.0,1346.8 953.3,1344.3 C955.6,1341.8 958.1,1339.3 960.2,1336.0 C962.2,1332.8 964.1,1328.7 965.7,1325.1 C967.3,1321.4 968.2,1316.3 969.8,1314.1 C971.4,1311.8 973.5,1312.5 975.3,1311.3 C977.1,1310.2 979.2,1309.7 980.8,1307.2 C982.4,1304.7 983.5,1298.7 984.9,1296.2 C986.3,1293.7 987.7,1292.1 989.0,1292.1 C990.4,1292.1 991.8,1295.7 993.1,1296.2 C994.5,1296.7 995.9,1297.1 997.3,1294.8 C998.6,1292.5 1000.0,1285.4 1001.4,1282.5 C1002.8,1279.5 1004.1,1277.0 1005.5,1277.0 C1006.9,1277.0 1008.3,1281.1 1009.6,1282.5 C1011.0,1283.8 1012.4,1285.7 1013.8,1285.2 C1015.1,1284.7 1016.3,1282.0 1017.9,1279.7 C1019.5,1277.4 1021.3,1273.5 1023.4,1271.5 C1025.4,1269.4 1028.0,1268.4 1030.3,1267.3 C1032.5,1266.3 1034.8,1266.0 1037.1,1265.3 C1039.4,1264.6 1041.7,1263.3 1044.0,1263.2 C1046.3,1263.1 1048.8,1263.9 1050.9,1264.6 C1052.9,1265.3 1054.5,1268.0 1056.4,1267.3 C1058.2,1266.6 1060.0,1262.3 1061.9,1260.5 C1063.7,1258.6 1065.3,1256.6 1067.4,1256.3 C1069.4,1256.1 1072.9,1258.2 1074.2,1259.1 C1075.6,1259.9 1074.4,1259.5 1075.5,1261.5 C1076.6,1263.5 1079.2,1269.9 1081.0,1271.1 C1082.8,1272.2 1084.7,1268.1 1086.5,1268.3 C1088.3,1268.6 1090.2,1269.5 1092.0,1272.5 C1093.8,1275.4 1095.7,1283.0 1097.5,1286.2 C1099.3,1289.4 1100.9,1290.3 1103.0,1291.7 C1105.0,1293.1 1107.8,1293.1 1109.9,1294.4 C1111.9,1295.8 1113.5,1297.6 1115.3,1299.9 C1117.2,1302.2 1119.2,1306.6 1120.8,1308.2 C1122.4,1309.8 1123.4,1310.2 1125.0,1309.6 C1126.6,1308.9 1128.4,1305.2 1130.5,1304.1 C1132.5,1302.9 1135.5,1302.5 1137.3,1302.7 C1139.2,1302.9 1140.1,1303.1 1141.5,1305.4 C1142.8,1307.7 1144.0,1314.4 1145.6,1316.4 C1147.2,1318.5 1149.2,1317.8 1151.1,1317.8 C1152.9,1317.8 1154.7,1315.7 1156.6,1316.4 C1158.4,1317.1 1160.2,1319.9 1162.1,1321.9 C1163.9,1324.0 1165.7,1327.2 1167.6,1328.8 C1169.4,1330.4 1171.0,1332.0 1173.1,1331.5 C1175.1,1331.1 1177.9,1326.5 1179.9,1326.0 C1182.0,1325.6 1183.6,1327.2 1185.4,1328.8 C1187.3,1330.4 1189.1,1333.4 1190.9,1335.7 C1192.8,1338.0 1194.6,1341.4 1196.4,1342.5 C1198.3,1343.7 1200.1,1343.5 1201.9,1342.5 C1203.8,1341.6 1205.6,1338.6 1207.4,1337.0 C1209.3,1335.4 1211.3,1332.7 1212.9,1332.9 C1214.5,1333.1 1215.7,1336.1 1217.0,1338.4 C1218.4,1340.7 1219.6,1345.1 1221.2,1346.7 C1222.8,1348.3 1224.8,1348.7 1226.7,1348.0 C1228.5,1347.3 1230.3,1344.1 1232.2,1342.5 C1234.0,1340.9 1235.8,1338.2 1237.7,1338.4 C1239.5,1338.6 1241.3,1342.5 1243.1,1343.9 C1245.0,1345.3 1246.4,1346.4 1248.6,1346.7 C1250.9,1346.9 1254.1,1345.5 1256.9,1345.3 C1259.6,1345.1 1262.6,1345.7 1265.1,1345.3 C1267.7,1344.8 1269.7,1343.0 1272.0,1342.5 C1274.3,1342.1 1276.4,1342.3 1278.9,1342.5 C1281.4,1342.8 1284.4,1343.9 1287.1,1343.9 C1289.9,1343.9 1292.8,1343.7 1295.4,1342.5 C1297.9,1341.4 1299.9,1338.0 1302.2,1337.0 C1304.5,1336.1 1307.0,1337.3 1309.1,1337.0 C1311.2,1336.8 1313.2,1336.6 1314.6,1335.7 C1316.0,1334.7 1316.4,1333.1 1317.4,1331.5 C1318.3,1329.9 1319.9,1327.0 1320.4,1326.0" fill="none" stroke="#92d050" stroke-width="3.0" stroke-linejoin="round" stroke-linecap="round"/>
<path d="M831.0,1375.9 C832.1,1376.0 835.8,1375.7 837.9,1376.6 C839.9,1377.5 841.3,1380.1 843.4,1381.4 C845.4,1382.7 847.7,1383.8 850.2,1384.1 C852.8,1384.5 855.5,1383.6 858.5,1383.5 C861.5,1383.3 865.3,1383.3 868.1,1383.5 C870.8,1383.6 873.1,1383.1 875.0,1384.1 C876.8,1385.2 877.3,1388.5 879.1,1389.6 C880.9,1390.8 883.4,1390.9 886.0,1391.0 C888.5,1391.1 891.5,1390.6 894.2,1390.3 C897.0,1390.1 900.2,1390.4 902.5,1389.6 C904.7,1388.8 906.3,1387.3 907.9,1385.5 C909.6,1383.7 910.7,1380.2 912.1,1378.6 C913.4,1377.0 914.4,1376.8 916.2,1375.9 C918.0,1375.0 920.8,1373.8 923.1,1373.1 C925.4,1372.5 927.9,1372.7 929.9,1371.8 C932.0,1370.9 933.6,1369.0 935.4,1367.7 C937.3,1366.3 938.9,1365.1 940.9,1363.5 C943.0,1361.9 945.5,1359.4 947.8,1358.0 C950.1,1356.7 952.8,1356.4 954.7,1355.3 C956.5,1354.1 957.4,1353.0 958.8,1351.2 C960.2,1349.3 961.3,1345.7 962.9,1344.3 C964.5,1342.9 966.6,1343.6 968.4,1342.9 C970.2,1342.2 972.1,1341.8 973.9,1340.2 C975.7,1338.6 977.6,1335.6 979.4,1333.3 C981.2,1331.0 983.1,1328.7 984.9,1326.4 C986.7,1324.1 988.6,1322.1 990.4,1319.6 C992.2,1317.0 994.1,1312.9 995.9,1311.3 C997.7,1309.7 999.8,1310.4 1001.4,1309.9 C1003.0,1309.5 1004.1,1310.4 1005.5,1308.6 C1006.9,1306.7 1008.0,1301.7 1009.6,1298.9 C1011.2,1296.2 1013.3,1293.2 1015.1,1292.1 C1017.0,1290.9 1018.8,1293.0 1020.6,1292.1 C1022.5,1291.2 1024.1,1288.4 1026.1,1286.6 C1028.2,1284.7 1030.7,1282.9 1033.0,1281.1 C1035.3,1279.2 1037.6,1277.2 1039.9,1275.6 C1042.2,1274.0 1044.5,1273.1 1046.7,1271.5 C1049.0,1269.9 1051.6,1267.6 1053.6,1266.0 C1055.7,1264.4 1057.3,1263.0 1059.1,1261.8 C1060.9,1260.7 1063.0,1260.7 1064.6,1259.1 C1066.2,1257.5 1067.4,1254.5 1068.7,1252.2 C1070.1,1249.9 1071.7,1245.6 1072.9,1245.3 C1074.0,1245.1 1074.1,1248.9 1075.5,1250.5 C1076.9,1252.0 1078.9,1253.4 1081.0,1254.6 C1083.1,1255.7 1085.6,1258.0 1087.9,1257.3 C1090.2,1256.6 1092.7,1251.4 1094.7,1250.5 C1096.8,1249.5 1098.2,1252.1 1100.2,1251.8 C1102.3,1251.6 1105.0,1250.5 1107.1,1249.1 C1109.2,1247.7 1111.0,1243.6 1112.6,1243.6 C1114.2,1243.6 1115.3,1245.9 1116.7,1249.1 C1118.1,1252.3 1119.5,1259.9 1120.8,1262.8 C1122.2,1265.8 1123.1,1266.5 1125.0,1267.0 C1126.8,1267.4 1129.5,1266.0 1131.8,1265.6 C1134.1,1265.1 1136.4,1264.2 1138.7,1264.2 C1141.0,1264.2 1143.7,1264.2 1145.6,1265.6 C1147.4,1267.0 1148.3,1269.9 1149.7,1272.5 C1151.1,1275.0 1152.5,1280.0 1153.8,1280.7 C1155.2,1281.4 1156.6,1277.9 1157.9,1276.6 C1159.3,1275.2 1160.7,1272.0 1162.1,1272.5 C1163.4,1272.9 1164.8,1276.6 1166.2,1279.3 C1167.6,1282.1 1168.5,1286.7 1170.3,1288.9 C1172.1,1291.2 1174.7,1292.8 1177.2,1293.1 C1179.7,1293.3 1183.1,1290.1 1185.4,1290.3 C1187.7,1290.5 1189.1,1292.8 1190.9,1294.4 C1192.8,1296.0 1194.8,1297.6 1196.4,1299.9 C1198.0,1302.2 1199.2,1305.9 1200.5,1308.2 C1201.9,1310.5 1203.3,1313.7 1204.7,1313.7 C1206.0,1313.7 1207.4,1309.8 1208.8,1308.2 C1210.2,1306.6 1211.5,1303.8 1212.9,1304.1 C1214.3,1304.3 1215.4,1308.2 1217.0,1309.6 C1218.6,1310.9 1220.5,1312.3 1222.5,1312.3 C1224.6,1312.3 1227.3,1309.8 1229.4,1309.6 C1231.5,1309.3 1233.3,1309.6 1234.9,1310.9 C1236.5,1312.3 1237.7,1315.1 1239.0,1317.8 C1240.4,1320.5 1241.8,1325.1 1243.1,1327.4 C1244.5,1329.7 1245.7,1332.0 1247.3,1331.5 C1248.9,1331.1 1250.7,1326.3 1252.8,1324.7 C1254.8,1323.1 1257.1,1322.6 1259.6,1321.9 C1262.2,1321.2 1265.1,1321.0 1267.9,1320.5 C1270.6,1320.1 1273.4,1319.6 1276.1,1319.2 C1278.9,1318.7 1281.6,1317.3 1284.4,1317.8 C1287.1,1318.3 1289.9,1321.0 1292.6,1321.9 C1295.4,1322.8 1298.1,1323.3 1300.9,1323.3 C1303.6,1323.3 1306.8,1322.6 1309.1,1321.9 C1311.4,1321.2 1313.0,1321.0 1314.6,1319.2 C1316.2,1317.3 1317.8,1312.8 1318.7,1310.9 C1319.7,1309.1 1320.1,1308.6 1320.4,1308.2" fill="none" stroke="#ffff00" stroke-width="3.0" stroke-linejoin="round" stroke-linecap="round"/>
<path d="M831.0,1315.4 C832.1,1315.0 835.8,1314.1 837.9,1312.7 C839.9,1311.3 841.5,1309.5 843.4,1307.2 C845.2,1304.9 847.0,1301.5 848.9,1298.9 C850.7,1296.4 852.5,1293.6 854.4,1292.1 C856.2,1290.6 858.0,1289.8 859.9,1290.0 C861.7,1290.2 863.7,1291.3 865.3,1293.4 C867.0,1295.6 868.1,1299.6 869.5,1303.1 C870.8,1306.5 872.2,1310.9 873.6,1314.1 C875.0,1317.3 876.3,1319.6 877.7,1322.3 C879.1,1325.1 880.5,1327.3 881.8,1330.5 C883.2,1333.8 884.6,1338.3 886.0,1341.5 C887.3,1344.7 888.3,1348.2 890.1,1349.8 C891.9,1351.4 894.7,1351.2 897.0,1351.2 C899.2,1351.2 902.0,1349.3 903.8,1349.8 C905.7,1350.2 906.6,1352.1 907.9,1353.9 C909.3,1355.7 910.7,1359.2 912.1,1360.8 C913.4,1362.4 914.6,1363.5 916.2,1363.5 C917.8,1363.5 919.9,1360.6 921.7,1360.8 C923.5,1361.0 925.6,1363.9 927.2,1364.9 C928.8,1365.9 929.7,1367.2 931.3,1367.0 C932.9,1366.7 934.7,1364.3 936.8,1363.5 C938.9,1362.7 941.2,1362.4 943.7,1362.2 C946.2,1361.9 949.2,1362.5 951.9,1362.2 C954.7,1361.8 957.4,1360.8 960.2,1360.1 C962.9,1359.4 965.7,1359.3 968.4,1358.0 C971.2,1356.8 974.4,1354.6 976.7,1352.5 C978.9,1350.5 980.6,1348.6 982.2,1345.7 C983.8,1342.7 984.9,1337.4 986.3,1334.7 C987.7,1331.9 988.8,1330.1 990.4,1329.2 C992.0,1328.3 994.1,1328.7 995.9,1329.2 C997.7,1329.6 999.6,1331.5 1001.4,1331.9 C1003.2,1332.4 1005.1,1333.3 1006.9,1331.9 C1008.7,1330.5 1010.6,1326.9 1012.4,1323.7 C1014.2,1320.5 1016.1,1315.7 1017.9,1312.7 C1019.7,1309.7 1021.5,1307.6 1023.4,1305.8 C1025.2,1304.0 1027.0,1302.8 1028.9,1301.7 C1030.7,1300.5 1032.5,1299.9 1034.4,1298.9 C1036.2,1298.0 1038.0,1296.0 1039.9,1296.2 C1041.7,1296.4 1043.8,1299.9 1045.4,1300.3 C1047.0,1300.8 1048.1,1301.0 1049.5,1298.9 C1050.9,1296.9 1052.2,1290.7 1053.6,1287.9 C1055.0,1285.2 1056.4,1282.9 1057.7,1282.5 C1059.1,1282.0 1060.5,1284.3 1061.9,1285.2 C1063.2,1286.1 1064.8,1289.3 1066.0,1287.9 C1067.1,1286.6 1067.6,1280.6 1068.7,1277.0 C1069.9,1273.3 1071.3,1266.9 1072.9,1266.0 C1074.4,1265.0 1076.4,1269.5 1078.2,1271.1 C1080.1,1272.6 1081.9,1275.0 1083.7,1275.2 C1085.6,1275.4 1087.6,1274.7 1089.2,1272.5 C1090.8,1270.2 1092.0,1264.7 1093.4,1261.5 C1094.7,1258.3 1095.7,1254.1 1097.5,1253.2 C1099.3,1252.3 1102.5,1256.4 1104.4,1256.0 C1106.2,1255.5 1107.1,1252.5 1108.5,1250.5 C1109.9,1248.4 1111.0,1243.8 1112.6,1243.6 C1114.2,1243.4 1116.5,1247.5 1118.1,1249.1 C1119.7,1250.7 1120.2,1252.9 1122.2,1253.2 C1124.3,1253.6 1127.7,1251.2 1130.5,1251.2 C1133.2,1251.2 1136.0,1252.4 1138.7,1253.2 C1141.5,1254.0 1144.4,1254.9 1147.0,1256.0 C1149.5,1257.0 1151.5,1259.3 1153.8,1259.4 C1156.1,1259.5 1158.6,1256.3 1160.7,1256.6 C1162.8,1257.0 1164.4,1259.5 1166.2,1261.5 C1168.0,1263.4 1169.6,1267.0 1171.7,1268.3 C1173.8,1269.7 1176.5,1270.6 1178.6,1269.7 C1180.6,1268.8 1182.5,1265.1 1184.1,1262.8 C1185.7,1260.5 1186.8,1255.3 1188.2,1256.0 C1189.6,1256.6 1191.2,1263.1 1192.3,1267.0 C1193.4,1270.8 1193.9,1276.8 1195.1,1279.3 C1196.2,1281.8 1197.3,1282.1 1199.2,1282.1 C1201.0,1282.1 1204.0,1280.7 1206.0,1279.3 C1208.1,1277.9 1209.7,1274.1 1211.5,1273.8 C1213.4,1273.6 1215.4,1276.1 1217.0,1277.9 C1218.6,1279.8 1219.6,1283.2 1221.2,1284.8 C1222.8,1286.4 1224.8,1287.8 1226.7,1287.6 C1228.5,1287.3 1230.6,1284.6 1232.2,1283.4 C1233.8,1282.3 1234.9,1280.2 1236.3,1280.7 C1237.7,1281.2 1239.0,1283.7 1240.4,1286.2 C1241.8,1288.7 1243.1,1293.1 1244.5,1295.8 C1245.9,1298.6 1247.3,1301.3 1248.6,1302.7 C1250.0,1304.1 1251.2,1305.4 1252.8,1304.1 C1254.4,1302.7 1256.7,1297.4 1258.3,1294.4 C1259.9,1291.5 1261.0,1286.0 1262.4,1286.2 C1263.8,1286.4 1265.1,1292.6 1266.5,1295.8 C1267.9,1299.0 1268.8,1303.4 1270.6,1305.4 C1272.5,1307.5 1275.2,1307.3 1277.5,1308.2 C1279.8,1309.1 1282.3,1310.5 1284.4,1310.9 C1286.4,1311.4 1287.8,1311.6 1289.9,1310.9 C1291.9,1310.2 1294.5,1307.3 1296.7,1306.8 C1299.0,1306.3 1301.1,1307.0 1303.6,1308.2 C1306.1,1309.3 1309.6,1313.0 1311.9,1313.7 C1314.1,1314.4 1315.9,1313.0 1317.4,1312.3 C1318.8,1311.6 1319.9,1310.0 1320.4,1309.6" fill="none" stroke="#ffc000" stroke-width="3.0" stroke-linejoin="round" stroke-linecap="round"/>
<path d="M831.0,1213.7 C831.3,1212.4 832.4,1210.3 833.1,1205.5 C833.7,1200.7 834.1,1192.9 835.1,1184.9 C836.1,1176.9 837.9,1166.6 839.2,1157.4 C840.6,1148.3 842.0,1138.6 843.4,1129.9 C844.7,1121.2 845.9,1112.8 847.5,1105.2 C849.1,1097.6 851.4,1091.2 853.0,1084.6 C854.6,1077.9 855.8,1071.5 857.1,1065.3 C858.4,1059.2 859.4,1051.8 860.5,1047.5 C861.7,1043.1 862.8,1038.8 864.0,1039.2 C865.1,1039.7 866.4,1044.7 867.4,1050.2 C868.4,1055.7 869.2,1065.3 870.2,1072.2 C871.1,1079.1 871.9,1086.4 872.9,1091.5 C873.9,1096.5 875.1,1098.8 876.3,1102.5 C877.6,1106.1 879.1,1108.9 880.5,1113.4 C881.8,1118.0 883.2,1123.8 884.6,1129.9 C886.0,1136.1 887.6,1143.7 888.7,1150.5 C889.9,1157.4 890.5,1164.3 891.5,1171.2 C892.4,1178.0 893.3,1184.7 894.2,1191.8 C895.1,1198.9 896.0,1209.6 897.0,1213.7 C897.9,1217.9 898.6,1216.7 899.7,1216.5 C900.8,1216.3 902.7,1212.8 903.8,1212.4 C905.0,1211.9 905.7,1211.2 906.6,1213.7 C907.5,1216.3 908.4,1221.8 909.3,1227.5 C910.2,1233.2 911.2,1241.2 912.1,1248.1 C913.0,1255.0 913.9,1262.5 914.8,1268.7 C915.7,1274.9 916.4,1279.2 917.6,1285.2 C918.7,1291.2 920.5,1298.5 921.7,1304.4 C922.8,1310.4 923.3,1314.5 924.4,1320.9 C925.6,1327.3 927.2,1338.8 928.6,1342.9 C929.9,1347.0 931.1,1346.4 932.7,1345.7 C934.3,1345.0 936.6,1339.0 938.2,1338.8 C939.8,1338.6 940.9,1342.2 942.3,1344.3 C943.7,1346.4 944.8,1349.1 946.4,1351.2 C948.0,1353.2 949.6,1355.3 951.9,1356.7 C954.2,1358.0 957.0,1358.9 960.2,1359.4 C963.4,1359.9 967.7,1359.9 971.2,1359.4 C974.6,1358.9 978.0,1357.8 980.8,1356.7 C983.5,1355.5 985.6,1354.1 987.7,1352.5 C989.7,1350.9 991.5,1348.4 993.1,1347.0 C994.8,1345.7 995.9,1344.1 997.3,1344.3 C998.6,1344.5 999.8,1346.8 1001.4,1348.4 C1003.0,1350.0 1005.1,1353.2 1006.9,1353.9 C1008.7,1354.6 1010.6,1354.4 1012.4,1352.5 C1014.2,1350.7 1016.1,1345.7 1017.9,1342.9 C1019.7,1340.2 1021.5,1336.7 1023.4,1336.0 C1025.2,1335.4 1026.8,1338.6 1028.9,1338.8 C1030.9,1339.0 1033.7,1338.1 1035.7,1337.4 C1037.8,1336.7 1039.2,1336.0 1041.2,1334.7 C1043.3,1333.3 1045.8,1329.9 1048.1,1329.2 C1050.4,1328.5 1052.7,1331.5 1055.0,1330.5 C1057.3,1329.6 1059.8,1327.1 1061.9,1323.7 C1063.9,1320.2 1065.5,1313.6 1067.4,1309.9 C1069.2,1306.3 1071.3,1301.8 1072.9,1301.7 C1074.4,1301.6 1075.5,1307.4 1076.9,1309.6 C1078.2,1311.7 1079.6,1314.6 1081.0,1314.4 C1082.4,1314.1 1083.7,1309.9 1085.1,1308.2 C1086.5,1306.5 1087.6,1305.0 1089.2,1304.1 C1090.8,1303.1 1092.9,1304.1 1094.7,1302.7 C1096.6,1301.3 1098.6,1297.8 1100.2,1295.8 C1101.8,1293.9 1103.0,1291.0 1104.4,1291.0 C1105.7,1291.0 1107.1,1294.3 1108.5,1295.8 C1109.9,1297.3 1111.0,1299.9 1112.6,1299.9 C1114.2,1299.9 1116.0,1297.9 1118.1,1295.8 C1120.2,1293.8 1122.9,1289.9 1125.0,1287.6 C1127.0,1285.3 1128.6,1282.3 1130.5,1282.1 C1132.3,1281.8 1134.4,1285.2 1136.0,1286.2 C1137.6,1287.2 1138.3,1288.5 1140.1,1288.3 C1141.9,1288.0 1144.9,1286.3 1147.0,1284.8 C1149.0,1283.3 1150.6,1280.5 1152.5,1279.3 C1154.3,1278.2 1155.7,1278.2 1157.9,1277.9 C1160.2,1277.7 1163.9,1278.3 1166.2,1277.9 C1168.5,1277.6 1169.6,1276.5 1171.7,1275.9 C1173.8,1275.3 1176.5,1274.2 1178.6,1274.5 C1180.6,1274.9 1182.5,1277.1 1184.1,1277.9 C1185.7,1278.7 1186.6,1279.8 1188.2,1279.3 C1189.8,1278.9 1192.1,1276.1 1193.7,1275.2 C1195.3,1274.3 1196.2,1273.6 1197.8,1273.8 C1199.4,1274.1 1201.0,1276.1 1203.3,1276.6 C1205.6,1277.0 1209.3,1275.4 1211.5,1276.6 C1213.8,1277.7 1215.2,1280.9 1217.0,1283.4 C1218.9,1286.0 1220.5,1289.7 1222.5,1291.7 C1224.6,1293.6 1227.3,1295.4 1229.4,1295.1 C1231.5,1294.9 1233.1,1291.6 1234.9,1290.3 C1236.7,1289.1 1238.6,1287.6 1240.4,1287.6 C1242.2,1287.6 1244.3,1288.5 1245.9,1290.3 C1247.5,1292.1 1248.6,1296.5 1250.0,1298.6 C1251.4,1300.6 1252.8,1303.1 1254.1,1302.7 C1255.5,1302.2 1256.9,1297.4 1258.3,1295.8 C1259.6,1294.2 1260.8,1292.6 1262.4,1293.1 C1264.0,1293.5 1266.1,1296.3 1267.9,1298.6 C1269.7,1300.9 1271.5,1304.3 1273.4,1306.8 C1275.2,1309.3 1276.8,1311.6 1278.9,1313.7 C1280.9,1315.7 1283.5,1317.8 1285.7,1319.2 C1288.0,1320.5 1290.1,1321.5 1292.6,1321.9 C1295.1,1322.4 1298.3,1321.5 1300.9,1321.9 C1303.4,1322.4 1305.7,1323.1 1307.7,1324.7 C1309.8,1326.3 1311.6,1329.0 1313.2,1331.5 C1314.8,1334.1 1316.2,1337.7 1317.4,1339.8 C1318.5,1341.8 1319.9,1343.2 1320.4,1343.9" fill="none" stroke="#ff0000" stroke-width="3.0" stroke-linejoin="round" stroke-linecap="round"/>
</g>
<clipPath id="clipD"><rect x="1482.1" y="1007.4" width="498.20000000000005" height="417.69999999999993"/></clipPath>
<g clip-path="url(#clipD)">
<path d="M1498.6,1330.2 C1499.6,1329.9 1502.8,1328.3 1504.7,1328.8 C1506.7,1329.3 1508.6,1331.1 1510.2,1332.9 C1511.8,1334.7 1512.8,1337.7 1514.4,1339.8 C1516.0,1341.8 1517.8,1343.9 1519.9,1345.3 C1521.9,1346.7 1524.4,1348.0 1526.7,1348.0 C1529.0,1348.0 1531.3,1346.3 1533.6,1345.3 C1535.9,1344.3 1538.4,1341.8 1540.5,1341.8 C1542.5,1341.8 1544.1,1343.3 1546.0,1345.3 C1547.8,1347.2 1549.6,1351.0 1551.5,1353.5 C1553.3,1356.0 1554.9,1359.5 1557.0,1360.4 C1559.0,1361.3 1561.8,1358.3 1563.8,1359.0 C1565.9,1359.7 1567.6,1362.5 1569.3,1364.5 C1571.0,1366.6 1572.5,1371.4 1574.1,1371.4 C1575.7,1371.4 1577.2,1366.6 1578.9,1364.5 C1580.7,1362.5 1582.6,1359.5 1584.4,1359.0 C1586.3,1358.6 1588.1,1360.9 1589.9,1361.8 C1591.8,1362.7 1593.6,1363.8 1595.4,1364.5 C1597.3,1365.2 1599.1,1366.1 1600.9,1365.9 C1602.8,1365.7 1604.6,1363.8 1606.4,1363.1 C1608.3,1362.5 1610.1,1362.2 1611.9,1361.8 C1613.8,1361.3 1615.4,1360.4 1617.4,1360.4 C1619.5,1360.4 1622.2,1361.1 1624.3,1361.8 C1626.4,1362.5 1627.7,1363.8 1629.8,1364.5 C1631.8,1365.2 1634.1,1365.7 1636.7,1365.9 C1639.2,1366.1 1642.2,1365.9 1644.9,1365.9 C1647.7,1365.9 1650.4,1366.1 1653.1,1365.9 C1655.9,1365.7 1658.9,1365.0 1661.4,1364.5 C1663.9,1364.1 1666.0,1362.9 1668.3,1363.1 C1670.6,1363.4 1672.6,1365.0 1675.1,1365.9 C1677.7,1366.8 1680.9,1368.9 1683.4,1368.6 C1685.9,1368.4 1688.0,1365.7 1690.3,1364.5 C1692.5,1363.4 1694.8,1362.5 1697.1,1361.8 C1699.4,1361.1 1701.7,1360.6 1704.0,1360.4 C1706.3,1360.2 1708.6,1360.9 1710.9,1360.4 C1713.2,1359.9 1715.4,1358.8 1717.7,1357.7 C1720.0,1356.5 1722.3,1354.9 1724.6,1353.5 C1726.9,1352.2 1728.9,1350.5 1731.5,1349.4 C1734.0,1348.3 1737.7,1348.3 1740.0,1347.0 C1742.3,1345.6 1743.7,1341.7 1745.5,1341.5 C1747.3,1341.2 1749.4,1343.5 1751.0,1345.6 C1752.6,1347.6 1753.5,1351.8 1755.1,1353.8 C1756.7,1355.9 1758.5,1357.0 1760.6,1357.9 C1762.7,1358.9 1765.2,1358.6 1767.5,1359.3 C1769.8,1360.0 1772.3,1360.9 1774.3,1362.1 C1776.4,1363.2 1777.8,1365.3 1779.8,1366.2 C1781.9,1367.1 1784.4,1367.3 1786.7,1367.6 C1789.0,1367.8 1791.3,1367.6 1793.6,1367.6 C1795.9,1367.6 1798.2,1368.0 1800.5,1367.6 C1802.7,1367.1 1805.3,1366.0 1807.3,1364.8 C1809.4,1363.7 1811.0,1362.3 1812.8,1360.7 C1814.7,1359.1 1816.5,1355.9 1818.3,1355.2 C1820.2,1354.5 1822.0,1355.9 1823.8,1356.6 C1825.7,1357.3 1827.3,1358.6 1829.3,1359.3 C1831.4,1360.0 1833.9,1360.7 1836.2,1360.7 C1838.5,1360.7 1841.0,1359.6 1843.1,1359.3 C1845.1,1359.1 1846.7,1359.1 1848.6,1359.3 C1850.4,1359.6 1852.2,1361.6 1854.1,1360.7 C1855.9,1359.8 1857.7,1356.1 1859.5,1353.8 C1861.4,1351.5 1863.2,1348.8 1865.0,1347.0 C1866.9,1345.1 1868.7,1343.3 1870.5,1342.8 C1872.4,1342.4 1874.4,1343.1 1876.0,1344.2 C1877.6,1345.4 1878.8,1347.4 1880.2,1349.7 C1881.5,1352.0 1882.9,1355.2 1884.3,1357.9 C1885.7,1360.7 1886.8,1364.6 1888.4,1366.2 C1890.0,1367.8 1891.8,1367.1 1893.9,1367.6 C1896.0,1368.0 1898.5,1368.0 1900.8,1368.9 C1903.1,1369.9 1905.4,1371.7 1907.6,1373.1 C1909.9,1374.4 1912.2,1377.2 1914.5,1377.2 C1916.8,1377.2 1918.9,1374.7 1921.4,1373.1 C1923.9,1371.5 1927.1,1368.0 1929.6,1367.6 C1932.2,1367.1 1934.2,1370.5 1936.5,1370.3 C1938.8,1370.1 1941.3,1368.0 1943.4,1366.2 C1945.4,1364.4 1947.0,1361.4 1948.9,1359.3 C1950.7,1357.3 1952.5,1354.1 1954.4,1353.8 C1956.2,1353.6 1958.0,1357.0 1959.9,1357.9 C1961.7,1358.9 1963.5,1359.8 1965.4,1359.3 C1967.2,1358.9 1969.0,1356.1 1970.9,1355.2 C1972.7,1354.3 1974.8,1353.8 1976.4,1353.8 C1978.0,1353.8 1979.8,1355.0 1980.5,1355.2" fill="none" stroke="#002060" stroke-width="3.0" stroke-linejoin="round" stroke-linecap="round"/>
<path d="M1498.6,1133.7 C1499.1,1131.6 1500.7,1125.4 1502.0,1121.3 C1503.2,1117.2 1504.7,1113.3 1506.1,1108.9 C1507.5,1104.6 1508.6,1099.3 1510.2,1095.2 C1511.8,1091.1 1514.1,1084.9 1515.7,1084.2 C1517.3,1083.5 1518.5,1088.9 1519.9,1091.1 C1521.2,1093.3 1522.6,1097.0 1524.0,1097.3 C1525.3,1097.5 1526.8,1093.7 1528.1,1092.5 C1529.4,1091.2 1530.4,1088.8 1531.5,1089.7 C1532.7,1090.6 1533.7,1094.1 1535.0,1097.9 C1536.2,1101.8 1537.7,1109.2 1539.1,1113.1 C1540.5,1117.0 1541.6,1118.8 1543.2,1121.3 C1544.8,1123.8 1546.9,1125.7 1548.7,1128.2 C1550.5,1130.7 1552.4,1133.4 1554.2,1136.4 C1556.0,1139.4 1557.9,1142.6 1559.7,1146.0 C1561.5,1149.5 1563.4,1153.1 1565.2,1157.0 C1567.0,1160.9 1568.9,1165.1 1570.7,1169.4 C1572.5,1173.8 1574.4,1178.3 1576.2,1183.1 C1578.0,1188.0 1580.8,1194.1 1581.7,1198.3 C1582.6,1202.4 1581.0,1203.5 1581.7,1207.9 C1582.4,1212.2 1584.4,1219.3 1585.8,1224.4 C1587.2,1229.4 1588.6,1233.5 1589.9,1238.1 C1591.3,1242.7 1592.5,1247.3 1594.1,1251.8 C1595.7,1256.4 1598.0,1261.0 1599.6,1265.6 C1601.2,1270.2 1602.3,1274.1 1603.7,1279.3 C1605.1,1284.6 1606.4,1291.5 1607.8,1297.2 C1609.2,1302.9 1610.5,1308.0 1611.9,1313.7 C1613.3,1319.4 1614.4,1327.4 1616.0,1331.5 C1617.6,1335.7 1619.9,1335.7 1621.5,1338.4 C1623.1,1341.2 1624.3,1344.8 1625.7,1348.0 C1627.0,1351.2 1628.2,1355.1 1629.8,1357.7 C1631.4,1360.2 1633.2,1362.0 1635.3,1363.1 C1637.3,1364.3 1639.6,1363.8 1642.2,1364.5 C1644.7,1365.2 1647.7,1366.1 1650.4,1367.3 C1653.1,1368.4 1655.9,1370.7 1658.6,1371.4 C1661.4,1372.1 1664.6,1372.1 1666.9,1371.4 C1669.2,1370.7 1670.6,1367.3 1672.4,1367.3 C1674.2,1367.3 1675.6,1370.7 1677.9,1371.4 C1680.2,1372.1 1683.4,1371.4 1686.1,1371.4 C1688.9,1371.4 1692.1,1370.9 1694.4,1371.4 C1696.7,1371.9 1698.0,1372.3 1699.9,1374.1 C1701.7,1376.0 1703.1,1380.8 1705.4,1382.4 C1707.7,1384.0 1710.9,1383.5 1713.6,1383.8 C1716.4,1384.0 1719.1,1383.8 1721.9,1383.8 C1724.6,1383.8 1727.1,1384.6 1730.1,1383.8 C1733.1,1382.9 1737.2,1378.5 1740.0,1378.6 C1742.8,1378.6 1744.8,1384.3 1746.9,1384.1 C1748.9,1383.8 1750.5,1379.2 1752.4,1377.2 C1754.2,1375.1 1756.0,1371.9 1757.9,1371.7 C1759.7,1371.5 1761.3,1374.7 1763.4,1375.8 C1765.4,1377.0 1767.9,1378.6 1770.2,1378.6 C1772.5,1378.6 1774.8,1377.0 1777.1,1375.8 C1779.4,1374.7 1781.7,1372.6 1784.0,1371.7 C1786.3,1370.8 1788.5,1370.5 1790.8,1370.3 C1793.1,1370.1 1795.6,1370.3 1797.7,1370.3 C1799.8,1370.3 1801.4,1369.6 1803.2,1370.3 C1805.0,1371.0 1806.9,1373.1 1808.7,1374.4 C1810.5,1375.8 1812.4,1377.2 1814.2,1378.6 C1816.0,1379.9 1817.6,1381.8 1819.7,1382.7 C1821.8,1383.6 1824.5,1384.1 1826.6,1384.1 C1828.6,1384.1 1830.2,1383.6 1832.1,1382.7 C1833.9,1381.8 1835.7,1379.9 1837.6,1378.6 C1839.4,1377.2 1841.2,1375.6 1843.1,1374.4 C1844.9,1373.3 1846.5,1372.1 1848.6,1371.7 C1850.6,1371.2 1853.1,1371.7 1855.4,1371.7 C1857.7,1371.7 1860.0,1371.7 1862.3,1371.7 C1864.6,1371.7 1867.1,1371.5 1869.2,1371.7 C1871.2,1371.9 1872.8,1372.1 1874.7,1373.1 C1876.5,1374.0 1878.3,1377.4 1880.2,1377.2 C1882.0,1377.0 1883.8,1373.5 1885.7,1371.7 C1887.5,1369.9 1889.3,1367.1 1891.2,1366.2 C1893.0,1365.3 1894.8,1365.7 1896.7,1366.2 C1898.5,1366.7 1900.3,1368.0 1902.1,1368.9 C1904.0,1369.9 1905.6,1370.8 1907.6,1371.7 C1909.7,1372.6 1912.2,1373.5 1914.5,1374.4 C1916.8,1375.4 1919.1,1376.5 1921.4,1377.2 C1923.7,1377.9 1926.0,1378.3 1928.3,1378.6 C1930.5,1378.8 1932.8,1379.0 1935.1,1378.6 C1937.4,1378.1 1939.7,1377.0 1942.0,1375.8 C1944.3,1374.7 1946.6,1373.1 1948.9,1371.7 C1951.2,1370.3 1953.5,1367.6 1955.7,1367.6 C1958.0,1367.6 1960.3,1370.8 1962.6,1371.7 C1964.9,1372.6 1967.2,1373.1 1969.5,1373.1 C1971.8,1373.1 1974.5,1372.1 1976.4,1371.7 C1978.2,1371.2 1979.8,1370.5 1980.5,1370.3" fill="none" stroke="#7030a0" stroke-width="3.0" stroke-linejoin="round" stroke-linecap="round"/>
<path d="M1498.6,1168.0 C1499.4,1168.5 1501.4,1169.4 1503.4,1170.8 C1505.3,1172.2 1508.2,1174.7 1510.2,1176.3 C1512.3,1177.9 1514.4,1180.6 1515.7,1180.4 C1517.1,1180.2 1517.6,1178.1 1518.5,1174.9 C1519.4,1171.7 1520.3,1165.3 1521.2,1161.2 C1522.1,1157.0 1522.8,1152.2 1524.0,1150.2 C1525.1,1148.1 1526.7,1148.8 1528.1,1148.8 C1529.5,1148.8 1530.8,1150.4 1532.2,1150.2 C1533.6,1149.9 1535.0,1148.3 1536.3,1147.4 C1537.7,1146.5 1538.9,1145.1 1540.5,1144.7 C1542.1,1144.2 1544.1,1144.2 1546.0,1144.7 C1547.8,1145.1 1549.6,1146.5 1551.5,1147.4 C1553.3,1148.3 1555.1,1149.7 1557.0,1150.2 C1558.8,1150.6 1560.6,1149.9 1562.5,1150.2 C1564.3,1150.4 1565.9,1150.4 1567.9,1151.5 C1570.0,1152.7 1572.5,1154.7 1574.8,1157.0 C1577.1,1159.3 1579.6,1162.1 1581.7,1165.3 C1583.8,1168.5 1585.6,1172.8 1587.2,1176.3 C1588.8,1179.7 1589.7,1183.8 1591.3,1185.9 C1592.9,1188.0 1595.2,1187.3 1596.8,1188.6 C1598.4,1190.0 1599.8,1191.6 1600.9,1194.1 C1602.1,1196.7 1602.1,1199.9 1603.7,1203.7 C1605.3,1207.6 1608.3,1212.9 1610.5,1217.5 C1612.8,1222.1 1615.4,1226.2 1617.4,1231.2 C1619.5,1236.3 1621.3,1242.0 1622.9,1247.7 C1624.5,1253.4 1625.7,1259.6 1627.0,1265.6 C1628.4,1271.5 1629.6,1277.3 1631.2,1283.4 C1632.8,1289.6 1634.8,1297.0 1636.7,1302.7 C1638.5,1308.4 1640.3,1313.2 1642.2,1317.8 C1644.0,1322.4 1645.8,1326.7 1647.7,1330.2 C1649.5,1333.6 1651.1,1335.9 1653.1,1338.4 C1655.2,1340.9 1657.7,1343.5 1660.0,1345.3 C1662.3,1347.1 1664.4,1348.0 1666.9,1349.4 C1669.4,1350.8 1672.4,1352.8 1675.1,1353.5 C1677.9,1354.2 1680.9,1353.8 1683.4,1353.5 C1685.9,1353.3 1688.0,1353.1 1690.3,1352.2 C1692.5,1351.2 1695.1,1348.5 1697.1,1348.0 C1699.2,1347.6 1700.6,1348.5 1702.6,1349.4 C1704.7,1350.3 1707.2,1351.9 1709.5,1353.5 C1711.8,1355.1 1714.1,1357.4 1716.4,1359.0 C1718.7,1360.6 1720.9,1361.3 1723.2,1363.1 C1725.5,1365.0 1727.3,1369.5 1730.1,1370.0 C1732.9,1370.5 1737.4,1367.7 1740.0,1366.2 C1742.6,1364.6 1743.4,1361.8 1745.5,1360.7 C1747.6,1359.6 1750.1,1359.3 1752.4,1359.3 C1754.7,1359.3 1756.9,1360.2 1759.2,1360.7 C1761.5,1361.2 1764.0,1361.4 1766.1,1362.1 C1768.2,1362.8 1769.5,1363.4 1771.6,1364.8 C1773.7,1366.2 1776.2,1369.2 1778.5,1370.3 C1780.8,1371.5 1783.1,1371.0 1785.3,1371.7 C1787.6,1372.4 1790.2,1373.5 1792.2,1374.4 C1794.3,1375.4 1795.9,1377.2 1797.7,1377.2 C1799.5,1377.2 1801.4,1375.4 1803.2,1374.4 C1805.0,1373.5 1806.6,1372.1 1808.7,1371.7 C1810.8,1371.2 1813.3,1371.7 1815.6,1371.7 C1817.9,1371.7 1820.4,1372.6 1822.4,1371.7 C1824.5,1370.8 1825.9,1368.0 1827.9,1366.2 C1830.0,1364.4 1832.5,1361.8 1834.8,1360.7 C1837.1,1359.6 1839.6,1360.5 1841.7,1359.3 C1843.7,1358.2 1845.6,1354.7 1847.2,1353.8 C1848.8,1352.9 1849.9,1352.7 1851.3,1353.8 C1852.7,1355.0 1854.1,1357.9 1855.4,1360.7 C1856.8,1363.4 1857.9,1367.8 1859.5,1370.3 C1861.2,1372.8 1863.0,1374.4 1865.0,1375.8 C1867.1,1377.2 1869.6,1377.6 1871.9,1378.6 C1874.2,1379.5 1876.7,1381.1 1878.8,1381.3 C1880.8,1381.5 1882.2,1381.1 1884.3,1379.9 C1886.3,1378.8 1888.9,1376.3 1891.2,1374.4 C1893.4,1372.6 1895.7,1370.3 1898.0,1368.9 C1900.3,1367.6 1902.6,1366.9 1904.9,1366.2 C1907.2,1365.5 1909.5,1365.0 1911.8,1364.8 C1914.1,1364.6 1916.3,1363.7 1918.6,1364.8 C1920.9,1366.0 1923.4,1369.6 1925.5,1371.7 C1927.6,1373.8 1928.9,1377.0 1931.0,1377.2 C1933.1,1377.4 1935.8,1374.4 1937.9,1373.1 C1939.9,1371.7 1941.3,1370.3 1943.4,1368.9 C1945.4,1367.6 1948.2,1365.7 1950.2,1364.8 C1952.3,1363.9 1953.7,1363.9 1955.7,1363.4 C1957.8,1363.0 1960.3,1361.8 1962.6,1362.1 C1964.9,1362.3 1967.4,1363.2 1969.5,1364.8 C1971.5,1366.4 1973.1,1369.9 1975.0,1371.7 C1976.8,1373.5 1979.6,1375.1 1980.5,1375.8" fill="none" stroke="#0070c0" stroke-width="3.0" stroke-linejoin="round" stroke-linecap="round"/>
<path d="M1498.6,1353.5 C1499.6,1353.8 1502.6,1355.4 1504.7,1354.9 C1506.9,1354.4 1509.3,1352.6 1511.6,1350.8 C1513.9,1348.9 1516.4,1345.3 1518.5,1343.9 C1520.5,1342.5 1522.1,1342.3 1524.0,1342.5 C1525.8,1342.8 1527.6,1343.9 1529.5,1345.3 C1531.3,1346.7 1533.1,1349.3 1535.0,1350.8 C1536.8,1352.3 1538.2,1353.6 1540.5,1354.2 C1542.8,1354.8 1546.2,1354.3 1548.7,1354.2 C1551.2,1354.1 1553.3,1354.3 1555.6,1353.5 C1557.9,1352.7 1560.2,1351.0 1562.5,1349.4 C1564.7,1347.8 1567.0,1345.7 1569.3,1343.9 C1571.6,1342.1 1573.9,1341.2 1576.2,1338.4 C1578.5,1335.7 1581.0,1330.4 1583.1,1327.4 C1585.1,1324.4 1586.7,1324.0 1588.6,1320.5 C1590.4,1317.1 1592.5,1311.4 1594.1,1306.8 C1595.7,1302.2 1596.6,1297.6 1598.2,1293.1 C1599.8,1288.5 1601.8,1283.7 1603.7,1279.3 C1605.5,1275.0 1607.3,1271.3 1609.2,1267.0 C1611.0,1262.6 1612.8,1256.0 1614.7,1253.2 C1616.5,1250.5 1618.3,1250.5 1620.2,1250.5 C1622.0,1250.5 1623.8,1252.1 1625.7,1253.2 C1627.5,1254.4 1629.3,1255.7 1631.2,1257.3 C1633.0,1258.9 1634.8,1260.3 1636.7,1262.8 C1638.5,1265.4 1640.6,1268.6 1642.2,1272.5 C1643.8,1276.3 1645.1,1282.5 1646.3,1286.2 C1647.4,1289.9 1647.7,1293.3 1649.0,1294.4 C1650.4,1295.6 1652.9,1292.6 1654.5,1293.1 C1656.1,1293.5 1657.3,1294.2 1658.6,1297.2 C1660.0,1300.2 1661.4,1306.6 1662.8,1310.9 C1664.1,1315.3 1665.3,1320.1 1666.9,1323.3 C1668.5,1326.5 1670.6,1329.0 1672.4,1330.2 C1674.2,1331.3 1676.3,1329.7 1677.9,1330.2 C1679.5,1330.6 1680.6,1330.6 1682.0,1332.9 C1683.4,1335.2 1685.0,1340.5 1686.1,1343.9 C1687.3,1347.3 1687.5,1353.1 1688.9,1353.5 C1690.3,1354.0 1692.5,1348.7 1694.4,1346.7 C1696.2,1344.6 1698.0,1342.1 1699.9,1341.2 C1701.7,1340.2 1703.5,1340.5 1705.4,1341.2 C1707.2,1341.8 1709.0,1343.9 1710.9,1345.3 C1712.7,1346.7 1714.5,1349.2 1716.4,1349.4 C1718.2,1349.6 1720.0,1347.1 1721.9,1346.7 C1723.7,1346.2 1725.5,1346.2 1727.4,1346.7 C1729.2,1347.1 1731.0,1347.4 1732.9,1349.4 C1734.7,1351.4 1737.0,1357.8 1738.6,1358.6 C1740.3,1359.5 1741.4,1356.1 1742.7,1354.5 C1744.1,1352.9 1745.3,1349.5 1746.9,1349.0 C1748.5,1348.6 1750.5,1351.3 1752.4,1351.8 C1754.2,1352.2 1756.0,1352.5 1757.9,1351.8 C1759.7,1351.1 1761.5,1349.5 1763.4,1347.7 C1765.2,1345.8 1766.8,1343.3 1768.9,1340.8 C1770.9,1338.3 1773.4,1335.1 1775.7,1332.5 C1778.0,1330.0 1780.5,1328.2 1782.6,1325.7 C1784.7,1323.1 1786.3,1318.6 1788.1,1317.4 C1789.9,1316.3 1791.8,1317.4 1793.6,1318.8 C1795.4,1320.2 1797.3,1323.4 1799.1,1325.7 C1800.9,1328.0 1802.7,1330.5 1804.6,1332.5 C1806.4,1334.6 1808.2,1336.0 1810.1,1338.0 C1811.9,1340.1 1813.5,1343.3 1815.6,1344.9 C1817.6,1346.5 1820.2,1347.7 1822.4,1347.7 C1824.7,1347.7 1827.0,1346.3 1829.3,1344.9 C1831.6,1343.5 1833.9,1340.8 1836.2,1339.4 C1838.5,1338.0 1840.8,1337.1 1843.1,1336.7 C1845.3,1336.2 1847.6,1336.9 1849.9,1336.7 C1852.2,1336.4 1854.5,1336.2 1856.8,1335.3 C1859.1,1334.4 1861.6,1332.5 1863.7,1331.2 C1865.7,1329.8 1867.1,1328.2 1869.2,1327.0 C1871.2,1325.9 1873.7,1324.5 1876.0,1324.3 C1878.3,1324.1 1880.8,1324.7 1882.9,1325.7 C1885.0,1326.6 1886.6,1328.4 1888.4,1329.8 C1890.2,1331.2 1892.1,1332.1 1893.9,1333.9 C1895.7,1335.7 1897.6,1338.7 1899.4,1340.8 C1901.2,1342.8 1903.1,1345.6 1904.9,1346.3 C1906.7,1347.0 1908.3,1345.6 1910.4,1344.9 C1912.5,1344.2 1915.0,1342.4 1917.3,1342.2 C1919.6,1341.9 1921.8,1342.8 1924.1,1343.5 C1926.4,1344.2 1928.7,1346.3 1931.0,1346.3 C1933.3,1346.3 1935.6,1344.7 1937.9,1343.5 C1940.2,1342.4 1942.7,1340.6 1944.7,1339.4 C1946.8,1338.3 1948.2,1337.3 1950.2,1336.7 C1952.3,1336.0 1955.1,1336.4 1957.1,1335.3 C1959.2,1334.1 1960.8,1329.8 1962.6,1329.8 C1964.4,1329.8 1966.3,1333.2 1968.1,1335.3 C1969.9,1337.3 1971.5,1341.0 1973.6,1342.2 C1975.7,1343.3 1979.3,1342.2 1980.5,1342.2" fill="none" stroke="#00b0f0" stroke-width="3.0" stroke-linejoin="round" stroke-linecap="round"/>
<path d="M1498.6,1092.5 C1499.1,1090.2 1500.7,1083.3 1502.0,1078.7 C1503.2,1074.1 1504.7,1068.9 1506.1,1065.0 C1507.5,1061.1 1508.6,1058.0 1510.2,1055.3 C1511.8,1052.7 1513.9,1049.9 1515.7,1049.2 C1517.6,1048.5 1519.4,1049.5 1521.2,1051.2 C1523.1,1052.9 1525.1,1056.5 1526.7,1059.5 C1528.3,1062.4 1529.7,1065.2 1530.8,1069.1 C1532.0,1073.0 1532.7,1077.8 1533.6,1082.8 C1534.5,1087.9 1535.4,1093.4 1536.3,1099.3 C1537.3,1105.3 1538.2,1111.7 1539.1,1118.6 C1540.0,1125.4 1540.9,1133.4 1541.8,1140.5 C1542.8,1147.6 1543.7,1154.3 1544.6,1161.2 C1545.5,1168.0 1546.4,1173.5 1547.3,1181.8 C1548.3,1190.0 1549.2,1202.4 1550.1,1210.6 C1551.0,1218.9 1551.7,1224.4 1552.8,1231.2 C1554.0,1238.1 1555.6,1245.0 1557.0,1251.8 C1558.3,1258.7 1559.7,1265.6 1561.1,1272.5 C1562.5,1279.3 1563.8,1286.9 1565.2,1293.1 C1566.6,1299.2 1567.7,1304.3 1569.3,1309.6 C1570.9,1314.8 1573.0,1320.3 1574.8,1324.7 C1576.7,1329.0 1578.7,1331.8 1580.3,1335.7 C1581.9,1339.6 1583.1,1343.7 1584.4,1348.0 C1585.8,1352.4 1587.0,1358.1 1588.6,1361.8 C1590.2,1365.4 1592.2,1368.2 1594.1,1370.0 C1595.9,1371.9 1597.7,1371.6 1599.6,1372.8 C1601.4,1373.9 1603.4,1376.9 1605.1,1376.9 C1606.7,1376.9 1607.8,1375.3 1609.2,1372.8 C1610.5,1370.2 1611.9,1364.1 1613.3,1361.8 C1614.7,1359.5 1615.8,1359.3 1617.4,1359.0 C1619.0,1358.8 1621.3,1361.1 1622.9,1360.4 C1624.5,1359.7 1625.7,1357.4 1627.0,1354.9 C1628.4,1352.4 1629.6,1348.3 1631.2,1345.3 C1632.8,1342.3 1634.8,1339.1 1636.7,1337.0 C1638.5,1335.0 1640.3,1334.1 1642.2,1332.9 C1644.0,1331.8 1646.0,1331.8 1647.7,1330.2 C1649.3,1328.6 1650.2,1325.4 1651.8,1323.3 C1653.4,1321.2 1655.7,1318.3 1657.3,1317.8 C1658.9,1317.3 1660.0,1319.9 1661.4,1320.5 C1662.8,1321.2 1664.1,1322.6 1665.5,1321.9 C1666.9,1321.2 1668.0,1318.3 1669.6,1316.4 C1671.2,1314.6 1673.3,1311.6 1675.1,1310.9 C1677.0,1310.2 1678.8,1311.6 1680.6,1312.3 C1682.5,1313.0 1684.3,1314.1 1686.1,1315.1 C1688.0,1316.0 1689.8,1317.3 1691.6,1317.8 C1693.5,1318.3 1695.3,1316.9 1697.1,1317.8 C1699.0,1318.7 1700.8,1321.5 1702.6,1323.3 C1704.5,1325.1 1706.3,1327.6 1708.1,1328.8 C1709.9,1329.9 1711.8,1329.3 1713.6,1330.2 C1715.4,1331.1 1717.3,1332.9 1719.1,1334.3 C1720.9,1335.7 1722.8,1337.0 1724.6,1338.4 C1726.4,1339.8 1727.5,1339.7 1730.1,1342.5 C1732.7,1345.3 1737.4,1352.4 1740.0,1355.2 C1742.6,1358.0 1743.4,1357.9 1745.5,1359.3 C1747.6,1360.7 1750.1,1362.3 1752.4,1363.4 C1754.7,1364.6 1756.9,1366.0 1759.2,1366.2 C1761.5,1366.4 1763.8,1365.7 1766.1,1364.8 C1768.4,1363.9 1770.9,1362.1 1773.0,1360.7 C1775.0,1359.3 1776.6,1357.9 1778.5,1356.6 C1780.3,1355.2 1782.1,1353.8 1784.0,1352.5 C1785.8,1351.1 1787.4,1349.7 1789.5,1348.3 C1791.5,1347.0 1794.3,1345.8 1796.3,1344.2 C1798.4,1342.6 1800.2,1340.1 1801.8,1338.7 C1803.4,1337.3 1804.6,1335.3 1806.0,1336.0 C1807.3,1336.6 1808.7,1340.8 1810.1,1342.8 C1811.5,1344.9 1812.6,1346.5 1814.2,1348.3 C1815.8,1350.2 1817.9,1352.0 1819.7,1353.8 C1821.5,1355.7 1823.4,1357.3 1825.2,1359.3 C1827.0,1361.4 1828.9,1364.1 1830.7,1366.2 C1832.5,1368.3 1834.6,1371.0 1836.2,1371.7 C1837.8,1372.4 1838.9,1372.1 1840.3,1370.3 C1841.7,1368.5 1842.8,1363.7 1844.4,1360.7 C1846.0,1357.7 1847.9,1354.5 1849.9,1352.5 C1852.0,1350.4 1854.5,1349.2 1856.8,1348.3 C1859.1,1347.4 1861.4,1347.9 1863.7,1347.0 C1866.0,1346.0 1868.5,1343.5 1870.5,1342.8 C1872.6,1342.1 1874.2,1342.1 1876.0,1342.8 C1877.9,1343.5 1879.7,1346.0 1881.5,1347.0 C1883.4,1347.9 1885.2,1348.6 1887.0,1348.3 C1888.9,1348.1 1890.7,1346.7 1892.5,1345.6 C1894.4,1344.4 1896.2,1340.5 1898.0,1341.5 C1899.9,1342.4 1901.7,1348.3 1903.5,1351.1 C1905.4,1353.8 1907.0,1356.1 1909.0,1357.9 C1911.1,1359.8 1913.6,1360.7 1915.9,1362.1 C1918.2,1363.4 1920.7,1364.6 1922.8,1366.2 C1924.8,1367.8 1926.4,1371.5 1928.3,1371.7 C1930.1,1371.9 1931.9,1368.7 1933.8,1367.6 C1935.6,1366.4 1937.4,1365.3 1939.3,1364.8 C1941.1,1364.4 1942.9,1365.0 1944.7,1364.8 C1946.6,1364.6 1948.2,1364.6 1950.2,1363.4 C1952.3,1362.3 1955.1,1360.0 1957.1,1357.9 C1959.2,1355.9 1960.8,1352.7 1962.6,1351.1 C1964.4,1349.5 1966.0,1348.6 1968.1,1348.3 C1970.2,1348.1 1972.9,1348.6 1975.0,1349.7 C1977.0,1350.8 1979.6,1354.3 1980.5,1355.2" fill="none" stroke="#00b050" stroke-width="3.0" stroke-linejoin="round" stroke-linecap="round"/>
<path d="M1548.7,989.4 C1549.6,997.4 1552.6,1023.7 1554.2,1037.5 C1555.8,1051.2 1557.2,1061.5 1558.3,1071.8 C1559.5,1082.1 1560.2,1090.2 1561.1,1099.3 C1562.0,1108.5 1562.9,1118.8 1563.8,1126.8 C1564.7,1134.8 1565.9,1141.7 1566.6,1147.4 C1567.3,1153.1 1567.5,1156.6 1567.9,1161.2 C1568.4,1165.7 1568.4,1167.8 1569.3,1174.9 C1570.2,1182.0 1572.5,1194.4 1573.4,1203.7 C1574.4,1213.1 1574.1,1223.2 1574.8,1231.2 C1575.5,1239.2 1576.7,1245.0 1577.6,1251.8 C1578.5,1258.7 1579.2,1265.6 1580.3,1272.5 C1581.5,1279.3 1583.1,1286.2 1584.4,1293.1 C1585.8,1299.9 1587.2,1306.8 1588.6,1313.7 C1589.9,1320.5 1591.3,1327.4 1592.7,1334.3 C1594.1,1341.2 1595.4,1349.6 1596.8,1354.9 C1598.2,1360.2 1599.3,1363.6 1600.9,1365.9 C1602.5,1368.2 1604.8,1366.8 1606.4,1368.6 C1608.0,1370.5 1608.9,1374.6 1610.5,1376.9 C1612.2,1379.2 1614.0,1381.2 1616.0,1382.4 C1618.1,1383.5 1620.6,1383.5 1622.9,1383.8 C1625.2,1384.0 1627.5,1383.8 1629.8,1383.8 C1632.1,1383.8 1634.6,1384.4 1636.7,1383.8 C1638.7,1383.1 1640.6,1381.7 1642.2,1379.6 C1643.8,1377.6 1644.7,1373.5 1646.3,1371.4 C1647.9,1369.3 1649.7,1368.6 1651.8,1367.3 C1653.8,1365.9 1656.4,1364.1 1658.6,1363.1 C1660.9,1362.2 1663.2,1362.2 1665.5,1361.8 C1667.8,1361.3 1670.3,1361.8 1672.4,1360.4 C1674.4,1359.0 1676.1,1356.0 1677.9,1353.5 C1679.7,1351.0 1681.3,1347.3 1683.4,1345.3 C1685.4,1343.2 1688.0,1342.8 1690.3,1341.2 C1692.5,1339.6 1695.1,1338.0 1697.1,1335.7 C1699.2,1333.4 1700.8,1329.5 1702.6,1327.4 C1704.5,1325.4 1705.8,1324.1 1708.1,1323.3 C1710.4,1322.5 1713.8,1322.6 1716.4,1322.6 C1718.9,1322.6 1720.9,1322.7 1723.2,1323.3 C1725.5,1323.9 1727.3,1323.9 1730.1,1326.0 C1732.9,1328.2 1737.4,1332.9 1740.0,1336.0 C1742.6,1339.0 1743.7,1341.5 1745.5,1344.2 C1747.3,1347.0 1749.2,1350.2 1751.0,1352.5 C1752.8,1354.7 1754.7,1356.8 1756.5,1357.9 C1758.3,1359.1 1760.1,1358.9 1762.0,1359.3 C1763.8,1359.8 1765.6,1358.9 1767.5,1360.7 C1769.3,1362.5 1771.1,1369.4 1773.0,1370.3 C1774.8,1371.2 1776.4,1367.1 1778.5,1366.2 C1780.5,1365.3 1783.1,1365.0 1785.3,1364.8 C1787.6,1364.6 1789.9,1364.8 1792.2,1364.8 C1794.5,1364.8 1796.8,1365.7 1799.1,1364.8 C1801.4,1363.9 1803.7,1361.2 1806.0,1359.3 C1808.2,1357.5 1810.8,1354.3 1812.8,1353.8 C1814.9,1353.4 1816.5,1354.5 1818.3,1356.6 C1820.2,1358.6 1821.8,1363.7 1823.8,1366.2 C1825.9,1368.7 1828.4,1370.3 1830.7,1371.7 C1833.0,1373.1 1835.5,1371.9 1837.6,1374.4 C1839.6,1377.0 1841.2,1383.4 1843.1,1386.8 C1844.9,1390.2 1846.7,1394.4 1848.6,1395.1 C1850.4,1395.7 1852.0,1392.1 1854.1,1390.9 C1856.1,1389.8 1858.9,1388.2 1860.9,1388.2 C1863.0,1388.2 1864.6,1389.8 1866.4,1390.9 C1868.3,1392.1 1870.3,1395.3 1871.9,1395.1 C1873.5,1394.8 1874.7,1391.6 1876.0,1389.6 C1877.4,1387.5 1878.6,1383.6 1880.2,1382.7 C1881.8,1381.8 1883.8,1383.1 1885.7,1384.1 C1887.5,1385.0 1889.3,1387.7 1891.2,1388.2 C1893.0,1388.6 1894.8,1386.6 1896.7,1386.8 C1898.5,1387.0 1900.3,1388.4 1902.1,1389.6 C1904.0,1390.7 1905.8,1392.8 1907.6,1393.7 C1909.5,1394.6 1911.1,1395.5 1913.1,1395.1 C1915.2,1394.6 1918.0,1391.6 1920.0,1390.9 C1922.1,1390.2 1923.7,1390.2 1925.5,1390.9 C1927.3,1391.6 1929.2,1395.1 1931.0,1395.1 C1932.8,1395.1 1934.4,1392.3 1936.5,1390.9 C1938.6,1389.6 1941.3,1388.0 1943.4,1386.8 C1945.4,1385.7 1946.8,1384.6 1948.9,1384.1 C1950.9,1383.5 1953.5,1383.5 1955.7,1383.4 C1958.0,1383.3 1960.1,1383.4 1962.6,1383.4 C1965.1,1383.4 1967.9,1383.4 1970.9,1383.4 C1973.8,1383.4 1978.9,1383.4 1980.5,1383.4" fill="none" stroke="#92d050" stroke-width="3.0" stroke-linejoin="round" stroke-linecap="round"/>
<path d="M1551.5,989.4 C1552.1,996.3 1554.4,1019.2 1555.6,1030.6 C1556.7,1042.1 1557.4,1048.9 1558.3,1058.1 C1559.2,1067.3 1560.2,1076.4 1561.1,1085.6 C1562.0,1094.7 1562.9,1103.9 1563.8,1113.1 C1564.7,1122.2 1565.7,1132.5 1566.6,1140.5 C1567.5,1148.6 1568.4,1155.4 1569.3,1161.2 C1570.2,1166.9 1570.9,1166.7 1572.1,1174.9 C1573.2,1183.1 1574.8,1201.2 1576.2,1210.6 C1577.6,1220.0 1578.9,1224.4 1580.3,1231.2 C1581.7,1238.1 1583.1,1245.0 1584.4,1251.8 C1585.8,1258.7 1587.2,1265.6 1588.6,1272.5 C1589.9,1279.3 1591.3,1286.7 1592.7,1293.1 C1594.1,1299.5 1595.4,1305.2 1596.8,1310.9 C1598.2,1316.7 1599.8,1322.4 1600.9,1327.4 C1602.1,1332.5 1602.8,1336.6 1603.7,1341.2 C1604.6,1345.7 1605.3,1350.8 1606.4,1354.9 C1607.6,1359.0 1608.9,1362.9 1610.5,1365.9 C1612.2,1368.9 1613.8,1371.2 1616.0,1372.8 C1618.3,1374.4 1621.8,1374.8 1624.3,1375.5 C1626.8,1376.2 1628.6,1376.7 1631.2,1376.9 C1633.7,1377.1 1636.7,1376.9 1639.4,1376.9 C1642.2,1376.9 1644.9,1376.9 1647.7,1376.9 C1650.4,1376.9 1653.1,1376.9 1655.9,1376.9 C1658.6,1376.9 1661.4,1377.6 1664.1,1376.9 C1666.9,1376.2 1669.9,1374.4 1672.4,1372.8 C1674.9,1371.2 1677.2,1369.6 1679.3,1367.3 C1681.3,1365.0 1682.9,1362.0 1684.8,1359.0 C1686.6,1356.0 1688.4,1352.2 1690.3,1349.4 C1692.1,1346.7 1693.9,1344.4 1695.7,1342.5 C1697.6,1340.7 1699.4,1339.6 1701.2,1338.4 C1703.1,1337.3 1704.7,1336.1 1706.7,1335.7 C1708.8,1335.2 1711.6,1335.2 1713.6,1335.7 C1715.7,1336.1 1717.0,1337.7 1719.1,1338.4 C1721.2,1339.1 1723.7,1339.3 1726.0,1339.8 C1728.3,1340.2 1730.5,1340.9 1732.9,1341.2 C1735.2,1341.4 1737.9,1342.3 1740.0,1341.5 C1742.1,1340.6 1743.7,1338.0 1745.5,1336.0 C1747.3,1333.9 1749.2,1331.0 1751.0,1329.1 C1752.8,1327.1 1754.4,1325.2 1756.5,1324.3 C1758.5,1323.4 1761.1,1323.6 1763.4,1323.6 C1765.6,1323.6 1767.9,1324.3 1770.2,1324.3 C1772.5,1324.3 1775.0,1323.5 1777.1,1323.6 C1779.2,1323.7 1781.0,1323.4 1782.6,1325.0 C1784.2,1326.6 1785.1,1332.5 1786.7,1333.2 C1788.3,1333.9 1790.4,1330.6 1792.2,1329.1 C1794.0,1327.6 1795.9,1324.5 1797.7,1324.3 C1799.5,1324.1 1801.4,1326.2 1803.2,1327.7 C1805.0,1329.2 1806.9,1331.6 1808.7,1333.2 C1810.5,1334.8 1812.4,1336.0 1814.2,1337.3 C1816.0,1338.7 1817.6,1340.1 1819.7,1341.5 C1821.8,1342.8 1824.5,1343.7 1826.6,1345.6 C1828.6,1347.4 1830.2,1350.2 1832.1,1352.5 C1833.9,1354.7 1835.7,1357.5 1837.6,1359.3 C1839.4,1361.2 1841.2,1362.1 1843.1,1363.4 C1844.9,1364.8 1846.7,1366.4 1848.6,1367.6 C1850.4,1368.7 1852.2,1369.4 1854.1,1370.3 C1855.9,1371.2 1857.7,1372.8 1859.5,1373.1 C1861.4,1373.3 1863.2,1372.8 1865.0,1371.7 C1866.9,1370.5 1868.7,1367.3 1870.5,1366.2 C1872.4,1365.0 1874.2,1364.8 1876.0,1364.8 C1877.9,1364.8 1879.7,1365.3 1881.5,1366.2 C1883.4,1367.1 1885.2,1368.3 1887.0,1370.3 C1888.9,1372.4 1890.9,1375.4 1892.5,1378.6 C1894.1,1381.8 1895.0,1387.5 1896.7,1389.6 C1898.3,1391.6 1900.3,1390.9 1902.1,1390.9 C1904.0,1390.9 1905.6,1389.8 1907.6,1389.6 C1909.7,1389.3 1912.2,1389.6 1914.5,1389.6 C1916.8,1389.6 1919.3,1390.0 1921.4,1389.6 C1923.4,1389.1 1925.3,1387.7 1926.9,1386.8 C1928.5,1385.9 1929.4,1383.8 1931.0,1384.1 C1932.6,1384.3 1934.7,1387.0 1936.5,1388.2 C1938.3,1389.3 1940.2,1390.9 1942.0,1390.9 C1943.8,1390.9 1945.7,1390.0 1947.5,1388.2 C1949.3,1386.3 1950.9,1381.8 1953.0,1379.9 C1955.1,1378.1 1957.8,1377.2 1959.9,1377.2 C1961.9,1377.2 1963.5,1377.9 1965.4,1379.9 C1967.2,1382.0 1969.0,1389.1 1970.9,1389.6 C1972.7,1390.0 1974.8,1384.7 1976.4,1382.7 C1978.0,1380.6 1979.8,1378.1 1980.5,1377.2" fill="none" stroke="#ffff00" stroke-width="3.0" stroke-linejoin="round" stroke-linecap="round"/>
<path d="M1498.6,1287.6 C1499.4,1288.9 1501.6,1293.3 1503.4,1295.8 C1505.1,1298.3 1506.8,1300.9 1508.9,1302.7 C1510.9,1304.5 1513.2,1306.3 1515.7,1306.8 C1518.2,1307.3 1521.5,1305.4 1524.0,1305.4 C1526.5,1305.4 1529.0,1307.7 1530.8,1306.8 C1532.7,1305.9 1533.6,1302.9 1535.0,1299.9 C1536.3,1297.0 1537.5,1291.7 1539.1,1288.9 C1540.7,1286.2 1542.8,1284.8 1544.6,1283.4 C1546.4,1282.1 1548.3,1281.8 1550.1,1280.7 C1551.9,1279.6 1553.7,1277.0 1555.6,1276.6 C1557.4,1276.1 1559.2,1277.0 1561.1,1277.9 C1562.9,1278.9 1564.7,1280.7 1566.6,1282.1 C1568.4,1283.4 1570.5,1283.7 1572.1,1286.2 C1573.7,1288.7 1574.8,1293.8 1576.2,1297.2 C1577.6,1300.6 1578.7,1304.1 1580.3,1306.8 C1581.9,1309.6 1584.0,1311.2 1585.8,1313.7 C1587.6,1316.2 1589.5,1318.3 1591.3,1321.9 C1593.1,1325.6 1595.0,1331.1 1596.8,1335.7 C1598.6,1340.2 1600.5,1345.5 1602.3,1349.4 C1604.1,1353.3 1606.0,1356.3 1607.8,1359.0 C1609.6,1361.8 1611.5,1364.1 1613.3,1365.9 C1615.1,1367.7 1617.0,1368.9 1618.8,1370.0 C1620.6,1371.2 1622.7,1373.0 1624.3,1372.8 C1625.9,1372.5 1627.0,1369.8 1628.4,1368.6 C1629.8,1367.5 1630.7,1366.5 1632.5,1365.9 C1634.4,1365.3 1636.9,1364.5 1639.4,1365.2 C1641.9,1365.9 1644.9,1369.0 1647.7,1370.0 C1650.4,1371.0 1653.1,1371.2 1655.9,1371.4 C1658.6,1371.6 1661.6,1371.6 1664.1,1371.4 C1666.7,1371.2 1669.0,1370.7 1671.0,1370.0 C1673.1,1369.3 1674.7,1368.0 1676.5,1367.3 C1678.3,1366.6 1679.9,1366.2 1682.0,1365.9 C1684.1,1365.6 1686.6,1365.3 1688.9,1365.2 C1691.2,1365.1 1693.7,1365.6 1695.7,1365.2 C1697.8,1364.9 1699.4,1364.9 1701.2,1363.1 C1703.1,1361.4 1704.9,1357.2 1706.7,1354.9 C1708.6,1352.6 1710.2,1351.2 1712.2,1349.4 C1714.3,1347.6 1716.8,1345.5 1719.1,1343.9 C1721.4,1342.3 1723.9,1341.0 1726.0,1339.8 C1728.0,1338.5 1729.1,1337.1 1731.5,1336.4 C1733.8,1335.6 1737.7,1337.1 1740.0,1335.3 C1742.3,1333.5 1743.7,1328.6 1745.5,1325.7 C1747.3,1322.7 1749.2,1319.7 1751.0,1317.4 C1752.8,1315.1 1754.4,1312.8 1756.5,1311.9 C1758.5,1311.0 1761.3,1312.6 1763.4,1311.9 C1765.4,1311.2 1767.2,1308.8 1768.9,1307.8 C1770.5,1306.8 1771.6,1305.5 1773.0,1305.7 C1774.3,1306.0 1775.7,1308.1 1777.1,1309.2 C1778.5,1310.2 1779.6,1312.2 1781.2,1311.9 C1782.8,1311.7 1784.9,1309.2 1786.7,1307.8 C1788.5,1306.4 1790.4,1305.1 1792.2,1303.7 C1794.0,1302.3 1795.9,1300.1 1797.7,1299.6 C1799.5,1299.0 1801.4,1300.5 1803.2,1300.2 C1805.0,1300.0 1807.0,1299.2 1808.7,1298.2 C1810.4,1297.1 1811.9,1293.8 1813.5,1294.1 C1815.1,1294.3 1816.6,1297.5 1818.3,1299.6 C1820.0,1301.6 1821.8,1305.4 1823.8,1306.4 C1825.9,1307.5 1828.2,1305.9 1830.7,1305.7 C1833.2,1305.6 1835.7,1305.7 1838.9,1305.7 C1842.1,1305.7 1846.3,1305.7 1849.9,1305.7 C1853.6,1305.7 1857.7,1305.6 1860.9,1305.7 C1864.1,1305.9 1866.6,1305.2 1869.2,1306.4 C1871.7,1307.7 1874.0,1311.0 1876.0,1313.3 C1878.1,1315.6 1879.7,1318.1 1881.5,1320.2 C1883.4,1322.2 1885.2,1324.1 1887.0,1325.7 C1888.9,1327.3 1890.7,1328.0 1892.5,1329.8 C1894.4,1331.6 1896.2,1333.9 1898.0,1336.7 C1899.9,1339.4 1901.7,1344.2 1903.5,1346.3 C1905.4,1348.3 1907.0,1349.5 1909.0,1349.0 C1911.1,1348.6 1913.8,1344.7 1915.9,1343.5 C1918.0,1342.4 1919.6,1341.9 1921.4,1342.2 C1923.2,1342.4 1925.1,1344.0 1926.9,1344.9 C1928.7,1345.8 1930.3,1347.2 1932.4,1347.7 C1934.4,1348.1 1937.2,1347.7 1939.3,1347.7 C1941.3,1347.7 1943.1,1347.0 1944.7,1347.7 C1946.4,1348.3 1947.5,1349.9 1948.9,1351.8 C1950.2,1353.6 1951.4,1356.8 1953.0,1358.6 C1954.6,1360.5 1956.7,1361.4 1958.5,1362.8 C1960.3,1364.1 1962.2,1365.7 1964.0,1366.9 C1965.8,1368.0 1967.4,1368.7 1969.5,1369.6 C1971.5,1370.6 1974.5,1371.7 1976.4,1372.4 C1978.2,1373.1 1979.8,1373.5 1980.5,1373.8" fill="none" stroke="#ffc000" stroke-width="3.0" stroke-linejoin="round" stroke-linecap="round"/>
<path d="M1498.6,1240.8 C1499.1,1238.1 1500.7,1230.1 1502.0,1224.4 C1503.2,1218.6 1505.2,1211.5 1506.1,1206.5 C1507.0,1201.5 1506.6,1198.7 1507.5,1194.1 C1508.4,1189.6 1510.2,1184.1 1511.6,1179.0 C1513.0,1174.0 1514.4,1169.2 1515.7,1163.9 C1517.1,1158.6 1518.5,1152.0 1519.9,1147.4 C1521.2,1142.8 1522.6,1138.7 1524.0,1136.4 C1525.3,1134.1 1526.7,1134.4 1528.1,1133.7 C1529.5,1133.0 1530.8,1133.2 1532.2,1132.3 C1533.6,1131.4 1535.1,1129.1 1536.3,1128.2 C1537.6,1127.3 1538.6,1126.6 1539.8,1126.8 C1540.9,1127.0 1542.0,1128.0 1543.2,1129.6 C1544.5,1131.2 1546.2,1133.7 1547.3,1136.4 C1548.5,1139.2 1549.2,1141.9 1550.1,1146.0 C1551.0,1150.2 1551.9,1155.9 1552.8,1161.2 C1553.7,1166.4 1554.7,1172.4 1555.6,1177.7 C1556.5,1182.9 1557.4,1187.3 1558.3,1192.8 C1559.2,1198.3 1559.9,1204.2 1561.1,1210.6 C1562.2,1217.0 1563.8,1224.4 1565.2,1231.2 C1566.6,1238.1 1567.9,1245.0 1569.3,1251.8 C1570.7,1258.7 1572.1,1265.6 1573.4,1272.5 C1574.8,1279.3 1576.2,1286.7 1577.6,1293.1 C1578.9,1299.5 1580.1,1305.7 1581.7,1310.9 C1583.3,1316.2 1585.1,1320.5 1587.2,1324.7 C1589.2,1328.8 1591.8,1332.0 1594.1,1335.7 C1596.3,1339.3 1598.6,1343.0 1600.9,1346.7 C1603.2,1350.3 1605.5,1354.0 1607.8,1357.7 C1610.1,1361.3 1612.8,1365.2 1614.7,1368.6 C1616.5,1372.1 1617.4,1375.7 1618.8,1378.3 C1620.2,1380.8 1621.5,1383.8 1622.9,1383.8 C1624.3,1383.8 1625.7,1380.6 1627.0,1378.3 C1628.4,1376.0 1629.6,1372.1 1631.2,1370.0 C1632.8,1368.0 1634.8,1366.8 1636.7,1365.9 C1638.5,1365.0 1640.1,1364.8 1642.2,1364.5 C1644.2,1364.3 1646.7,1364.4 1649.0,1364.5 C1651.3,1364.6 1653.8,1364.5 1655.9,1365.2 C1658.0,1365.9 1659.6,1367.4 1661.4,1368.6 C1663.2,1369.9 1665.1,1371.6 1666.9,1372.8 C1668.7,1373.9 1670.3,1374.8 1672.4,1375.5 C1674.4,1376.2 1677.0,1376.7 1679.3,1376.9 C1681.5,1377.1 1683.8,1376.4 1686.1,1376.9 C1688.4,1377.3 1690.9,1378.7 1693.0,1379.6 C1695.1,1380.6 1696.7,1382.6 1698.5,1382.4 C1700.3,1382.2 1701.9,1379.2 1704.0,1378.3 C1706.1,1377.3 1708.8,1377.6 1710.9,1376.9 C1712.9,1376.2 1714.5,1375.5 1716.4,1374.1 C1718.2,1372.8 1719.8,1370.0 1721.9,1368.6 C1723.9,1367.3 1725.7,1366.9 1728.7,1365.9 C1731.8,1364.9 1737.4,1364.4 1740.0,1362.8 C1742.6,1361.1 1742.5,1357.5 1744.1,1355.9 C1745.7,1354.3 1747.8,1353.4 1749.6,1353.1 C1751.4,1352.9 1753.3,1355.9 1755.1,1354.5 C1756.9,1353.1 1758.8,1347.4 1760.6,1344.9 C1762.4,1342.4 1764.3,1340.8 1766.1,1339.4 C1767.9,1338.0 1769.5,1337.3 1771.6,1336.7 C1773.7,1336.0 1776.2,1335.4 1778.5,1335.3 C1780.8,1335.2 1783.3,1336.2 1785.3,1336.0 C1787.4,1335.7 1789.0,1334.7 1790.8,1333.9 C1792.7,1333.1 1794.3,1331.8 1796.3,1331.2 C1798.4,1330.5 1801.1,1330.5 1803.2,1329.8 C1805.3,1329.1 1806.9,1328.0 1808.7,1327.0 C1810.5,1326.1 1812.4,1324.3 1814.2,1324.3 C1816.0,1324.3 1817.9,1326.1 1819.7,1327.0 C1821.5,1328.0 1823.1,1329.4 1825.2,1329.8 C1827.3,1330.1 1830.0,1329.8 1832.1,1329.1 C1834.1,1328.4 1835.7,1326.6 1837.6,1325.7 C1839.4,1324.7 1841.2,1324.1 1843.1,1323.6 C1844.9,1323.1 1846.7,1324.2 1848.6,1322.9 C1850.4,1321.7 1852.2,1318.3 1854.1,1316.0 C1855.9,1313.8 1857.7,1310.9 1859.5,1309.2 C1861.4,1307.5 1863.0,1306.3 1865.0,1305.7 C1867.1,1305.2 1870.1,1304.7 1871.9,1305.7 C1873.7,1306.8 1874.7,1309.7 1876.0,1311.9 C1877.4,1314.1 1878.3,1317.0 1880.2,1318.8 C1882.0,1320.6 1885.2,1321.3 1887.0,1322.9 C1888.9,1324.5 1889.8,1325.9 1891.2,1328.4 C1892.5,1330.9 1893.9,1335.5 1895.3,1338.0 C1896.7,1340.6 1897.8,1341.9 1899.4,1343.5 C1901.0,1345.1 1902.8,1347.0 1904.9,1347.7 C1907.0,1348.3 1909.7,1347.2 1911.8,1347.7 C1913.8,1348.1 1915.7,1349.5 1917.3,1350.4 C1918.9,1351.3 1919.6,1352.7 1921.4,1353.1 C1923.2,1353.6 1926.0,1352.7 1928.3,1353.1 C1930.5,1353.6 1933.1,1355.0 1935.1,1355.9 C1937.2,1356.8 1938.3,1358.0 1940.6,1358.6 C1942.9,1359.3 1946.1,1360.0 1948.9,1360.0 C1951.6,1360.0 1954.8,1358.6 1957.1,1358.6 C1959.4,1358.6 1960.8,1359.1 1962.6,1360.0 C1964.4,1360.9 1966.0,1363.2 1968.1,1364.1 C1970.2,1365.1 1972.9,1365.3 1975.0,1365.5 C1977.0,1365.7 1979.6,1365.5 1980.5,1365.5" fill="none" stroke="#ff0000" stroke-width="3.0" stroke-linejoin="round" stroke-linecap="round"/>
</g>
<rect x="146.6" y="1009.0" width="498.7" height="416.0" fill="none" stroke="#3a3a3a" stroke-width="2.2"/>
<rect x="823.3" y="1008.3" width="496.5" height="415.8" fill="none" stroke="#3a3a3a" stroke-width="2.2"/>
<rect x="1482.1" y="1007.4" width="498.2" height="417.7" fill="none" stroke="#3a3a3a" stroke-width="2.2"/>
<rect x="190.3" y="1549.8" width="970.8" height="411.5" fill="none" stroke="#3a3a3a" stroke-width="2.2"/>
<rect x="1370.0" y="1549.0" width="595.2" height="411.7" fill="none" stroke="#3a3a3a" stroke-width="2.2"/>
</svg>
</body></html>
